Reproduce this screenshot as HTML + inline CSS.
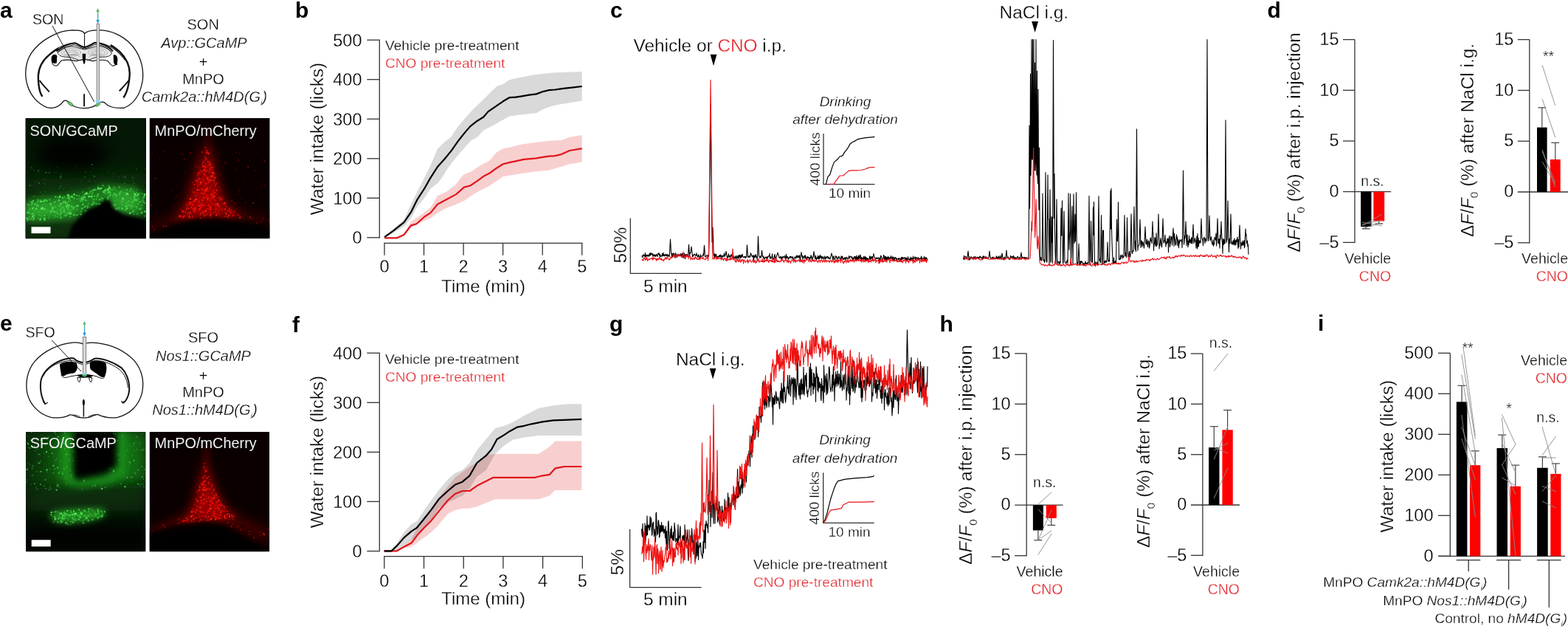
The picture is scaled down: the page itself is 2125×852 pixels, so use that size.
<!DOCTYPE html>
<html><head><meta charset="utf-8"><style>
html,body{margin:0;padding:0;background:#fff;}
svg{display:block;}
text{font-family:"Liberation Sans",Arial,sans-serif;stroke:#fff;stroke-width:0.3px;}
text.nb{stroke:none;}
</style></head><body>
<svg width="2125" height="852" viewBox="0 0 2125 852">
<rect width="2125" height="852" fill="#fff"/>
<text x="0" y="24" font-size="30" text-anchor="start" fill="#000" class="nb" font-weight="bold">a</text>
<text x="400" y="23.6" font-size="30" text-anchor="start" fill="#000" class="nb" font-weight="bold">b</text>
<text x="827" y="24" font-size="30" text-anchor="start" fill="#000" class="nb" font-weight="bold">c</text>
<text x="1717.5" y="24.4" font-size="30" text-anchor="start" fill="#000" class="nb" font-weight="bold">d</text>
<text x="0" y="447.5" font-size="30" text-anchor="start" fill="#000" class="nb" font-weight="bold">e</text>
<text x="396" y="449.6" font-size="30" text-anchor="start" fill="#000" class="nb" font-weight="bold">f</text>
<text x="826" y="449" font-size="30" text-anchor="start" fill="#000" class="nb" font-weight="bold">g</text>
<text x="1273.5" y="449" font-size="30" text-anchor="start" fill="#000" class="nb" font-weight="bold">h</text>
<text x="1786" y="448" font-size="30" text-anchor="start" fill="#000" class="nb" font-weight="bold">i</text>
<path d="M521.1,322.3 L538,321.6 L547.5,317 L557,300.1 L572.8,289.5 L583.4,281.1 L592.9,265.2 L604.5,259.9 L617.2,250.4 L627.8,236.7 L638.4,232.4 L651.1,224 L663.7,217.6 L672.2,207.1 L681.7,201.2 L690.2,199.8 L707.1,195.6 L726.8,192.8 L743.7,190.8 L760.6,190 L771.8,185.7 L788.7,182.9 L788.7,219.5 L771.8,222.3 L757.8,226.6 L743.7,230.8 L726.8,232.2 L707.1,235 L690.2,237.8 L681.7,239.2 L663.7,251.5 L651.1,257.8 L638.4,265.2 L629.9,271.5 L618.3,276.8 L604.5,282.1 L592.9,288.4 L583.4,295.8 L572.8,300.1 L557,308.5 L547.5,319.1 L538,322.7 L521.1,322.3 Z" fill="#f8cfcf" stroke="none"/>
<path d="M521.1,321.2 L534.8,308.5 L547.5,298 L557,276.8 L565.4,259.9 L575,240.9 L583.4,224 L592.9,201.8 L602.4,192.3 L610.9,185.9 L619.3,173.3 L629.9,160.6 L638.4,151.1 L673.3,116.7 L681.7,113.9 L690.2,108.3 L698.6,106.3 L709.9,104.1 L721.2,101.8 L735.2,99.9 L749.3,98.4 L788.7,97 L788.7,136.5 L769,139.8 L755,142.1 L743.7,144.9 L735.2,148.6 L726.8,153.3 L707.1,155.3 L690.2,157.6 L668,170.1 L655.3,176.4 L646.8,185.9 L638.4,190.2 L629.9,199.7 L621.5,209.2 L613,219.8 L606.7,228.2 L600.3,238.8 L594,247.2 L583.4,255.7 L575,268.4 L565.4,280 L557,295.8 L547.5,306.4 L532.7,315.9 L521.1,321.2 Z" fill="#d9d9d9" stroke="none" style="mix-blend-mode:multiply"/>
<path d="M521.1,322.3 L538,322.3 L547.5,318 L557,305.4 L564.4,303.2 L575,293.7 L583.4,288.4 L592.9,276.8 L604.5,270.5 L618.3,263.1 L628.9,253.6 L637.3,251.5 L646.8,245.1 L655.3,238.8 L663.7,234.5 L672.2,228.2 L681.7,222.3 L690.2,220.1 L698.6,218.4 L709.9,215.9 L726.8,214.4 L735.2,212.8 L743.7,211.6 L752.1,211.1 L760.6,209.1 L771.8,204 L788.7,201.2" fill="none" stroke="#e0161c" stroke-width="2.2" stroke-linejoin="round"/>
<path d="M521.1,321.2 L532.7,312.8 L547.5,301.1 L557,287.4 L565.4,270.5 L575,255.7 L583.4,240.9 L592.9,226.1 L602.4,215.5 L611.9,203.9 L621.5,190.2 L629.9,179.6 L637.3,171.1 L646.8,163.7 L655.3,158.5 L661.6,151.1 L681.7,137.3 L690.2,132.2 L698.6,131.7 L707.1,130.3 L716.9,128.6 L726.8,127.4 L735.2,124.3 L743.7,122.1 L752.1,121.5 L763.4,119.8 L774.7,118.7 L788.7,117" fill="none" stroke="#000" stroke-width="2.2" stroke-linejoin="round"/>
<line x1="514.3" y1="54.2" x2="514.3" y2="322.4" stroke="#333" stroke-width="1.3"/>
<line x1="497.3" y1="321.8" x2="514.9" y2="321.8" stroke="#333" stroke-width="1.3"/>
<text x="490.5" y="330.1" font-size="23.5" text-anchor="end" fill="#000">0</text>
<line x1="497.3" y1="268.3" x2="514.9" y2="268.3" stroke="#333" stroke-width="1.3"/>
<text x="490.5" y="276.6" font-size="23.5" text-anchor="end" fill="#000">100</text>
<line x1="497.3" y1="214.8" x2="514.9" y2="214.8" stroke="#333" stroke-width="1.3"/>
<text x="490.5" y="223.1" font-size="23.5" text-anchor="end" fill="#000">200</text>
<line x1="497.3" y1="161.2" x2="514.9" y2="161.2" stroke="#333" stroke-width="1.3"/>
<text x="490.5" y="169.5" font-size="23.5" text-anchor="end" fill="#000">300</text>
<line x1="497.3" y1="107.7" x2="514.9" y2="107.7" stroke="#333" stroke-width="1.3"/>
<text x="490.5" y="116" font-size="23.5" text-anchor="end" fill="#000">400</text>
<line x1="497.3" y1="54.2" x2="514.9" y2="54.2" stroke="#333" stroke-width="1.3"/>
<text x="490.5" y="62.5" font-size="23.5" text-anchor="end" fill="#000">500</text>
<line x1="520.4" y1="329.3" x2="789.3" y2="329.3" stroke="#333" stroke-width="1.3"/>
<line x1="521" y1="329.3" x2="521" y2="345.8" stroke="#333" stroke-width="1.3"/>
<text x="521" y="368.8" font-size="23.5" text-anchor="middle" fill="#000">0</text>
<line x1="574.5" y1="329.3" x2="574.5" y2="345.8" stroke="#333" stroke-width="1.3"/>
<text x="574.5" y="368.8" font-size="23.5" text-anchor="middle" fill="#000">1</text>
<line x1="628.1" y1="329.3" x2="628.1" y2="345.8" stroke="#333" stroke-width="1.3"/>
<text x="628.1" y="368.8" font-size="23.5" text-anchor="middle" fill="#000">2</text>
<line x1="681.6" y1="329.3" x2="681.6" y2="345.8" stroke="#333" stroke-width="1.3"/>
<text x="681.6" y="368.8" font-size="23.5" text-anchor="middle" fill="#000">3</text>
<line x1="735.2" y1="329.3" x2="735.2" y2="345.8" stroke="#333" stroke-width="1.3"/>
<text x="735.2" y="368.8" font-size="23.5" text-anchor="middle" fill="#000">4</text>
<line x1="788.7" y1="329.3" x2="788.7" y2="345.8" stroke="#333" stroke-width="1.3"/>
<text x="788.7" y="368.8" font-size="23.5" text-anchor="middle" fill="#000">5</text>
<text x="655" y="395.8" font-size="24" text-anchor="middle" fill="#000">Time (min)</text>
<text transform="translate(437.5,188) rotate(-90)" font-size="24.4" text-anchor="middle" fill="#000">Water intake (licks)</text>
<text x="522" y="68" font-size="19.1" text-anchor="start" fill="#000">Vehicle pre-treatment</text>
<text x="522" y="92.3" font-size="19.1" text-anchor="start" fill="#e3262b">CNO pre-treatment</text>
<path d="M520.6,746.3 L537.9,746.3 L547.7,738 L557.6,730.6 L565,715.8 L574.9,701 L584.7,688.7 L594.6,673.9 L606.9,659.1 L616.8,646.8 L626.6,639.4 L636.5,632 L646.3,627 L658.7,617.2 L668.5,614.7 L685.8,614.7 L710.4,614.7 L730.1,614.7 L744.9,604.9 L752.3,597.5 L764.6,597.5 L788.3,597.5 L788.3,664 L764.6,664 L752.3,664 L744.9,671.4 L730.1,676.3 L710.4,676.3 L685.8,676.3 L671,676.3 L658.7,681.3 L646.3,686.2 L636.5,688.7 L626.6,688.7 L616.8,691.1 L606.9,696.1 L594.6,710.8 L584.7,720.7 L574.9,728.1 L565,735.5 L557.6,740.4 L547.7,742.9 L537.9,746.3 L520.6,746.3 Z" fill="#f8cfcf" stroke="none"/>
<path d="M520.6,746.3 L530.5,745.4 L537.9,735.5 L547.7,720.7 L557.6,709.9 L565,705.9 L574.9,691.1 L584.7,677.3 L594.6,664 L606.9,649.2 L616.8,640.8 L626.6,636.9 L636.5,627 L646.3,609.8 L658.7,595 L671,580.2 L683.3,576.8 L695.6,571.8 L710.4,563 L730.1,553.1 L749.9,549.2 L769.6,547.2 L788.3,547.2 L788.3,590.1 L769.6,590.1 L749.9,590.1 L730.1,590.1 L710.4,592.5 L695.6,595.5 L683.3,603.4 L671,614.7 L658.7,636.9 L646.3,645.8 L636.5,661.5 L626.6,671.4 L616.8,676.3 L606.9,680.3 L594.6,688.7 L584.7,703.5 L574.9,714.8 L565,726.6 L557.6,731.5 L547.7,738 L537.9,745.4 L520.6,746.3 Z" fill="#d9d9d9" stroke="none" style="mix-blend-mode:multiply"/>
<path d="M520.6,746.3 L537.9,746.3 L547.7,740.4 L557.6,735.5 L565,725.6 L574.9,714.8 L584.7,704.9 L594.6,692.6 L606.9,677.8 L616.8,668.9 L626.6,665 L636.5,665 L646.3,658.1 L658.7,651.7 L668.5,646.8 L685.8,646.8 L710.4,646.8 L725.2,646.8 L735.1,644.3 L744.9,642.8 L752.3,634.4 L764.6,632 L788.3,632" fill="none" stroke="#e0161c" stroke-width="2.2" stroke-linejoin="round"/>
<path d="M520.6,746.3 L530.5,746.3 L537.9,739.4 L547.7,728.1 L557.6,719.7 L565,714.8 L574.9,702.5 L584.7,690.1 L594.6,676.3 L606.9,665 L616.8,656.6 L626.6,652.7 L636.5,644.3 L646.3,627 L658.7,617.2 L666.1,608.8 L673.5,595 L683.3,589.1 L690.7,584.2 L700.6,578.7 L710.4,576.8 L720.3,574.3 L735.1,571.3 L749.9,569.4 L764.6,568.9 L788.3,567.9" fill="none" stroke="#000" stroke-width="2.2" stroke-linejoin="round"/>
<line x1="514.3" y1="478.2" x2="514.3" y2="747.1" stroke="#333" stroke-width="1.3"/>
<line x1="497.3" y1="746.5" x2="514.9" y2="746.5" stroke="#333" stroke-width="1.3"/>
<text x="490.5" y="754.8" font-size="23.5" text-anchor="end" fill="#000">0</text>
<line x1="497.3" y1="679.4" x2="514.9" y2="679.4" stroke="#333" stroke-width="1.3"/>
<text x="490.5" y="687.7" font-size="23.5" text-anchor="end" fill="#000">100</text>
<line x1="497.3" y1="612.4" x2="514.9" y2="612.4" stroke="#333" stroke-width="1.3"/>
<text x="490.5" y="620.6" font-size="23.5" text-anchor="end" fill="#000">200</text>
<line x1="497.3" y1="545.3" x2="514.9" y2="545.3" stroke="#333" stroke-width="1.3"/>
<text x="490.5" y="553.6" font-size="23.5" text-anchor="end" fill="#000">300</text>
<line x1="497.3" y1="478.2" x2="514.9" y2="478.2" stroke="#333" stroke-width="1.3"/>
<text x="490.5" y="486.5" font-size="23.5" text-anchor="end" fill="#000">400</text>
<line x1="520.2" y1="753.7" x2="789.9" y2="753.7" stroke="#333" stroke-width="1.3"/>
<line x1="520.8" y1="753.7" x2="520.8" y2="770.2" stroke="#333" stroke-width="1.3"/>
<text x="520.8" y="794.6" font-size="23.5" text-anchor="middle" fill="#000">0</text>
<line x1="574.5" y1="753.7" x2="574.5" y2="770.2" stroke="#333" stroke-width="1.3"/>
<text x="574.5" y="794.6" font-size="23.5" text-anchor="middle" fill="#000">1</text>
<line x1="628.2" y1="753.7" x2="628.2" y2="770.2" stroke="#333" stroke-width="1.3"/>
<text x="628.2" y="794.6" font-size="23.5" text-anchor="middle" fill="#000">2</text>
<line x1="681.9" y1="753.7" x2="681.9" y2="770.2" stroke="#333" stroke-width="1.3"/>
<text x="681.9" y="794.6" font-size="23.5" text-anchor="middle" fill="#000">3</text>
<line x1="735.6" y1="753.7" x2="735.6" y2="770.2" stroke="#333" stroke-width="1.3"/>
<text x="735.6" y="794.6" font-size="23.5" text-anchor="middle" fill="#000">4</text>
<line x1="789.3" y1="753.7" x2="789.3" y2="770.2" stroke="#333" stroke-width="1.3"/>
<text x="789.3" y="794.6" font-size="23.5" text-anchor="middle" fill="#000">5</text>
<text x="655" y="819.3" font-size="24" text-anchor="middle" fill="#000">Time (min)</text>
<text transform="translate(437.5,612) rotate(-90)" font-size="24.4" text-anchor="middle" fill="#000">Water intake (licks)</text>
<text x="522" y="492.5" font-size="19.1" text-anchor="start" fill="#000">Vehicle pre-treatment</text>
<text x="522" y="516.8" font-size="19.1" text-anchor="start" fill="#e3262b">CNO pre-treatment</text>
<text x="858.5" y="69.8" font-size="24.4" fill="#000">Vehicle or <tspan fill="#e3262b">CNO</tspan> i.p.</text>
<path d="M962.6,73.8 L971.4,73.8 L967,89.3 Z" fill="#000"/>
<path d="M870,346.1 L870.5,348.4 L871,348.2 L871.5,345.1 L872,345.4 L872.5,345 L873,347 L873.5,345.8 L874,347.3 L874.5,342.6 L875,348.7 L875.5,345.7 L876,347.1 L876.5,345.7 L877,345.2 L877.5,346.7 L878,347.4 L878.5,345.5 L879,345.6 L879.5,347.1 L880,344.3 L880.5,343.1 L881,346.6 L881.5,344.6 L882,342.4 L882.5,344.4 L883,345 L883.5,343.7 L884,343.1 L884.5,345.9 L885,347.4 L885.5,345.4 L886,344.4 L886.5,346.5 L887,347 L887.5,345.2 L888,346.7 L888.5,347.6 L889,345.4 L889.5,344.3 L890,346.3 L890.5,346.2 L891,347.7 L891.5,343.4 L892,344.5 L892.5,344.2 L893,342.6 L893.5,345.9 L894,346.6 L894.5,344.3 L895,348.1 L895.5,347.1 L896,346.8 L896.5,346.3 L897,347.3 L897.5,343.2 L898,346.7 L898.5,346.7 L899,342.4 L899.5,346.2 L900,345.1 L900.5,347 L901,344.8 L901.5,345.5 L902,346.2 L902.5,344 L903,346.6 L903.5,345.3 L904,346.4 L904.5,344.6 L905,347.5 L905.5,346.6 L906,345.2 L906.5,346.7 L907,347.8 L907.5,342 L908,333 L908.5,324 L909,333 L909.5,342 L910,343.8 L910.5,347.9 L911,343.3 L911.5,346.6 L912,348 L912.5,342.8 L913,345.1 L913.5,343.3 L914,346.1 L914.5,348.4 L915,349.3 L915.5,342.5 L916,344.7 L916.5,347 L917,348.6 L917.5,346.5 L918,344.4 L918.5,346.3 L919,345.7 L919.5,345.4 L920,344.5 L920.5,346.5 L921,346.3 L921.5,345.6 L922,345.4 L922.5,343.5 L923,345 L923.5,348 L924,345.5 L924.5,343.3 L925,348.3 L925.5,346.8 L926,349.7 L926.5,346 L927,345.1 L927.5,343.3 L928,348.3 L928.5,350.6 L929,344.5 L929.5,344.8 L930,347 L930.5,344.5 L931,345.5 L931.5,345.4 L932,346.3 L932.5,348 L933,338.7 L933.5,331.4 L934,338.7 L934.5,346.6 L935,342.2 L935.5,343.4 L936,342.1 L936.5,338 L937,334 L937.5,338 L938,342.1 L938.5,347.6 L939,347.9 L939.5,345.9 L940,344.9 L940.5,344.8 L941,345.3 L941.5,344.1 L942,345.2 L942.5,346 L943,346.6 L943.5,345.6 L944,342.7 L944.5,346.1 L945,346.6 L945.5,348.2 L946,347.3 L946.5,345.1 L947,345 L947.5,349.9 L948,347.6 L948.5,349.6 L949,350.1 L949.5,344.8 L950,347 L950.5,347.2 L951,347.3 L951.5,347.3 L952,346.7 L952.5,346.7 L953,343.7 L953.5,346.1 L954,339.4 L954.5,332.4 L955,339.4 L955.5,347.5 L956,347.9 L956.5,347 L957,347 L957.5,346.6 L958,345.7 L958.5,346.2 L959,345.6 L959.5,347.2 L960,346.5 L960.5,347.6 L961,327.9 L961.5,281.4 L962,234.8 L962.5,188.2 L963,141.6 L963.5,188.2 L964,234.8 L964.5,281.4 L965,327.9 L965.5,324.1 L966,308 L966.5,324.1 L967,340.2 L967.5,346.7 L968,343.9 L968.5,349.9 L969,344 L969.5,347.6 L970,347.7 L970.5,344.2 L971,347.3 L971.5,348.6 L972,347.6 L972.5,347.3 L973,348.5 L973.5,347.1 L974,347.5 L974.5,346.6 L975,348 L975.5,345.2 L976,348.3 L976.5,346 L977,345 L977.5,347.6 L978,350 L978.5,348.7 L979,346 L979.5,348.2 L980,346.2 L980.5,346.8 L981,347.2 L981.5,342.9 L982,347.4 L982.5,345.2 L983,345.8 L983.5,343.2 L984,340.4 L984.5,343.2 L985,346 L985.5,350.1 L986,347.1 L986.5,349.1 L987,346.7 L987.5,343.7 L988,347.5 L988.5,348 L989,346.5 L989.5,347.8 L990,348.3 L990.5,345.7 L991,344.6 L991.5,346.9 L992,346.9 L992.5,346.7 L993,349.1 L993.5,350.4 L994,346.6 L994.5,348.6 L995,349.1 L995.5,348.7 L996,349.3 L996.5,346.7 L997,348.8 L997.5,351.1 L998,348.9 L998.5,346.3 L999,348.6 L999.5,349.8 L1000,348.2 L1000.5,346.5 L1001,350.3 L1001.5,345.3 L1002,348.4 L1002.5,347.5 L1003,345.4 L1003.5,349.8 L1004,348.2 L1004.5,345.5 L1005,348.7 L1005.5,346.8 L1006,344.2 L1006.5,346.4 L1007,348.1 L1007.5,348.8 L1008,347.9 L1008.5,347.7 L1009,348.5 L1009.5,347.3 L1010,349.8 L1010.5,347.9 L1011,348.2 L1011.5,348.7 L1012,339.8 L1012.5,331.9 L1013,339.8 L1013.5,348.3 L1014,347.2 L1014.5,348.4 L1015,346.9 L1015.5,348.3 L1016,346.6 L1016.5,348.3 L1017,344.9 L1017.5,342.7 L1018,345.2 L1018.5,345 L1019,347.4 L1019.5,347.2 L1020,348.1 L1020.5,345.8 L1021,348.6 L1021.5,354.4 L1022,345.6 L1022.5,348.5 L1023,347.3 L1023.5,348.2 L1024,344.6 L1024.5,345.8 L1025,348.7 L1025.5,347.9 L1026,350.9 L1026.5,346.7 L1027,334 L1027.5,320.1 L1028,334 L1028.5,346.3 L1029,347.9 L1029.5,347.9 L1030,349.5 L1030.5,348.2 L1031,346.7 L1031.5,348.4 L1032,343.7 L1032.5,339.4 L1033,343 L1033.5,347.8 L1034,346.5 L1034.5,349.2 L1035,347.8 L1035.5,351.6 L1036,349.8 L1036.5,349.7 L1037,348.5 L1037.5,348.1 L1038,348.7 L1038.5,350.5 L1039,349.1 L1039.5,347.5 L1040,350.5 L1040.5,348.5 L1041,348 L1041.5,346.8 L1042,347.2 L1042.5,347.1 L1043,343.2 L1043.5,350.1 L1044,349.3 L1044.5,347.9 L1045,350.1 L1045.5,349 L1046,348.9 L1046.5,343.8 L1047,347.9 L1047.5,349.2 L1048,351.2 L1048.5,351.6 L1049,350.9 L1049.5,346.2 L1050,344.4 L1050.5,349.4 L1051,348.4 L1051.5,350.1 L1052,348.1 L1052.5,346.8 L1053,345.3 L1053.5,343.8 L1054,342.2 L1054.5,343.8 L1055,345.3 L1055.5,346.8 L1056,349 L1056.5,348.4 L1057,349.8 L1057.5,349.4 L1058,347.5 L1058.5,347.4 L1059,351.6 L1059.5,348.3 L1060,350.3 L1060.5,349.2 L1061,347.5 L1061.5,347.2 L1062,348.7 L1062.5,349 L1063,349.6 L1063.5,346.3 L1064,347.5 L1064.5,348.4 L1065,351.4 L1065.5,344.3 L1066,349.4 L1066.5,347.6 L1067,349.4 L1067.5,347.7 L1068,349.2 L1068.5,351.4 L1069,349.2 L1069.5,349.4 L1070,349.3 L1070.5,347.3 L1071,349.6 L1071.5,348.3 L1072,347.2 L1072.5,348.6 L1073,348.2 L1073.5,350 L1074,348.6 L1074.5,347.7 L1075,351.3 L1075.5,350.5 L1076,351 L1076.5,349.8 L1077,348.5 L1077.5,347.9 L1078,348.2 L1078.5,350.4 L1079,348.9 L1079.5,346 L1080,348.7 L1080.5,346.2 L1081,349 L1081.5,346.6 L1082,346.5 L1082.5,349 L1083,348.6 L1083.5,345.8 L1084,350.1 L1084.5,352.7 L1085,346.1 L1085.5,345.1 L1086,341.5 L1086.5,345.1 L1087,348.5 L1087.5,346.2 L1088,351.1 L1088.5,349.7 L1089,347.5 L1089.5,348.3 L1090,346.1 L1090.5,348.2 L1091,350.5 L1091.5,345.8 L1092,348.1 L1092.5,349.1 L1093,350.8 L1093.5,351.3 L1094,348.1 L1094.5,347.6 L1095,349.7 L1095.5,348.2 L1096,348.3 L1096.5,350.8 L1097,352 L1097.5,349.4 L1098,348.6 L1098.5,350 L1099,345.5 L1099.5,348.9 L1100,347 L1100.5,353.3 L1101,350.3 L1101.5,349.2 L1102,348.6 L1102.5,344.4 L1103,340.5 L1103.5,344.7 L1104,347.7 L1104.5,350.2 L1105,350.3 L1105.5,346.2 L1106,350.7 L1106.5,351.5 L1107,349.4 L1107.5,348.9 L1108,350.5 L1108.5,346.3 L1109,349.2 L1109.5,350.9 L1110,346.8 L1110.5,350.8 L1111,348.3 L1111.5,345.3 L1112,348.9 L1112.5,347.3 L1113,349.7 L1113.5,347 L1114,351 L1114.5,347.8 L1115,349.8 L1115.5,348 L1116,348.5 L1116.5,351.3 L1117,349.5 L1117.5,348.4 L1118,346.9 L1118.5,351.2 L1119,350.5 L1119.5,348.6 L1120,349.6 L1120.5,347.3 L1121,347.4 L1121.5,347.7 L1122,349.8 L1122.5,349.7 L1123,347.9 L1123.5,350.5 L1124,350.6 L1124.5,349.5 L1125,351.1 L1125.5,348.7 L1126,347.2 L1126.5,345.1 L1127,343 L1127.5,345.1 L1128,347 L1128.5,351.8 L1129,347.9 L1129.5,349 L1130,346.8 L1130.5,350.4 L1131,351.6 L1131.5,351.2 L1132,350.8 L1132.5,346.5 L1133,347.9 L1133.5,348.5 L1134,347.6 L1134.5,351.3 L1135,349.7 L1135.5,349.3 L1136,350.2 L1136.5,347.6 L1137,347.7 L1137.5,347.8 L1138,350.3 L1138.5,350 L1139,350.4 L1139.5,351.3 L1140,346.9 L1140.5,348.4 L1141,349.7 L1141.5,347 L1142,348.5 L1142.5,351.2 L1143,351.4 L1143.5,351.4 L1144,349.5 L1144.5,349.1 L1145,351.4 L1145.5,348.8 L1146,350.1 L1146.5,351.8 L1147,348.8 L1147.5,348.4 L1148,349.5 L1148.5,350.6 L1149,350.4 L1149.5,349.8 L1150,350.5 L1150.5,346.6 L1151,348 L1151.5,349.8 L1152,347.8 L1152.5,347.1 L1153,347.4 L1153.5,347.9 L1154,349.2 L1154.5,347.7 L1155,350 L1155.5,352.6 L1156,349.3 L1156.5,351.9 L1157,350.1 L1157.5,347.6 L1158,349.1 L1158.5,347.8 L1159,351 L1159.5,347.5 L1160,352 L1160.5,350.6 L1161,346 L1161.5,351 L1162,352.4 L1162.5,348.2 L1163,351.4 L1163.5,346.4 L1164,350.1 L1164.5,346.6 L1165,350.5 L1165.5,346.4 L1166,344.9 L1166.5,350.4 L1167,353.8 L1167.5,348.6 L1168,351.2 L1168.5,349.9 L1169,349.1 L1169.5,350.8 L1170,352.6 L1170.5,347.5 L1171,350.7 L1171.5,350.3 L1172,347.1 L1172.5,352.6 L1173,353.2 L1173.5,348 L1174,352.9 L1174.5,349.8 L1175,349.4 L1175.5,352.4 L1176,350.2 L1176.5,350.3 L1177,352.5 L1177.5,352.1 L1178,351.4 L1178.5,347.2 L1179,346.9 L1179.5,351.8 L1180,348.1 L1180.5,350.1 L1181,347.9 L1181.5,349.5 L1182,347.5 L1182.5,352.7 L1183,348 L1183.5,346.7 L1184,343.5 L1184.5,346.7 L1185,347.3 L1185.5,349.8 L1186,349.5 L1186.5,350.8 L1187,350.7 L1187.5,349 L1188,350.3 L1188.5,349.2 L1189,350.7 L1189.5,349.7 L1190,348.7 L1190.5,349.8 L1191,350.5 L1191.5,354 L1192,349 L1192.5,350.4 L1193,352.5 L1193.5,346.2 L1194,346.8 L1194.5,347.8 L1195,349.7 L1195.5,354.3 L1196,350.6 L1196.5,352.1 L1197,349.5 L1197.5,345.5 L1198,345.8 L1198.5,351.8 L1199,350.3 L1199.5,347.6 L1200,352 L1200.5,347.2 L1201,352 L1201.5,352.6 L1202,348.6 L1202.5,348 L1203,351.5 L1203.5,348 L1204,351.6 L1204.5,347.9 L1205,351.5 L1205.5,350.2 L1206,349.2 L1206.5,348.4 L1207,350.5 L1207.5,346.6 L1208,349.5 L1208.5,349.3 L1209,351.3 L1209.5,347.8 L1210,353.1 L1210.5,349.5 L1211,348 L1211.5,352.6 L1212,353.1 L1212.5,349.7 L1213,348.5 L1213.5,350.1 L1214,348.9 L1214.5,349.5 L1215,352.9 L1215.5,350.8 L1216,350.4 L1216.5,350.7 L1217,350 L1217.5,351.6 L1218,351.7 L1218.5,349.5 L1219,350.3 L1219.5,354.5 L1220,350.9 L1220.5,349.8 L1221,353.9 L1221.5,350.2 L1222,348.2 L1222.5,351.4 L1223,348.6 L1223.5,349.3 L1224,350.8 L1224.5,350 L1225,348.8 L1225.5,349.2 L1226,349.1 L1226.5,352.3 L1227,348.9 L1227.5,349.2 L1228,353.9 L1228.5,349.2 L1229,352.9 L1229.5,352.6 L1230,350 L1230.5,347.7 L1231,351.1 L1231.5,351.5 L1232,352 L1232.5,350.4 L1233,352.4 L1233.5,352.8 L1234,348.4 L1234.5,352.9 L1235,350.6 L1235.5,349.3 L1236,349.7 L1236.5,353.7 L1237,352.1 L1237.5,347.1 L1238,350.5 L1238.5,350.1 L1239,350 L1239.5,349.4 L1240,347.7 L1240.5,351.9 L1241,348.7 L1241.5,349.7 L1242,349.3 L1242.5,349.1 L1243,351.7 L1243.5,351.1 L1244,349.2 L1244.5,348.7 L1245,349.5 L1245.5,352.1 L1246,350.6 L1246.5,350.8 L1247,349.8 L1247.5,349.9 L1248,350.8 L1248.5,347.1 L1249,353.3 L1249.5,349 L1250,349.4 L1250.5,352.8 L1251,350.8 L1251.5,350.5 L1252,349.4 L1252.5,347.6 L1253,350.8 L1253.5,352.6 L1254,348.9 L1254.5,352.9 L1255,348.5 L1255.5,349.2 L1256,351.4 L1256.5,350.5 L1257,351.7" fill="none" stroke="#000" stroke-width="1.1" stroke-linejoin="round"/>
<path d="M870,351 L870.5,352.5 L871,352 L871.5,352 L872,353.2 L872.5,349.3 L873,350.1 L873.5,349.1 L874,350.8 L874.5,352.3 L875,350.9 L875.5,351.6 L876,348.2 L876.5,351.1 L877,349.6 L877.5,353.4 L878,352.1 L878.5,352.2 L879,350.8 L879.5,351.7 L880,351.8 L880.5,350.4 L881,350.2 L881.5,350.7 L882,350 L882.5,350 L883,350.4 L883.5,349.8 L884,351.9 L884.5,348.6 L885,352 L885.5,349.9 L886,350 L886.5,348.9 L887,350.6 L887.5,350.4 L888,351 L888.5,350 L889,350.9 L889.5,353.3 L890,351.3 L890.5,349.9 L891,352.1 L891.5,350.5 L892,351.5 L892.5,351.6 L893,350.1 L893.5,348 L894,350.2 L894.5,351.4 L895,350.1 L895.5,351.3 L896,352 L896.5,349.9 L897,352.4 L897.5,352.9 L898,352.1 L898.5,352.3 L899,352.2 L899.5,353.8 L900,350.9 L900.5,350.6 L901,351.4 L901.5,349.3 L902,348.4 L902.5,349.3 L903,351.1 L903.5,351.2 L904,348.4 L904.5,347.9 L905,350.1 L905.5,350.3 L906,350.5 L906.5,351.5 L907,352.2 L907.5,350.8 L908,351.4 L908.5,348.5 L909,348 L909.5,349.5 L910,349.7 L910.5,349.3 L911,348.7 L911.5,348.5 L912,348.1 L912.5,344.5 L913,346 L913.5,347.6 L914,347.8 L914.5,344.9 L915,348.6 L915.5,346.4 L916,346.7 L916.5,347.4 L917,348 L917.5,345 L918,348.4 L918.5,347.1 L919,345.9 L919.5,346.6 L920,343.9 L920.5,346.1 L921,347.3 L921.5,346 L922,346.5 L922.5,346.8 L923,347.1 L923.5,348.4 L924,347 L924.5,346.6 L925,347.8 L925.5,344 L926,341 L926.5,344 L927,344.8 L927.5,348.9 L928,347.9 L928.5,348.9 L929,346.9 L929.5,345.5 L930,348.2 L930.5,348.1 L931,345.8 L931.5,344.9 L932,347.6 L932.5,346.8 L933,350.7 L933.5,346.6 L934,347.1 L934.5,348.2 L935,346.4 L935.5,347.9 L936,351.9 L936.5,349.9 L937,349.6 L937.5,348.7 L938,351.3 L938.5,351.4 L939,350.8 L939.5,349.9 L940,350.9 L940.5,351 L941,349.5 L941.5,351.3 L942,347.4 L942.5,348.6 L943,349.9 L943.5,350.2 L944,348.7 L944.5,350.8 L945,351.8 L945.5,350.9 L946,350.6 L946.5,351.5 L947,350.8 L947.5,348.7 L948,350 L948.5,352.1 L949,348.6 L949.5,350.3 L950,349.7 L950.5,348.9 L951,348.8 L951.5,350.3 L952,350.6 L952.5,350.6 L953,348.1 L953.5,349.7 L954,350.6 L954.5,351.4 L955,351.1 L955.5,351.3 L956,351.6 L956.5,351.2 L957,348.9 L957.5,350.1 L958,349 L958.5,346.7 L959,347.7 L959.5,352.9 L960,348.4 L960.5,340.6 L961,294.1 L961.5,247.6 L962,201.1 L962.5,154.7 L963,108.2 L963.5,154.7 L964,201.1 L964.5,247.6 L965,294.1 L965.5,340.6 L966,351.2 L966.5,349.4 L967,350 L967.5,350 L968,348.7 L968.5,351.2 L969,349.3 L969.5,348.7 L970,347.2 L970.5,347.8 L971,351.7 L971.5,348.1 L972,350.3 L972.5,349.2 L973,350.5 L973.5,350.7 L974,348.8 L974.5,349.5 L975,350.1 L975.5,350.2 L976,350.1 L976.5,349.7 L977,351.1 L977.5,352.1 L978,351.1 L978.5,349.3 L979,351 L979.5,350.5 L980,351.1 L980.5,353.1 L981,350.3 L981.5,350.6 L982,349.5 L982.5,350.3 L983,350 L983.5,353.1 L984,351.3 L984.5,350.1 L985,353.7 L985.5,349.2 L986,352.3 L986.5,352.6 L987,352 L987.5,350.9 L988,351.1 L988.5,350.9 L989,352.5 L989.5,348.2 L990,350.8 L990.5,351.8 L991,350.8 L991.5,349.1 L992,351.4 L992.5,344.4 L993,337 L993.5,344.4 L994,352 L994.5,349.2 L995,351.7 L995.5,350.8 L996,353.1 L996.5,354.5 L997,352.6 L997.5,355.1 L998,354.4 L998.5,353.3 L999,351.2 L999.5,352.7 L1000,350.6 L1000.5,354.2 L1001,352.9 L1001.5,354.7 L1002,353.3 L1002.5,350.2 L1003,353.9 L1003.5,354.4 L1004,355.4 L1004.5,351.8 L1005,351.9 L1005.5,353.3 L1006,351.8 L1006.5,351.4 L1007,351.9 L1007.5,357.1 L1008,352.6 L1008.5,352.1 L1009,352.9 L1009.5,353.6 L1010,355.5 L1010.5,355 L1011,354.7 L1011.5,353.7 L1012,353.9 L1012.5,352.7 L1013,351.5 L1013.5,356.5 L1014,353 L1014.5,355 L1015,353.2 L1015.5,353.5 L1016,353.4 L1016.5,351.7 L1017,353.5 L1017.5,354.2 L1018,354.8 L1018.5,354.3 L1019,355 L1019.5,354 L1020,353.6 L1020.5,350.8 L1021,352.8 L1021.5,355.8 L1022,353.8 L1022.5,354.7 L1023,353.3 L1023.5,352.6 L1024,356.5 L1024.5,354.1 L1025,355.7 L1025.5,354.3 L1026,353.2 L1026.5,350.4 L1027,353.7 L1027.5,351.4 L1028,350.5 L1028.5,355.3 L1029,354.6 L1029.5,354.5 L1030,353.6 L1030.5,353.5 L1031,354.2 L1031.5,353.8 L1032,353.7 L1032.5,354.6 L1033,350.1 L1033.5,354.8 L1034,352.7 L1034.5,354.8 L1035,355.2 L1035.5,352.4 L1036,354.7 L1036.5,354.6 L1037,352.5 L1037.5,352.8 L1038,353.6 L1038.5,350.4 L1039,352.8 L1039.5,353.7 L1040,352.8 L1040.5,351.2 L1041,352.9 L1041.5,355.6 L1042,355.3 L1042.5,353.3 L1043,352.3 L1043.5,353.4 L1044,353.5 L1044.5,352.5 L1045,353 L1045.5,354.3 L1046,354.7 L1046.5,350 L1047,354.8 L1047.5,353.6 L1048,355 L1048.5,353.4 L1049,354 L1049.5,355.7 L1050,349.3 L1050.5,355.7 L1051,353.7 L1051.5,350.9 L1052,349.7 L1052.5,353.9 L1053,352 L1053.5,354.8 L1054,353.7 L1054.5,353.2 L1055,354.8 L1055.5,353.7 L1056,354.5 L1056.5,354.6 L1057,353.9 L1057.5,354.5 L1058,354.5 L1058.5,351.5 L1059,353 L1059.5,353.2 L1060,352.9 L1060.5,351.2 L1061,352.6 L1061.5,353.9 L1062,353.7 L1062.5,355.5 L1063,352.5 L1063.5,352.8 L1064,352.6 L1064.5,352.9 L1065,352.5 L1065.5,350.8 L1066,353.9 L1066.5,354.8 L1067,355 L1067.5,351.9 L1068,353.1 L1068.5,356 L1069,353.2 L1069.5,353.9 L1070,353.2 L1070.5,354.8 L1071,354.7 L1071.5,356.6 L1072,354.1 L1072.5,354 L1073,351.7 L1073.5,352.8 L1074,352.4 L1074.5,352.9 L1075,351.5 L1075.5,355.1 L1076,351.9 L1076.5,353.7 L1077,351.6 L1077.5,353.8 L1078,355.7 L1078.5,352.2 L1079,353.9 L1079.5,353.3 L1080,353.8 L1080.5,353.9 L1081,352.5 L1081.5,353.1 L1082,352.5 L1082.5,352.2 L1083,351.6 L1083.5,354.7 L1084,352.3 L1084.5,354.3 L1085,354.1 L1085.5,351.9 L1086,354.8 L1086.5,352.1 L1087,354.2 L1087.5,355.4 L1088,352.3 L1088.5,352 L1089,352 L1089.5,356.6 L1090,352.8 L1090.5,351.6 L1091,354.5 L1091.5,353.1 L1092,353.3 L1092.5,351.9 L1093,350.2 L1093.5,352.3 L1094,351.9 L1094.5,351 L1095,351.8 L1095.5,352 L1096,354.4 L1096.5,354.3 L1097,354 L1097.5,352.6 L1098,351.5 L1098.5,353.7 L1099,353.9 L1099.5,354.7 L1100,353.3 L1100.5,353.1 L1101,353.7 L1101.5,352 L1102,352.2 L1102.5,354.2 L1103,351.5 L1103.5,353.2 L1104,354.4 L1104.5,353.6 L1105,353.9 L1105.5,351.7 L1106,353.1 L1106.5,352.9 L1107,354.1 L1107.5,353.9 L1108,353.3 L1108.5,356 L1109,354.1 L1109.5,352.9 L1110,352.5 L1110.5,353.3 L1111,352.5 L1111.5,355.6 L1112,354.1 L1112.5,352.9 L1113,352.4 L1113.5,351.8 L1114,352.9 L1114.5,355.2 L1115,354.5 L1115.5,353.2 L1116,353.5 L1116.5,350.7 L1117,354.4 L1117.5,353 L1118,355.2 L1118.5,353.1 L1119,352.6 L1119.5,353.6 L1120,352.4 L1120.5,355.2 L1121,353.7 L1121.5,353.8 L1122,353.8 L1122.5,352.8 L1123,354 L1123.5,353.6 L1124,355.8 L1124.5,353.4 L1125,353.9 L1125.5,352.7 L1126,352.8 L1126.5,352.9 L1127,355.2 L1127.5,353.5 L1128,354.7 L1128.5,353 L1129,352.9 L1129.5,350.7 L1130,354.5 L1130.5,356.3 L1131,353.1 L1131.5,355.4 L1132,354.6 L1132.5,352.4 L1133,354.5 L1133.5,352.1 L1134,353 L1134.5,355.1 L1135,353.6 L1135.5,351.7 L1136,355.4 L1136.5,351.8 L1137,353.2 L1137.5,352.9 L1138,353.2 L1138.5,352.2 L1139,351.1 L1139.5,356 L1140,352.1 L1140.5,352.1 L1141,350 L1141.5,353.5 L1142,355.2 L1142.5,355.3 L1143,357.2 L1143.5,355.5 L1144,353.9 L1144.5,353.4 L1145,355.4 L1145.5,353.3 L1146,353.7 L1146.5,352 L1147,353.5 L1147.5,356.1 L1148,353.3 L1148.5,353.9 L1149,350 L1149.5,355.2 L1150,353.9 L1150.5,355.3 L1151,353.7 L1151.5,352.2 L1152,351.4 L1152.5,354 L1153,353.3 L1153.5,352 L1154,353.2 L1154.5,352.4 L1155,354.3 L1155.5,352.7 L1156,351.6 L1156.5,353.1 L1157,352.5 L1157.5,355.3 L1158,352.6 L1158.5,351.4 L1159,353.1 L1159.5,352.8 L1160,353.6 L1160.5,353.5 L1161,351.7 L1161.5,353.1 L1162,353 L1162.5,351.5 L1163,352.3 L1163.5,353.4 L1164,350.9 L1164.5,351.6 L1165,352.5 L1165.5,353 L1166,353.8 L1166.5,351.2 L1167,353.5 L1167.5,353.9 L1168,355.2 L1168.5,352.5 L1169,351.8 L1169.5,350.9 L1170,353.8 L1170.5,354.9 L1171,352.1 L1171.5,353.7 L1172,354.3 L1172.5,354.4 L1173,352.5 L1173.5,354 L1174,353 L1174.5,351.8 L1175,353.5 L1175.5,353.7 L1176,351.8 L1176.5,353.8 L1177,356 L1177.5,351.1 L1178,354.2 L1178.5,354.5 L1179,353.3 L1179.5,353.6 L1180,352.8 L1180.5,355.1 L1181,351.9 L1181.5,353 L1182,350.4 L1182.5,353.6 L1183,353.7 L1183.5,350.8 L1184,351.9 L1184.5,353.8 L1185,352.4 L1185.5,351.4 L1186,349.6 L1186.5,353.6 L1187,355.8 L1187.5,352.4 L1188,353.7 L1188.5,353.7 L1189,352.9 L1189.5,353.2 L1190,353.2 L1190.5,351.8 L1191,356.6 L1191.5,356.9 L1192,353.5 L1192.5,355.6 L1193,351.9 L1193.5,352.7 L1194,354.6 L1194.5,351.4 L1195,351.2 L1195.5,353.5 L1196,350.3 L1196.5,355.5 L1197,354.1 L1197.5,353.4 L1198,354 L1198.5,351.8 L1199,351.8 L1199.5,354.3 L1200,354.4 L1200.5,353.3 L1201,353 L1201.5,352.3 L1202,355.1 L1202.5,351 L1203,351.9 L1203.5,352.3 L1204,351 L1204.5,351.2 L1205,351.7 L1205.5,354.5 L1206,355.6 L1206.5,353.6 L1207,350.8 L1207.5,352.3 L1208,352.9 L1208.5,352.7 L1209,352.6 L1209.5,353.8 L1210,350.4 L1210.5,352.3 L1211,353.4 L1211.5,354.1 L1212,353.5 L1212.5,353.1 L1213,352.9 L1213.5,352.2 L1214,353.2 L1214.5,352.8 L1215,352.1 L1215.5,354.8 L1216,354.8 L1216.5,352.6 L1217,354 L1217.5,354.8 L1218,353.5 L1218.5,353.3 L1219,353.8 L1219.5,350.8 L1220,351.1 L1220.5,353.9 L1221,353.5 L1221.5,355 L1222,352.4 L1222.5,354.7 L1223,354.6 L1223.5,355.9 L1224,352 L1224.5,352.6 L1225,353.5 L1225.5,353.5 L1226,351.7 L1226.5,352.3 L1227,351.3 L1227.5,356.4 L1228,353 L1228.5,353.1 L1229,352.3 L1229.5,353.2 L1230,354.2 L1230.5,352.7 L1231,353.1 L1231.5,356.2 L1232,354.4 L1232.5,353.5 L1233,352.5 L1233.5,353.1 L1234,352.1 L1234.5,353.5 L1235,352.2 L1235.5,352.1 L1236,352.5 L1236.5,351.6 L1237,353.4 L1237.5,356.6 L1238,352.2 L1238.5,350.7 L1239,354.4 L1239.5,352.9 L1240,355.8 L1240.5,353.6 L1241,354.3 L1241.5,351.9 L1242,350.8 L1242.5,352.8 L1243,353.9 L1243.5,351.8 L1244,350.8 L1244.5,352.1 L1245,352.4 L1245.5,352.5 L1246,352.9 L1246.5,356.3 L1247,353 L1247.5,352.3 L1248,351.4 L1248.5,354.1 L1249,350.7 L1249.5,355 L1250,352.9 L1250.5,350.8 L1251,353.2 L1251.5,352.8 L1252,354.6 L1252.5,350.8 L1253,353.2 L1253.5,352.9 L1254,354.2 L1254.5,351.3 L1255,351.8 L1255.5,355.6 L1256,353.7 L1256.5,350.8 L1257,353.3" fill="none" stroke="#e8141b" stroke-width="1.1" stroke-linejoin="round"/>
<path d="M854.3,295.5 L854.3,370.3 L951,370.3" fill="none" stroke="#333" stroke-width="1.3"/>
<text transform="translate(848.5,332) rotate(-90)" font-size="24.4" text-anchor="middle" fill="#000">50%</text>
<text x="872" y="395.6" font-size="24.4" text-anchor="start" fill="#000">5 min</text>
<text x="1145.5" y="143.5" font-size="19" text-anchor="middle" fill="#000" font-style="italic">Drinking</text>
<text x="1145.5" y="167.5" font-size="19" text-anchor="middle" fill="#000" font-style="italic">after dehydration</text>
<path d="M1116,181 L1116,249.6 L1185.5,249.6" fill="none" stroke="#333" stroke-width="1.3"/>
<text transform="translate(1110.5,215.3) rotate(-90)" font-size="18.6" text-anchor="middle" fill="#000">400 licks</text>
<text x="1151.5" y="268.4" font-size="19" text-anchor="middle" fill="#000">10 min</text>
<path d="M1119.2,249.6 L1122,239.3 L1124.8,236.5 L1127.6,227.1 L1130.4,219.6 L1135.1,215.8 L1138,212 L1141.7,211.1 L1144.5,206.4 L1148.3,201.7 L1152,195.1 L1155.8,192.3 L1159.6,190.4 L1162.4,188.6 L1167.1,187.6 L1172.7,186.7 L1185.5,185.4" fill="none" stroke="#000" stroke-width="1.2" stroke-linejoin="round"/>
<path d="M1122.9,249.6 L1130.4,249.2 L1132.3,245.9 L1135.1,242.1 L1138,238 L1142.7,238 L1146.4,234.6 L1150.2,231.4 L1153.9,230.8 L1161.4,230.8 L1167.1,230.5 L1172.7,229 L1176.5,227.4 L1180.2,226.5 L1185.5,226.7" fill="none" stroke="#e8141b" stroke-width="1.2" stroke-linejoin="round"/>
<text x="1354.6" y="25.4" font-size="24.4" text-anchor="start" fill="#000">NaCl i.g.</text>
<path d="M1398.2,29 L1407,29 L1402.6,44 Z" fill="#000"/>
<path d="M1305.5,349.5 L1306,351.3 L1306.5,346.3 L1307,351.5 L1307.5,348.9 L1308,347.8 L1308.5,347.8 L1309,347.4 L1309.5,348.7 L1310,350.3 L1310.5,349.9 L1311,350 L1311.5,344.5 L1312,340 L1312.5,344.5 L1313,350.5 L1313.5,352.3 L1314,350.9 L1314.5,347.5 L1315,351 L1315.5,350 L1316,349.4 L1316.5,347.8 L1317,349.1 L1317.5,348.8 L1318,350.4 L1318.5,349.3 L1319,351.5 L1319.5,347.9 L1320,349.8 L1320.5,349.8 L1321,347.8 L1321.5,347.3 L1322,350.6 L1322.5,349.9 L1323,348.9 L1323.5,349.7 L1324,348.1 L1324.5,349.5 L1325,348.2 L1325.5,349.4 L1326,350.6 L1326.5,348.6 L1327,350.4 L1327.5,347.6 L1328,348.7 L1328.5,347.1 L1329,349 L1329.5,349.3 L1330,348.8 L1330.5,348.7 L1331,351.2 L1331.5,351.3 L1332,347.3 L1332.5,350.9 L1333,346.6 L1333.5,348.1 L1334,348.9 L1334.5,349.3 L1335,347.6 L1335.5,348.1 L1336,349.3 L1336.5,348.1 L1337,348.2 L1337.5,350.2 L1338,350.6 L1338.5,349.1 L1339,349.2 L1339.5,349.2 L1340,348.5 L1340.5,344.6 L1341,340 L1341.5,344.6 L1342,349.1 L1342.5,349 L1343,349.5 L1343.5,350 L1344,351.3 L1344.5,348.8 L1345,348.6 L1345.5,349.5 L1346,348 L1346.5,351.1 L1347,350.6 L1347.5,350.3 L1348,349.1 L1348.5,350.4 L1349,350.8 L1349.5,350 L1350,348.8 L1350.5,346.7 L1351,350.7 L1351.5,348.7 L1352,348 L1352.5,350.6 L1353,349.8 L1353.5,347.1 L1354,349.1 L1354.5,348.9 L1355,350.8 L1355.5,346.4 L1356,348.7 L1356.5,349.1 L1357,351.4 L1357.5,346.1 L1358,343 L1358.5,346.1 L1359,349.7 L1359.5,350.5 L1360,351.9 L1360.5,349.9 L1361,348.1 L1361.5,350.6 L1362,349.3 L1362.5,349 L1363,349.3 L1363.5,344.2 L1364,339 L1364.5,344.2 L1365,349.2 L1365.5,349.2 L1366,348.1 L1366.5,348 L1367,349.9 L1367.5,351.4 L1368,350.4 L1368.5,350.4 L1369,351.2 L1369.5,346.4 L1370,347.1 L1370.5,348.3 L1371,347.6 L1371.5,347.9 L1372,349.5 L1372.5,347.4 L1373,348.7 L1373.5,346.3 L1374,347.9 L1374.5,351.4 L1375,348.6 L1375.5,349.9 L1376,350.5 L1376.5,348.7 L1377,350.3 L1377.5,349.7 L1378,350.5 L1378.5,348.5 L1379,347.3 L1379.5,347.9 L1380,348.6 L1380.5,350.2 L1381,349.1 L1381.5,348.8 L1382,349.2 L1382.5,351.1 L1383,348.6 L1383.5,345.7 L1384,342 L1384.5,345.7 L1385,350.7 L1385.5,350.2 L1386,348.2 L1386.5,349.3 L1387,348.4 L1387.5,350.7 L1388,350.3 L1388.5,348.4 L1389,350.1 L1389.5,348.9 L1390,349.4 L1390.5,349.6 L1391,348.6 L1391.5,350.1 L1392,350.2 L1392.5,350.1 L1393,351.1 L1393.5,349.1 L1394,347.3 L1394.5,282.2 L1395,170 L1395.5,282.2 L1396,237.4 L1396.5,100 L1397,237.4 L1397.5,215.4 L1398,53.5 L1398.5,215.4 L1399,216 L1399.5,53.5 L1400,216 L1400.5,216.5 L1401,53.5 L1401.5,216.5 L1402,231 L1402.5,85 L1403,231 L1403.5,217.6 L1404,53.5 L1404.5,217.6 L1405,237 L1405.5,96 L1406,237 L1406.5,248.6 L1407,121 L1407.5,248.6 L1408,284.3 L1408.5,200 L1409,284.3 L1409.5,352.4 L1410,349.5 L1410.5,348.4 L1411,352.5 L1411.5,353.2 L1412,351.9 L1412.5,312.8 L1413,262 L1413.5,312.8 L1414,352 L1414.5,353.3 L1415,351.9 L1415.5,355.5 L1416,354.6 L1416.5,294.3 L1417,233.6 L1417.5,294.3 L1418,352.2 L1418.5,355.2 L1419,354.7 L1419.5,296.5 L1420,237 L1420.5,296.5 L1421,296.5 L1421.5,329.6 L1422,359.4 L1422.5,306.4 L1423,256.8 L1423.5,306.4 L1424,355.3 L1424.5,354.2 L1425,293.8 L1425.5,328 L1426,293.8 L1426.5,356.4 L1427,205.2 L1427.5,54.5 L1428,205.2 L1428.5,295.8 L1429,235.5 L1429.5,311.8 L1430,336.4 L1430.5,354.3 L1431,356.6 L1431.5,313 L1432,270 L1432.5,313 L1433,358.1 L1433.5,353.7 L1434,354.3 L1434.5,355.5 L1435,356.3 L1435.5,357.9 L1436,354 L1436.5,355.1 L1437,356.5 L1437.5,319 L1438,282 L1438.5,319 L1439,318.5 L1439.5,271.7 L1440,318.5 L1440.5,356.9 L1441,355.3 L1441.5,321 L1442,286 L1442.5,321 L1443,354.4 L1443.5,355.3 L1444,356.2 L1444.5,356 L1445,356.7 L1445.5,353.9 L1446,354.8 L1446.5,351.7 L1447,356.1 L1447.5,314.1 L1448,261.8 L1448.5,314.1 L1449,338.4 L1449.5,320.7 L1450,314.4 L1450.5,262.5 L1451,314.4 L1451.5,358.8 L1452,329.7 L1452.5,296.9 L1453,279.2 L1453.5,321.8 L1454,357.2 L1454.5,314.6 L1455,262.8 L1455.5,303 L1456,329.5 L1456.5,326.8 L1457,290.3 L1457.5,326.8 L1458,308.4 L1458.5,260.7 L1459,308.4 L1459.5,356.1 L1460,358.1 L1460.5,355.5 L1461,356.9 L1461.5,343 L1462,330 L1462.5,343 L1463,359.5 L1463.5,354 L1464,358.4 L1464.5,353.8 L1465,356.8 L1465.5,353.8 L1466,354.7 L1466.5,355.2 L1467,354.8 L1467.5,358.1 L1468,357.8 L1468.5,357.8 L1469,356.4 L1469.5,359.4 L1470,358.2 L1470.5,356.7 L1471,353.8 L1471.5,357.4 L1472,357.4 L1472.5,356.2 L1473,357.5 L1473.5,357.6 L1474,355.4 L1474.5,357.2 L1475,356.7 L1475.5,315.8 L1476,265.4 L1476.5,315.8 L1477,356.3 L1477.5,359 L1478,327.7 L1478.5,299.4 L1479,327.7 L1479.5,355.3 L1480,354.2 L1480.5,355.1 L1481,318.4 L1481.5,280.8 L1482,318.4 L1482.5,273.6 L1483,319.3 L1483.5,359.6 L1484,357.9 L1484.5,360.5 L1485,354.6 L1485.5,356.2 L1486,356 L1486.5,356.5 L1487,357.7 L1487.5,354.8 L1488,359.1 L1488.5,310.5 L1489,265.7 L1489.5,310.5 L1490,353.3 L1490.5,350 L1491,355.1 L1491.5,355.9 L1492,323.4 L1492.5,291.6 L1493,323.4 L1493.5,358.9 L1494,356.6 L1494.5,312 L1495,315.4 L1495.5,312 L1496,357.7 L1496.5,356.5 L1497,354 L1497.5,355.5 L1498,352.9 L1498.5,354.1 L1499,356 L1499.5,353.6 L1500,354.2 L1500.5,342.8 L1501,328.1 L1501.5,342.8 L1502,353.9 L1502.5,352.1 L1503,354.5 L1503.5,353.7 L1504,325.7 L1504.5,289.9 L1505,258.1 L1505.5,310.3 L1506,255.3 L1506.5,310.3 L1507,328 L1507.5,341.1 L1508,353.4 L1508.5,357.8 L1509,357 L1509.5,348.8 L1510,356.1 L1510.5,355 L1511,355.7 L1511.5,353.6 L1512,354.9 L1512.5,357.1 L1513,324.9 L1513.5,297.4 L1514,324.9 L1514.5,327 L1515,316.9 L1515.5,273.7 L1516,316.9 L1516.5,351.6 L1517,351.6 L1517.5,350.9 L1518,351.5 L1518.5,345.6 L1519,350.5 L1519.5,347 L1520,347.4 L1520.5,345.3 L1521,345.3 L1521.5,350.1 L1522,347.6 L1522.5,348.2 L1523,347.8 L1523.5,319.6 L1524,291.6 L1524.5,319.6 L1525,346.6 L1525.5,342 L1526,345.9 L1526.5,348.8 L1527,323.3 L1527.5,294.8 L1528,323.3 L1528.5,342.8 L1529,348.1 L1529.5,346.8 L1530,345.8 L1530.5,340.6 L1531,345.2 L1531.5,348.2 L1532,345.5 L1532.5,315.8 L1533,289.7 L1533.5,315.8 L1534,341.4 L1534.5,343.5 L1535,341.1 L1535.5,339.4 L1536,340.2 L1536.5,308.8 L1537,280 L1537.5,308.8 L1538,333.7 L1538.5,338.6 L1539,326.6 L1539.5,340.7 L1540,254.2 L1540.5,174.7 L1541,254.2 L1541.5,324.4 L1542,339.2 L1542.5,332.5 L1543,332.7 L1543.5,331.2 L1544,330.9 L1544.5,313.2 L1545,297.4 L1545.5,313.2 L1546,335.4 L1546.5,329.8 L1547,325.8 L1547.5,329.4 L1548,334.1 L1548.5,327.8 L1549,327.9 L1549.5,331.2 L1550,333 L1550.5,336.1 L1551,328.1 L1551.5,317.8 L1552,307 L1552.5,317.8 L1553,329.3 L1553.5,330.9 L1554,328.1 L1554.5,324.3 L1555,331.4 L1555.5,334.7 L1556,328 L1556.5,326 L1557,327.4 L1557.5,336.1 L1558,334.6 L1558.5,328.6 L1559,322.9 L1559.5,322 L1560,326.7 L1560.5,326.7 L1561,329.6 L1561.5,314 L1562,300 L1562.5,314 L1563,319.7 L1563.5,339.5 L1564,331 L1564.5,330.7 L1565,321.6 L1565.5,322.9 L1566,333.1 L1566.5,332.4 L1567,315.8 L1567.5,333.7 L1568,331.5 L1568.5,331 L1569,322.3 L1569.5,308.8 L1570,290 L1570.5,308.8 L1571,336.9 L1571.5,330.9 L1572,332.8 L1572.5,326.1 L1573,322.6 L1573.5,327.7 L1574,332.8 L1574.5,334.9 L1575,327.3 L1575.5,311.7 L1576,296 L1576.5,311.7 L1577,327.9 L1577.5,329.2 L1578,325.4 L1578.5,326.5 L1579,318.4 L1579.5,327.6 L1580,334.2 L1580.5,327.2 L1581,330.2 L1581.5,329.5 L1582,323.4 L1582.5,328.2 L1583,323.1 L1583.5,341.7 L1584,328.1 L1584.5,321.6 L1585,319.4 L1585.5,334.5 L1586,330.1 L1586.5,328.9 L1587,320.1 L1587.5,324.1 L1588,320.8 L1588.5,332.3 L1589,324.2 L1589.5,317.8 L1590,309 L1590.5,317.8 L1591,333.4 L1591.5,316.2 L1592,322.5 L1592.5,324.6 L1593,331.9 L1593.5,332 L1594,328.3 L1594.5,317.7 L1595,323.9 L1595.5,321 L1596,332.7 L1596.5,324.2 L1597,329.3 L1597.5,335.6 L1598,326 L1598.5,329.8 L1599,324.4 L1599.5,326.5 L1600,326.4 L1600.5,326.3 L1601,326.6 L1601.5,324.3 L1602,335.6 L1602.5,323 L1603,278.5 L1603.5,231 L1604,278.5 L1604.5,331.2 L1605,327.5 L1605.5,319.5 L1606,322.7 L1606.5,313.1 L1607,300 L1607.5,313.1 L1608,332.4 L1608.5,319.9 L1609,317.8 L1609.5,329 L1610,334.8 L1610.5,326.6 L1611,331.6 L1611.5,319.4 L1612,325.8 L1612.5,328.6 L1613,324.4 L1613.5,325.3 L1614,329.8 L1614.5,323.3 L1615,321.5 L1615.5,330.2 L1616,327.7 L1616.5,315.2 L1617,304 L1617.5,315.2 L1618,329.7 L1618.5,326.4 L1619,325.1 L1619.5,322.6 L1620,327.5 L1620.5,326.3 L1621,336 L1621.5,326.3 L1622,319.8 L1622.5,336.9 L1623,316.4 L1623.5,334.8 L1624,322.3 L1624.5,333.5 L1625,325.7 L1625.5,329.3 L1626,326.8 L1626.5,326.1 L1627,329.2 L1627.5,311.3 L1628,296 L1628.5,311.3 L1629,323 L1629.5,324.1 L1630,326.2 L1630.5,332.7 L1631,322.5 L1631.5,322.4 L1632,321.1 L1632.5,324.7 L1633,329.5 L1633.5,323 L1634,325.3 L1634.5,323.8 L1635,327.2 L1635.5,190.1 L1636,53.5 L1636.5,190.1 L1637,322.6 L1637.5,326.4 L1638,322.2 L1638.5,309.4 L1639,292 L1639.5,309.4 L1640,325.8 L1640.5,322.5 L1641,324.5 L1641.5,320.6 L1642,327.9 L1642.5,328.5 L1643,331.5 L1643.5,329 L1644,324.9 L1644.5,333.4 L1645,329.9 L1645.5,331.2 L1646,321.2 L1646.5,322.9 L1647,323.8 L1647.5,325.1 L1648,316.1 L1648.5,333.1 L1649,326.1 L1649.5,311.5 L1650,296 L1650.5,311.5 L1651,330.1 L1651.5,329.1 L1652,323.6 L1652.5,327.9 L1653,336.1 L1653.5,318.6 L1654,323.9 L1654.5,313.6 L1655,300 L1655.5,313.6 L1656,325.3 L1656.5,328.4 L1657,343.2 L1657.5,323.3 L1658,326.9 L1658.5,331.5 L1659,324.3 L1659.5,329.7 L1660,329.9 L1660.5,245.1 L1661,162.7 L1661.5,245.1 L1662,328.6 L1662.5,325.9 L1663,324.3 L1663.5,299.8 L1664,272 L1664.5,299.8 L1665,329.7 L1665.5,341.4 L1666,324.4 L1666.5,322.9 L1667,329.6 L1667.5,308.9 L1668,290 L1668.5,308.9 L1669,330.2 L1669.5,327.4 L1670,331 L1670.5,330.9 L1671,328 L1671.5,325.6 L1672,331.8 L1672.5,327.5 L1673,322.8 L1673.5,332 L1674,326 L1674.5,325.9 L1675,331.9 L1675.5,324.7 L1676,327.8 L1676.5,323.8 L1677,321.1 L1677.5,330.2 L1678,336.5 L1678.5,324.4 L1679,334.6 L1679.5,316.7 L1680,305 L1680.5,316.7 L1681,325.6 L1681.5,337.1 L1682,328.7 L1682.5,328.9 L1683,332.5 L1683.5,332.1 L1684,326.3 L1684.5,328 L1685,332.3 L1685.5,330.5 L1686,325.5 L1686.5,335.6 L1687,333.5 L1687.5,319.4 L1688,310 L1688.5,319.4 L1689,317.3 L1689.5,329.9 L1690,326.4 L1690.5,326.1 L1691,333.9 L1691.5,331 L1692,344.8" fill="none" stroke="#000" stroke-width="1.1" stroke-linejoin="round"/>
<path d="M1305.6,349.2 L1306.1,348.5 L1306.6,348.6 L1307.1,348.9 L1307.6,350.5 L1308.1,349.9 L1308.6,349.6 L1309.1,351.3 L1309.6,350.5 L1310.1,349.4 L1310.6,349.9 L1311.1,351 L1311.6,351.9 L1312.1,351.8 L1312.6,351.4 L1313.1,350.7 L1313.6,349.3 L1314.1,348.6 L1314.6,348.4 L1315.1,349.2 L1315.6,350 L1316.1,349.4 L1316.6,349.8 L1317.1,350.5 L1317.6,349.6 L1318.1,349.3 L1318.6,350.8 L1319.1,351.3 L1319.6,349.7 L1320.1,349 L1320.6,350.6 L1321.1,350.8 L1321.6,350.4 L1322.1,351.6 L1322.6,349.6 L1323.1,349.5 L1323.6,350.7 L1324.1,349.4 L1324.6,349.2 L1325.1,350.1 L1325.6,350.6 L1326.1,350.6 L1326.6,349.9 L1327.1,350.4 L1327.6,351.7 L1328.1,352 L1328.6,351.7 L1329.1,351.8 L1329.6,352.4 L1330.1,351.7 L1330.6,351 L1331.1,351 L1331.6,350.8 L1332.1,350.9 L1332.6,349.7 L1333.1,349 L1333.6,350.2 L1334.1,349.2 L1334.6,348.2 L1335.1,350.2 L1335.6,350.5 L1336.1,349.3 L1336.6,350.1 L1337.1,350.1 L1337.6,349.4 L1338.1,349.4 L1338.6,349.7 L1339.1,349.6 L1339.6,350 L1340.1,351.2 L1340.6,351.3 L1341.1,351.3 L1341.6,351.5 L1342.1,351.1 L1342.6,351 L1343.1,350.4 L1343.6,350.3 L1344.1,350.6 L1344.6,349.8 L1345.1,350 L1345.6,351 L1346.1,350.8 L1346.6,350.1 L1347.1,348.4 L1347.6,349.6 L1348.1,351 L1348.6,349 L1349.1,349.4 L1349.6,350.2 L1350.1,350.2 L1350.6,350.6 L1351.1,350.8 L1351.6,351 L1352.1,350.5 L1352.6,350.5 L1353.1,351 L1353.6,350.2 L1354.1,350.2 L1354.6,351.3 L1355.1,350.4 L1355.6,350 L1356.1,350 L1356.6,350.1 L1357.1,350.9 L1357.6,350.4 L1358.1,350.3 L1358.6,351.2 L1359.1,351.2 L1359.6,351.5 L1360.1,351.1 L1360.6,350.7 L1361.1,352.1 L1361.6,351.7 L1362.1,350.3 L1362.6,350.2 L1363.1,350.7 L1363.6,350.3 L1364.1,349.8 L1364.6,349.2 L1365.1,348.7 L1365.6,349.2 L1366.1,349.1 L1366.6,349.4 L1367.1,350.5 L1367.6,350.5 L1368.1,349.4 L1368.6,349.7 L1369.1,350.6 L1369.6,349.7 L1370.1,349.6 L1370.6,349.8 L1371.1,349.4 L1371.6,349.6 L1372.1,350.4 L1372.6,350.4 L1373.1,349.7 L1373.6,350.3 L1374.1,351.1 L1374.6,351.6 L1375.1,350.5 L1375.6,350.5 L1376.1,351.2 L1376.6,351.2 L1377.1,351.7 L1377.6,350.7 L1378.1,350.1 L1378.6,350.3 L1379.1,350.5 L1379.6,351.6 L1380.1,351.4 L1380.6,350.1 L1381.1,351.5 L1381.6,351.3 L1382.1,349.9 L1382.6,350.4 L1383.1,349.7 L1383.6,350.2 L1384.1,351.5 L1384.6,351 L1385.1,350.4 L1385.6,350.4 L1386.1,349.4 L1386.6,349.6 L1387.1,349.9 L1387.6,349.2 L1388.1,350.1 L1388.6,351.2 L1389.1,350.5 L1389.6,350.6 L1390.1,352.1 L1390.6,351.6 L1391.1,350.5 L1391.6,350.5 L1392.1,350.4 L1392.6,349.8 L1393.1,350.4 L1393.6,351.3 L1394.1,350.6 L1394.6,350 L1395.1,349.9 L1395.6,349.8 L1396.1,349.6 L1396.6,338.4 L1397.1,325.6 L1397.6,312.8 L1398.1,300 L1398.6,312.8 L1399.1,291.5 L1399.6,261.2 L1400.1,230.9 L1400.6,200.6 L1401.1,230.9 L1401.6,261.2 L1402.1,291.5 L1402.6,321.8 L1403.1,311.7 L1403.6,290.8 L1404.1,270 L1404.6,290.8 L1405.1,311.7 L1405.6,332.5 L1406.1,337.2 L1406.6,328.6 L1407.1,320 L1407.6,328.6 L1408.1,337.2 L1408.6,345.8 L1409.1,355.3 L1409.6,356.3 L1410.1,357.2 L1410.6,357.6 L1411.1,357.4 L1411.6,358 L1412.1,359 L1412.6,358.8 L1413.1,358.3 L1413.6,358.3 L1414.1,358.1 L1414.6,358.5 L1415.1,360.2 L1415.6,360.1 L1416.1,358.9 L1416.6,359.2 L1417.1,359 L1417.6,358.9 L1418.1,360.1 L1418.6,359.9 L1419.1,359.7 L1419.6,360.2 L1420.1,358.9 L1420.6,358.2 L1421.1,358.4 L1421.6,358.1 L1422.1,359 L1422.6,359.9 L1423.1,359.5 L1423.6,358.7 L1424.1,358.7 L1424.6,359 L1425.1,360 L1425.6,360.3 L1426.1,359.1 L1426.6,359.4 L1427.1,359 L1427.6,358.5 L1428.1,358.6 L1428.6,359.3 L1429.1,359.1 L1429.6,355.5 L1430.1,352 L1430.6,355.5 L1431.1,358 L1431.6,357.6 L1432.1,358.1 L1432.6,358.2 L1433.1,359 L1433.6,359.5 L1434.1,359 L1434.6,358.4 L1435.1,358.7 L1435.6,359.1 L1436.1,358.3 L1436.6,358.1 L1437.1,360 L1437.6,360 L1438.1,358.2 L1438.6,359.1 L1439.1,360 L1439.6,359.2 L1440.1,359.6 L1440.6,358.9 L1441.1,357.9 L1441.6,357.8 L1442.1,358.8 L1442.6,359.8 L1443.1,360.4 L1443.6,360.7 L1444.1,359.5 L1444.6,358.6 L1445.1,357.7 L1445.6,358.1 L1446.1,359.2 L1446.6,358.9 L1447.1,357.1 L1447.6,358.1 L1448.1,359.9 L1448.6,358.9 L1449.1,358.7 L1449.6,359.8 L1450.1,360.2 L1450.6,354.5 L1451.1,350 L1451.6,354.5 L1452.1,359 L1452.6,359.4 L1453.1,358.2 L1453.6,358.2 L1454.1,359.2 L1454.6,358.3 L1455.1,357.2 L1455.6,357.7 L1456.1,358.2 L1456.6,358.3 L1457.1,357.4 L1457.6,356.8 L1458.1,357.8 L1458.6,358.9 L1459.1,358.4 L1459.6,358.3 L1460.1,359.8 L1460.6,359.6 L1461.1,358.3 L1461.6,358 L1462.1,358.5 L1462.6,359 L1463.1,358.9 L1463.6,358.6 L1464.1,358.6 L1464.6,359.1 L1465.1,358.8 L1465.6,359.2 L1466.1,358.4 L1466.6,358.1 L1467.1,358.9 L1467.6,359 L1468.1,360.1 L1468.6,359.6 L1469.1,358.5 L1469.6,358.4 L1470.1,359.3 L1470.6,360.2 L1471.1,359.5 L1471.6,359 L1472.1,359.9 L1472.6,359.8 L1473.1,358 L1473.6,357.2 L1474.1,357.8 L1474.6,358.4 L1475.1,358.4 L1475.6,358.9 L1476.1,359 L1476.6,356.2 L1477.1,354 L1477.6,356.2 L1478.1,359.3 L1478.6,359.3 L1479.1,360.3 L1479.6,360.5 L1480.1,360 L1480.6,358.6 L1481.1,357.5 L1481.6,356.2 L1482.1,357.4 L1482.6,359.9 L1483.1,359.7 L1483.6,358.3 L1484.1,359.3 L1484.6,359.5 L1485.1,358.5 L1485.6,357.9 L1486.1,357.1 L1486.6,358.7 L1487.1,359.6 L1487.6,358.3 L1488.1,357.7 L1488.6,358.9 L1489.1,357.9 L1489.6,357.7 L1490.1,357.8 L1490.6,357.7 L1491.1,358.4 L1491.6,358.6 L1492.1,358.5 L1492.6,357.7 L1493.1,357.8 L1493.6,357.4 L1494.1,357.5 L1494.6,357.4 L1495.1,357.2 L1495.6,358.2 L1496.1,358.3 L1496.6,358.5 L1497.1,359.1 L1497.6,358.9 L1498.1,357.9 L1498.6,357.6 L1499.1,359.1 L1499.6,359.3 L1500.1,359.2 L1500.6,359.5 L1501.1,357.9 L1501.6,357.3 L1502.1,358.4 L1502.6,357.9 L1503.1,356.8 L1503.6,357 L1504.1,357.6 L1504.6,358.6 L1505.1,359.3 L1505.6,358 L1506.1,356.6 L1506.6,356.3 L1507.1,356.8 L1507.6,356.8 L1508.1,357.9 L1508.6,357.6 L1509.1,356.4 L1509.6,357.1 L1510.1,357.3 L1510.6,356.7 L1511.1,356.3 L1511.6,356.8 L1512.1,357.1 L1512.6,356.6 L1513.1,356.2 L1513.6,356.6 L1514.1,357.8 L1514.6,357 L1515.1,356.2 L1515.6,357.8 L1516.1,356.5 L1516.6,356.4 L1517.1,357.9 L1517.6,357.1 L1518.1,356.8 L1518.6,357.6 L1519.1,356.9 L1519.6,356.2 L1520.1,355.6 L1520.6,355 L1521.1,355.6 L1521.6,355.9 L1522.1,356.7 L1522.6,356.6 L1523.1,355 L1523.6,355.6 L1524.1,356.7 L1524.6,356.4 L1525.1,355.7 L1525.6,355 L1526.1,354.7 L1526.6,355.9 L1527.1,356.7 L1527.6,355.8 L1528.1,355.6 L1528.6,355.3 L1529.1,354.5 L1529.6,350 L1530.1,345 L1530.6,350 L1531.1,353.3 L1531.6,353.1 L1532.1,353.6 L1532.6,354.9 L1533.1,354.3 L1533.6,353.3 L1534.1,353.1 L1534.6,353.4 L1535.1,353.6 L1535.6,353.2 L1536.1,353.2 L1536.6,355 L1537.1,355.5 L1537.6,353.8 L1538.1,353.6 L1538.6,354.4 L1539.1,355.1 L1539.6,354.7 L1540.1,353 L1540.6,353.4 L1541.1,355 L1541.6,354.9 L1542.1,354.5 L1542.6,354 L1543.1,354.4 L1543.6,354.1 L1544.1,353.9 L1544.6,353.8 L1545.1,352.9 L1545.6,352.9 L1546.1,352.7 L1546.6,352.7 L1547.1,353.3 L1547.6,354.4 L1548.1,353.5 L1548.6,352 L1549.1,353.1 L1549.6,353.4 L1550.1,352.8 L1550.6,353 L1551.1,353.3 L1551.6,352.7 L1552.1,352.7 L1552.6,353.6 L1553.1,351.7 L1553.6,351.1 L1554.1,352.1 L1554.6,352.3 L1555.1,352.4 L1555.6,351.7 L1556.1,351.5 L1556.6,352.1 L1557.1,352.2 L1557.6,351.9 L1558.1,353 L1558.6,353.4 L1559.1,351.4 L1559.6,351.2 L1560.1,351.9 L1560.6,351.2 L1561.1,351 L1561.6,351.1 L1562.1,349.7 L1562.6,350.3 L1563.1,351.9 L1563.6,351.9 L1564.1,351.5 L1564.6,350.7 L1565.1,350.9 L1565.6,351.4 L1566.1,351.7 L1566.6,352.2 L1567.1,352 L1567.6,350.9 L1568.1,350.4 L1568.6,349.9 L1569.1,350.2 L1569.6,351.3 L1570.1,351.5 L1570.6,351.4 L1571.1,351.5 L1571.6,350.8 L1572.1,350.1 L1572.6,350.3 L1573.1,349.9 L1573.6,349 L1574.1,348.6 L1574.6,348.4 L1575.1,348.6 L1575.6,349.3 L1576.1,349.5 L1576.6,348.8 L1577.1,348.4 L1577.6,349.2 L1578.1,348.1 L1578.6,349.1 L1579.1,350.6 L1579.6,349.2 L1580.1,349.9 L1580.6,351 L1581.1,348.5 L1581.6,347.6 L1582.1,348.5 L1582.6,348.7 L1583.1,348.4 L1583.6,348.2 L1584.1,348.7 L1584.6,347.4 L1585.1,347.4 L1585.6,349.5 L1586.1,349.4 L1586.6,349.2 L1587.1,350 L1587.6,349.5 L1588.1,348.7 L1588.6,348.7 L1589.1,348.2 L1589.6,349.2 L1590.1,349.7 L1590.6,348.6 L1591.1,348.9 L1591.6,349.3 L1592.1,348 L1592.6,346.5 L1593.1,347.3 L1593.6,348.1 L1594.1,347.3 L1594.6,346.2 L1595.1,347.2 L1595.6,348.3 L1596.1,347.7 L1596.6,347.1 L1597.1,346.8 L1597.6,346.2 L1598.1,346 L1598.6,346.7 L1599.1,347.1 L1599.6,347.4 L1600.1,346.8 L1600.6,345.2 L1601.1,346.3 L1601.6,346.7 L1602.1,346.2 L1602.6,346.7 L1603.1,346.2 L1603.6,345.3 L1604.1,346.2 L1604.6,345.5 L1605.1,345.7 L1605.6,346.2 L1606.1,346.3 L1606.6,347.5 L1607.1,347.1 L1607.6,347.2 L1608.1,347.2 L1608.6,346.1 L1609.1,346.5 L1609.6,347.3 L1610.1,347.1 L1610.6,347 L1611.1,346.6 L1611.6,347.2 L1612.1,347.8 L1612.6,347.4 L1613.1,346.2 L1613.6,345.6 L1614.1,345.7 L1614.6,346.8 L1615.1,347.7 L1615.6,347.1 L1616.1,346.7 L1616.6,346.3 L1617.1,346.8 L1617.6,346.7 L1618.1,345.7 L1618.6,346.8 L1619.1,347.6 L1619.6,347.1 L1620.1,346 L1620.6,345.4 L1621.1,346.5 L1621.6,347.5 L1622.1,347.8 L1622.6,347.4 L1623.1,346.5 L1623.6,346.2 L1624.1,347.2 L1624.6,346.8 L1625.1,346.2 L1625.6,348 L1626.1,347.1 L1626.6,345.4 L1627.1,345.4 L1627.6,345.4 L1628.1,346.1 L1628.6,346.9 L1629.1,346.2 L1629.6,346.1 L1630.1,347.4 L1630.6,347.4 L1631.1,346.3 L1631.6,347.6 L1632.1,347.3 L1632.6,345.9 L1633.1,347.2 L1633.6,347.5 L1634.1,345.6 L1634.6,345.1 L1635.1,344.9 L1635.6,345 L1636.1,346.4 L1636.6,345.9 L1637.1,346.5 L1637.6,348.2 L1638.1,347.8 L1638.6,346.6 L1639.1,346.2 L1639.6,346.9 L1640.1,347.4 L1640.6,347.8 L1641.1,346.1 L1641.6,344.9 L1642.1,345.5 L1642.6,345.7 L1643.1,346.5 L1643.6,348 L1644.1,347.8 L1644.6,347 L1645.1,347.1 L1645.6,346.6 L1646.1,347.5 L1646.6,346.9 L1647.1,346.3 L1647.6,348.1 L1648.1,349.6 L1648.6,348.1 L1649.1,345.7 L1649.6,345.2 L1650.1,345.5 L1650.6,346.3 L1651.1,346.6 L1651.6,347.2 L1652.1,347.1 L1652.6,346.7 L1653.1,345.9 L1653.6,345.4 L1654.1,346.3 L1654.6,345.4 L1655.1,345.6 L1655.6,347.4 L1656.1,347.4 L1656.6,347.1 L1657.1,347.1 L1657.6,346.3 L1658.1,346.4 L1658.6,346.8 L1659.1,346.8 L1659.6,347.2 L1660.1,347.3 L1660.6,346.5 L1661.1,346.5 L1661.6,348.3 L1662.1,348.9 L1662.6,347.8 L1663.1,346.9 L1663.6,347.6 L1664.1,348 L1664.6,346.5 L1665.1,346.3 L1665.6,348.3 L1666.1,347.6 L1666.6,346.7 L1667.1,347.3 L1667.6,347.2 L1668.1,347.5 L1668.6,347 L1669.1,345.8 L1669.6,346.2 L1670.1,347.7 L1670.6,347.8 L1671.1,347.2 L1671.6,347 L1672.1,348.9 L1672.6,348.6 L1673.1,347.2 L1673.6,347.2 L1674.1,347.3 L1674.6,348.2 L1675.1,349 L1675.6,349.1 L1676.1,348.4 L1676.6,348.5 L1677.1,348.9 L1677.6,348.7 L1678.1,348.4 L1678.6,349.1 L1679.1,348.8 L1679.6,348.1 L1680.1,348 L1680.6,347.8 L1681.1,349.2 L1681.6,349.1 L1682.1,348.6 L1682.6,350.2 L1683.1,350.3 L1683.6,349 L1684.1,348.3 L1684.6,347 L1685.1,346.9 L1685.6,347.9 L1686.1,349 L1686.6,350 L1687.1,348.7 L1687.6,348.7 L1688.1,349.1 L1688.6,349.8 L1689.1,351.1 L1689.6,350.5 L1690.1,349.4 L1690.6,350.1 L1691.1,350.9 L1691.6,350.6" fill="none" stroke="#e8141b" stroke-width="1.1" stroke-linejoin="round"/>
<line x1="1836" y1="53.6" x2="1836" y2="329" stroke="#333" stroke-width="1.3"/>
<line x1="1820" y1="53.6" x2="1836" y2="53.6" stroke="#333" stroke-width="1.3"/>
<text x="1814.5" y="60.8" font-size="23.5" text-anchor="end" fill="#000">15</text>
<line x1="1820" y1="122.3" x2="1836" y2="122.3" stroke="#333" stroke-width="1.3"/>
<text x="1814.5" y="129.5" font-size="23.5" text-anchor="end" fill="#000">10</text>
<line x1="1820" y1="191" x2="1836" y2="191" stroke="#333" stroke-width="1.3"/>
<text x="1814.5" y="198.2" font-size="23.5" text-anchor="end" fill="#000">5</text>
<line x1="1820" y1="259.7" x2="1885.2" y2="259.7" stroke="#333" stroke-width="1.3"/>
<text x="1814.5" y="266.9" font-size="23.5" text-anchor="end" fill="#000">0</text>
<line x1="1820" y1="328.4" x2="1836" y2="328.4" stroke="#333" stroke-width="1.3"/>
<text x="1814.5" y="335.6" font-size="23.5" text-anchor="end" fill="#000">&#8211;5</text>
<rect x="1844.2" y="259.7" width="14.3" height="47.4" fill="#000"/>
<line x1="1851.3" y1="307.1" x2="1851.3" y2="309.9" stroke="#444" stroke-width="1.2"/>
<line x1="1845.8" y1="309.9" x2="1856.8" y2="309.9" stroke="#444" stroke-width="1.2"/>
<rect x="1861.4" y="259.7" width="14.8" height="39.8" fill="#ff0000"/>
<line x1="1868.8" y1="299.5" x2="1868.8" y2="303" stroke="#444" stroke-width="1.2"/>
<line x1="1863.3" y1="303" x2="1874.3" y2="303" stroke="#444" stroke-width="1.2"/>
<line x1="1846" y1="306" x2="1873" y2="290" stroke="#8a8a8a" stroke-width="0.9"/>
<line x1="1846" y1="304" x2="1873" y2="298" stroke="#8a8a8a" stroke-width="0.9"/>
<line x1="1847" y1="309" x2="1873" y2="302" stroke="#8a8a8a" stroke-width="0.9"/>
<line x1="1846" y1="301" x2="1873" y2="306" stroke="#8a8a8a" stroke-width="0.9"/>
<text x="1860" y="251.5" font-size="19.5" text-anchor="middle" fill="#000">n.s.</text>
<text x="1885.2" y="356.5" font-size="19.5" text-anchor="end" fill="#000">Vehicle</text>
<text x="1885.2" y="380.5" font-size="19.5" text-anchor="end" fill="#e3262b">CNO</text>
<text transform="translate(1761.5,193) rotate(-90)" font-size="24.4" text-anchor="middle" fill="#000">&#916;<tspan font-style="italic">F</tspan>/<tspan font-style="italic">F</tspan><tspan font-size="15.5" dy="6.5">0</tspan><tspan dy="-6.5"> (%) after i.p. injection</tspan></text>
<line x1="2072.8" y1="53.6" x2="2072.8" y2="329.4" stroke="#333" stroke-width="1.3"/>
<line x1="2056.8" y1="53.6" x2="2072.8" y2="53.6" stroke="#333" stroke-width="1.3"/>
<text x="2051.3" y="60.8" font-size="23.5" text-anchor="end" fill="#000">15</text>
<line x1="2056.8" y1="122.4" x2="2072.8" y2="122.4" stroke="#333" stroke-width="1.3"/>
<text x="2051.3" y="129.6" font-size="23.5" text-anchor="end" fill="#000">10</text>
<line x1="2056.8" y1="191.2" x2="2072.8" y2="191.2" stroke="#333" stroke-width="1.3"/>
<text x="2051.3" y="198.4" font-size="23.5" text-anchor="end" fill="#000">5</text>
<line x1="2056.8" y1="260" x2="2125" y2="260" stroke="#333" stroke-width="1.3"/>
<text x="2051.3" y="267.2" font-size="23.5" text-anchor="end" fill="#000">0</text>
<line x1="2056.8" y1="328.8" x2="2072.8" y2="328.8" stroke="#333" stroke-width="1.3"/>
<text x="2051.3" y="336" font-size="23.5" text-anchor="end" fill="#000">&#8211;5</text>
<rect x="2083" y="172.6" width="13.6" height="87.4" fill="#000"/>
<line x1="2089.8" y1="172.6" x2="2089.8" y2="145.8" stroke="#444" stroke-width="1.2"/>
<line x1="2084.3" y1="145.8" x2="2095.3" y2="145.8" stroke="#444" stroke-width="1.2"/>
<rect x="2100.8" y="216" width="13.9" height="44" fill="#ff0000"/>
<line x1="2107.8" y1="216" x2="2107.8" y2="193.3" stroke="#444" stroke-width="1.2"/>
<line x1="2102.2" y1="193.3" x2="2113.2" y2="193.3" stroke="#444" stroke-width="1.2"/>
<line x1="2090" y1="88.1" x2="2107.7" y2="142.8" stroke="#8a8a8a" stroke-width="0.9"/>
<line x1="2090" y1="133.8" x2="2107.7" y2="186" stroke="#8a8a8a" stroke-width="0.9"/>
<line x1="2090" y1="202.4" x2="2107.7" y2="253.8" stroke="#8a8a8a" stroke-width="0.9"/>
<line x1="2090" y1="218.9" x2="2107.7" y2="249.7" stroke="#8a8a8a" stroke-width="0.9"/>
<line x1="2090" y1="205" x2="2107.7" y2="247" stroke="#8a8a8a" stroke-width="0.9"/>
<text x="2098.5" y="83" font-size="19.5" text-anchor="middle" fill="#000">**</text>
<text x="2125" y="356.5" font-size="19.5" text-anchor="end" fill="#000">Vehicle</text>
<text x="2125" y="380.5" font-size="19.5" text-anchor="end" fill="#e3262b">CNO</text>
<text transform="translate(1996.5,190) rotate(-90)" font-size="24.4" text-anchor="middle" fill="#000">&#916;<tspan font-style="italic">F</tspan>/<tspan font-style="italic">F</tspan><tspan font-size="15.5" dy="6.5">0</tspan><tspan dy="-6.5"> (%) after NaCl i.g.</tspan></text>
<line x1="1391.2" y1="478.8" x2="1391.2" y2="753.3" stroke="#333" stroke-width="1.3"/>
<line x1="1375.2" y1="478.8" x2="1391.2" y2="478.8" stroke="#333" stroke-width="1.3"/>
<text x="1369.7" y="486" font-size="23.5" text-anchor="end" fill="#000">15</text>
<line x1="1375.2" y1="547.3" x2="1391.2" y2="547.3" stroke="#333" stroke-width="1.3"/>
<text x="1369.7" y="554.5" font-size="23.5" text-anchor="end" fill="#000">10</text>
<line x1="1375.2" y1="615.7" x2="1391.2" y2="615.7" stroke="#333" stroke-width="1.3"/>
<text x="1369.7" y="622.9" font-size="23.5" text-anchor="end" fill="#000">5</text>
<line x1="1375.2" y1="684.2" x2="1440.5" y2="684.2" stroke="#333" stroke-width="1.3"/>
<text x="1369.7" y="691.4" font-size="23.5" text-anchor="end" fill="#000">0</text>
<line x1="1375.2" y1="752.7" x2="1391.2" y2="752.7" stroke="#333" stroke-width="1.3"/>
<text x="1369.7" y="759.9" font-size="23.5" text-anchor="end" fill="#000">&#8211;5</text>
<rect x="1399.9" y="684.2" width="14" height="34.2" fill="#000"/>
<line x1="1406.9" y1="718.4" x2="1406.9" y2="731.7" stroke="#444" stroke-width="1.2"/>
<line x1="1401.4" y1="731.7" x2="1412.4" y2="731.7" stroke="#444" stroke-width="1.2"/>
<rect x="1417.8" y="684.2" width="14" height="17.7" fill="#ff0000"/>
<line x1="1424.8" y1="701.9" x2="1424.8" y2="711.4" stroke="#444" stroke-width="1.2"/>
<line x1="1419.3" y1="711.4" x2="1430.3" y2="711.4" stroke="#444" stroke-width="1.2"/>
<line x1="1406.8" y1="683.4" x2="1425.2" y2="666.6" stroke="#8a8a8a" stroke-width="0.9"/>
<line x1="1406.8" y1="689.5" x2="1425.2" y2="708.8" stroke="#8a8a8a" stroke-width="0.9"/>
<line x1="1407.6" y1="730.2" x2="1425.2" y2="690.4" stroke="#8a8a8a" stroke-width="0.9"/>
<line x1="1407.6" y1="731" x2="1425.2" y2="718.7" stroke="#8a8a8a" stroke-width="0.9"/>
<line x1="1406.8" y1="751.5" x2="1425.2" y2="722.8" stroke="#8a8a8a" stroke-width="0.9"/>
<text x="1415.8" y="660.4" font-size="19.5" text-anchor="middle" fill="#000">n.s.</text>
<text x="1440.5" y="780.5" font-size="19.5" text-anchor="end" fill="#000">Vehicle</text>
<text x="1440.5" y="804.5" font-size="19.5" text-anchor="end" fill="#e3262b">CNO</text>
<text transform="translate(1317,616) rotate(-90)" font-size="24.4" text-anchor="middle" fill="#000">&#916;<tspan font-style="italic">F</tspan>/<tspan font-style="italic">F</tspan><tspan font-size="15.5" dy="6.5">0</tspan><tspan dy="-6.5"> (%) after i.p. injection</tspan></text>
<line x1="1629.9" y1="479" x2="1629.9" y2="752.9" stroke="#333" stroke-width="1.3"/>
<line x1="1613.9" y1="479" x2="1629.9" y2="479" stroke="#333" stroke-width="1.3"/>
<text x="1608.4" y="486.2" font-size="23.5" text-anchor="end" fill="#000">15</text>
<line x1="1613.9" y1="547.3" x2="1629.9" y2="547.3" stroke="#333" stroke-width="1.3"/>
<text x="1608.4" y="554.5" font-size="23.5" text-anchor="end" fill="#000">10</text>
<line x1="1613.9" y1="615.7" x2="1629.9" y2="615.7" stroke="#333" stroke-width="1.3"/>
<text x="1608.4" y="622.9" font-size="23.5" text-anchor="end" fill="#000">5</text>
<line x1="1613.9" y1="684" x2="1680" y2="684" stroke="#333" stroke-width="1.3"/>
<text x="1608.4" y="691.2" font-size="23.5" text-anchor="end" fill="#000">0</text>
<line x1="1613.9" y1="752.3" x2="1629.9" y2="752.3" stroke="#333" stroke-width="1.3"/>
<text x="1608.4" y="759.5" font-size="23.5" text-anchor="end" fill="#000">&#8211;5</text>
<rect x="1638.1" y="606.1" width="14.4" height="77.9" fill="#000"/>
<line x1="1645.3" y1="606.1" x2="1645.3" y2="577.7" stroke="#444" stroke-width="1.2"/>
<line x1="1639.8" y1="577.7" x2="1650.8" y2="577.7" stroke="#444" stroke-width="1.2"/>
<rect x="1656.4" y="582.3" width="14.4" height="101.7" fill="#ff0000"/>
<line x1="1663.6" y1="582.3" x2="1663.6" y2="555.5" stroke="#444" stroke-width="1.2"/>
<line x1="1658.1" y1="555.5" x2="1669.1" y2="555.5" stroke="#444" stroke-width="1.2"/>
<line x1="1645.2" y1="502.5" x2="1664" y2="479" stroke="#8a8a8a" stroke-width="0.9"/>
<line x1="1645.2" y1="622.4" x2="1664" y2="577.3" stroke="#8a8a8a" stroke-width="0.9"/>
<line x1="1645.8" y1="606.3" x2="1664" y2="613.9" stroke="#8a8a8a" stroke-width="0.9"/>
<line x1="1645.2" y1="674.9" x2="1664" y2="633.7" stroke="#8a8a8a" stroke-width="0.9"/>
<line x1="1645.2" y1="610" x2="1664" y2="600" stroke="#8a8a8a" stroke-width="0.9"/>
<text x="1654.5" y="470.5" font-size="19.5" text-anchor="middle" fill="#000">n.s.</text>
<text x="1680" y="780.5" font-size="19.5" text-anchor="end" fill="#000">Vehicle</text>
<text x="1680" y="804.5" font-size="19.5" text-anchor="end" fill="#e3262b">CNO</text>
<text transform="translate(1558,611) rotate(-90)" font-size="24.4" text-anchor="middle" fill="#000">&#916;<tspan font-style="italic">F</tspan>/<tspan font-style="italic">F</tspan><tspan font-size="15.5" dy="6.5">0</tspan><tspan dy="-6.5"> (%) after NaCl i.g.</tspan></text>
<line x1="1965.3" y1="478.3" x2="1965.3" y2="753.3" stroke="#333" stroke-width="1.3"/>
<line x1="1949" y1="753.3" x2="2121" y2="753.3" stroke="#333" stroke-width="1.3"/>
<line x1="1949" y1="753.3" x2="1965.3" y2="753.3" stroke="#333" stroke-width="1.3"/>
<text x="1942.5" y="760.5" font-size="23.5" text-anchor="end" fill="#000">0</text>
<line x1="1949" y1="698.3" x2="1965.3" y2="698.3" stroke="#333" stroke-width="1.3"/>
<text x="1942.5" y="705.5" font-size="23.5" text-anchor="end" fill="#000">100</text>
<line x1="1949" y1="643.3" x2="1965.3" y2="643.3" stroke="#333" stroke-width="1.3"/>
<text x="1942.5" y="650.5" font-size="23.5" text-anchor="end" fill="#000">200</text>
<line x1="1949" y1="588.3" x2="1965.3" y2="588.3" stroke="#333" stroke-width="1.3"/>
<text x="1942.5" y="595.5" font-size="23.5" text-anchor="end" fill="#000">300</text>
<line x1="1949" y1="533.3" x2="1965.3" y2="533.3" stroke="#333" stroke-width="1.3"/>
<text x="1942.5" y="540.5" font-size="23.5" text-anchor="end" fill="#000">400</text>
<line x1="1949" y1="478.3" x2="1965.3" y2="478.3" stroke="#333" stroke-width="1.3"/>
<text x="1942.5" y="485.5" font-size="23.5" text-anchor="end" fill="#000">500</text>
<rect x="1973.8" y="544.3" width="14.6" height="209" fill="#000"/>
<rect x="2028.5" y="607" width="14.5" height="146.3" fill="#000"/>
<rect x="2083.1" y="633.7" width="14.6" height="119.6" fill="#000"/>
<rect x="1992" y="630.1" width="14.3" height="123.2" fill="#ff0000"/>
<rect x="2046.7" y="658.7" width="14.2" height="94.6" fill="#ff0000"/>
<rect x="2101.3" y="641.9" width="14.2" height="111.4" fill="#ff0000"/>
<line x1="1981.1" y1="544.3" x2="1981.1" y2="522.3" stroke="#444" stroke-width="1.2"/>
<line x1="1975.6" y1="522.3" x2="1986.6" y2="522.3" stroke="#444" stroke-width="1.2"/>
<line x1="2035.8" y1="607" x2="2035.8" y2="589.1" stroke="#444" stroke-width="1.2"/>
<line x1="2030.2" y1="589.1" x2="2041.2" y2="589.1" stroke="#444" stroke-width="1.2"/>
<line x1="2090.4" y1="633.7" x2="2090.4" y2="618.8" stroke="#444" stroke-width="1.2"/>
<line x1="2084.9" y1="618.8" x2="2095.9" y2="618.8" stroke="#444" stroke-width="1.2"/>
<line x1="1999.2" y1="630.1" x2="1999.2" y2="610.8" stroke="#444" stroke-width="1.2"/>
<line x1="1993.7" y1="610.8" x2="2004.7" y2="610.8" stroke="#444" stroke-width="1.2"/>
<line x1="2053.8" y1="658.7" x2="2053.8" y2="630.1" stroke="#444" stroke-width="1.2"/>
<line x1="2048.3" y1="630.1" x2="2059.3" y2="630.1" stroke="#444" stroke-width="1.2"/>
<line x1="2108.4" y1="641.9" x2="2108.4" y2="627.9" stroke="#444" stroke-width="1.2"/>
<line x1="2102.9" y1="627.9" x2="2113.9" y2="627.9" stroke="#444" stroke-width="1.2"/>
<line x1="1980.8" y1="480" x2="1999.3" y2="594.8" stroke="#8a8a8a" stroke-width="0.9"/>
<line x1="1980.8" y1="507.4" x2="1999.3" y2="613" stroke="#8a8a8a" stroke-width="0.9"/>
<line x1="1980.8" y1="562" x2="1999.3" y2="700.4" stroke="#8a8a8a" stroke-width="0.9"/>
<line x1="1980.8" y1="578.4" x2="1999.3" y2="631.2" stroke="#8a8a8a" stroke-width="0.9"/>
<line x1="1980.8" y1="594" x2="1999.3" y2="650" stroke="#8a8a8a" stroke-width="0.9"/>
<line x1="1983" y1="470" x2="1999.3" y2="590" stroke="#8a8a8a" stroke-width="0.9"/>
<line x1="2035.4" y1="561.3" x2="2054" y2="602" stroke="#8a8a8a" stroke-width="0.9"/>
<line x1="2054" y1="602" x2="2035.4" y2="630" stroke="#8a8a8a" stroke-width="0.9"/>
<line x1="2035.4" y1="566" x2="2054" y2="753" stroke="#8a8a8a" stroke-width="0.9"/>
<line x1="2035.4" y1="629" x2="2054" y2="670" stroke="#8a8a8a" stroke-width="0.9"/>
<line x1="2035.4" y1="647" x2="2054" y2="658" stroke="#8a8a8a" stroke-width="0.9"/>
<line x1="2035.4" y1="600" x2="2054" y2="640" stroke="#8a8a8a" stroke-width="0.9"/>
<line x1="2090" y1="578" x2="2108.6" y2="643.5" stroke="#8a8a8a" stroke-width="0.9"/>
<line x1="2090" y1="616.8" x2="2108.6" y2="591" stroke="#8a8a8a" stroke-width="0.9"/>
<line x1="2090" y1="658.5" x2="2108.6" y2="665.8" stroke="#8a8a8a" stroke-width="0.9"/>
<line x1="2090" y1="665.8" x2="2108.6" y2="644" stroke="#8a8a8a" stroke-width="0.9"/>
<line x1="2090" y1="679" x2="2108.6" y2="688" stroke="#8a8a8a" stroke-width="0.9"/>
<line x1="2090" y1="620" x2="2108.6" y2="620" stroke="#8a8a8a" stroke-width="0.9"/>
<text x="1989" y="478" font-size="19.5" text-anchor="middle" fill="#000">**</text>
<text x="2045" y="560" font-size="19.5" text-anchor="middle" fill="#000">*</text>
<text x="2098" y="572" font-size="19.5" text-anchor="middle" fill="#000">n.s.</text>
<text x="2124" y="495" font-size="19.5" text-anchor="end" fill="#000">Vehicle</text>
<text x="2124" y="519.4" font-size="19.5" text-anchor="end" fill="#e3262b">CNO</text>
<text transform="translate(1887.5,618) rotate(-90)" font-size="24.4" text-anchor="middle" fill="#000">Water intake (licks)</text>
<line x1="1973.7" y1="758.6" x2="2006.3" y2="758.6" stroke="#333" stroke-width="1.3"/>
<line x1="1990.2" y1="758.6" x2="1990.2" y2="773.9" stroke="#333" stroke-width="1.3"/>
<line x1="2028" y1="758.6" x2="2061.2" y2="758.6" stroke="#333" stroke-width="1.3"/>
<line x1="2044.6" y1="758.6" x2="2044.6" y2="798.6" stroke="#333" stroke-width="1.3"/>
<line x1="2082.9" y1="758.6" x2="2115.6" y2="758.6" stroke="#333" stroke-width="1.3"/>
<line x1="2099.3" y1="758.6" x2="2099.3" y2="822.8" stroke="#333" stroke-width="1.3"/>
<text x="2015.4" y="795.3" font-size="19.1" text-anchor="end" fill="#000">MnPO <tspan font-style="italic">Camk2a::hM4D(G</tspan><tspan font-style="italic" font-size="11.5" dy="5">i</tspan><tspan font-style="italic" dy="-5">)</tspan></text>
<text x="2069.8" y="819.6" font-size="19.1" text-anchor="end" fill="#000">MnPO <tspan font-style="italic">Nos1::hM4D(G</tspan><tspan font-style="italic" font-size="11.5" dy="5">i</tspan><tspan font-style="italic" dy="-5">)</tspan></text>
<text x="2124.2" y="844.2" font-size="19.1" text-anchor="end" fill="#000">Control, no <tspan font-style="italic">hM4D(G</tspan><tspan font-style="italic" font-size="11.5" dy="5">i</tspan><tspan font-style="italic" dy="-5">)</tspan></text>
<text x="916" y="495" font-size="24.4" text-anchor="start" fill="#000">NaCl i.g.</text>
<path d="M961.8,499 L970.4,499 L966.1,513.5 Z" fill="#000"/>
<path d="M853.6,716.7 L853.6,795.6 L950.6,795.6" fill="none" stroke="#333" stroke-width="1.3"/>
<text transform="translate(844.5,761.5) rotate(-90)" font-size="24.4" text-anchor="middle" fill="#000">5%</text>
<text x="872" y="820.2" font-size="24.4" text-anchor="start" fill="#000">5 min</text>
<path d="M869.5,716.2 L870,723.3 L870.5,726.9 L871,709.4 L871.5,728.4 L872,722.6 L872.5,728.2 L873,722.4 L873.5,732 L874,708.8 L874.5,738.5 L875,732 L875.5,712 L876,725.7 L876.5,723.1 L877,698.9 L877.5,724.5 L878,711.3 L878.5,714.8 L879,710.8 L879.5,712.5 L880,717.9 L880.5,718 L881,699.6 L881.5,713.6 L882,701.6 L882.5,702.3 L883,712.3 L883.5,725.3 L884,722.7 L884.5,709.2 L885,708.2 L885.5,707.1 L886,717.9 L886.5,726.8 L887,716.9 L887.5,724.5 L888,720.5 L888.5,733.7 L889,695.3 L889.5,694.1 L890,715.5 L890.5,724.9 L891,713.5 L891.5,722.9 L892,705.5 L892.5,704.7 L893,710.8 L893.5,728.1 L894,726.7 L894.5,711.4 L895,721.4 L895.5,712.4 L896,719.9 L896.5,707.6 L897,719.5 L897.5,712.1 L898,719.9 L898.5,713.4 L899,711.7 L899.5,722.1 L900,717.4 L900.5,721.5 L901,716.8 L901.5,728.4 L902,712.9 L902.5,730.5 L903,736.9 L903.5,719.4 L904,741.8 L904.5,745.1 L905,727.8 L905.5,708.2 L906,705.6 L906.5,721.6 L907,743.2 L907.5,730.2 L908,732.4 L908.5,721.5 L909,716.3 L909.5,728.7 L910,712.6 L910.5,722.9 L911,730.8 L911.5,725.8 L912,731.4 L912.5,720.9 L913,732.5 L913.5,730.6 L914,708.2 L914.5,715.1 L915,718.7 L915.5,734.1 L916,730.4 L916.5,730.4 L917,729.4 L917.5,734.6 L918,738.2 L918.5,721.9 L919,710.7 L919.5,735.7 L920,726.3 L920.5,729.3 L921,727 L921.5,716.9 L922,712.7 L922.5,740.1 L923,741.7 L923.5,740.1 L924,732.4 L924.5,733.2 L925,725.8 L925.5,731.4 L926,726.4 L926.5,725 L927,733.5 L927.5,750.1 L928,710.9 L928.5,738.4 L929,739.4 L929.5,718.8 L930,735.8 L930.5,733.6 L931,727.6 L931.5,727.4 L932,717.6 L932.5,752 L933,759.3 L933.5,751.1 L934,730.7 L934.5,737.2 L935,738.4 L935.5,725.5 L936,731.7 L936.5,740.6 L937,730.3 L937.5,715.8 L938,721.4 L938.5,738.3 L939,732 L939.5,732.6 L940,750.9 L940.5,737.1 L941,728.5 L941.5,735.8 L942,760.4 L942.5,724.5 L943,756.7 L943.5,753 L944,735.6 L944.5,733.8 L945,753.3 L945.5,740.5 L946,732.2 L946.5,758.2 L947,740.3 L947.5,742.2 L948,739.1 L948.5,735.5 L949,740.4 L949.5,735.1 L950,744.9 L950.5,751.1 L951,751.6 L951.5,753 L952,756.5 L952.5,748.5 L953,733.7 L953.5,749 L954,717.9 L954.5,725.9 L955,734.6 L955.5,710.6 L956,742.9 L956.5,713.2 L957,705.6 L957.5,711.4 L958,709 L958.5,714.8 L959,711 L959.5,721.7 L960,706.2 L960.5,677.2 L961,650 L961.5,677.2 L962,693.3 L962.5,679 L963,713.5 L963.5,686.2 L964,684.5 L964.5,685.5 L965,701 L965.5,665.6 L966,640 L966.5,665.6 L967,709.3 L967.5,683.9 L968,686.9 L968.5,677.3 L969,709.1 L969.5,686.2 L970,687.6 L970.5,690.4 L971,679.2 L971.5,689.7 L972,676.4 L972.5,707.2 L973,689.6 L973.5,690 L974,705.1 L974.5,679.4 L975,708.7 L975.5,710.5 L976,685.8 L976.5,702.4 L977,694.2 L977.5,705.5 L978,696.2 L978.5,685.3 L979,701.6 L979.5,691.8 L980,695.7 L980.5,704 L981,706.1 L981.5,699.2 L982,676.1 L982.5,698.9 L983,687.4 L983.5,702 L984,687.6 L984.5,704.9 L985,694.4 L985.5,688.2 L986,691 L986.5,667.8 L987,693 L987.5,687.5 L988,673.5 L988.5,689.2 L989,687.5 L989.5,687.2 L990,681.3 L990.5,690.4 L991,689.8 L991.5,681.3 L992,678.8 L992.5,673.8 L993,671.5 L993.5,684 L994,670.5 L994.5,660.2 L995,677.7 L995.5,686.5 L996,670.5 L996.5,682.3 L997,677.3 L997.5,660.1 L998,673.5 L998.5,667.5 L999,675 L999.5,635.6 L1000,674.1 L1000.5,671.9 L1001,652.3 L1001.5,673 L1002,658.3 L1002.5,660.7 L1003,667 L1003.5,671 L1004,656.9 L1004.5,661.3 L1005,657.4 L1005.5,643.2 L1006,668.1 L1006.5,657.3 L1007,649.2 L1007.5,657.9 L1008,650.3 L1008.5,636.5 L1009,651.9 L1009.5,639.9 L1010,644.2 L1010.5,646.2 L1011,644.4 L1011.5,652.9 L1012,632.7 L1012.5,626.9 L1013,619 L1013.5,618.4 L1014,630.9 L1014.5,626.5 L1015,610.6 L1015.5,611.6 L1016,611.8 L1016.5,632 L1017,602.9 L1017.5,615 L1018,590.9 L1018.5,604 L1019,619.6 L1019.5,588.3 L1020,612.5 L1020.5,576.8 L1021,596 L1021.5,581 L1022,590.6 L1022.5,585.9 L1023,595.3 L1023.5,587.1 L1024,583.7 L1024.5,573.6 L1025,582.3 L1025.5,566.3 L1026,565.8 L1026.5,563.7 L1027,574.6 L1027.5,591.7 L1028,564.6 L1028.5,584.9 L1029,551.1 L1029.5,554.3 L1030,565 L1030.5,564.5 L1031,564.7 L1031.5,572.2 L1032,551.1 L1032.5,563.8 L1033,553.1 L1033.5,517.8 L1034,536.5 L1034.5,540.1 L1035,545.6 L1035.5,548.7 L1036,538.4 L1036.5,554.3 L1037,528.1 L1037.5,538.4 L1038,548.6 L1038.5,526.1 L1039,552.1 L1039.5,548.6 L1040,536.2 L1040.5,537.9 L1041,536.8 L1041.5,537.9 L1042,551.2 L1042.5,543.1 L1043,522.2 L1043.5,520.2 L1044,543.6 L1044.5,508 L1045,519.4 L1045.5,529.9 L1046,536.2 L1046.5,551.1 L1047,538.2 L1047.5,575 L1048,538.9 L1048.5,546.1 L1049,547.9 L1049.5,535.7 L1050,547.5 L1050.5,543.7 L1051,539.9 L1051.5,530.4 L1052,532.8 L1052.5,546.4 L1053,537.4 L1053.5,542.3 L1054,542.4 L1054.5,541.2 L1055,538.4 L1055.5,544.8 L1056,547.6 L1056.5,553.7 L1057,543.6 L1057.5,531.3 L1058,529.5 L1058.5,543.3 L1059,518.9 L1059.5,529.3 L1060,545.8 L1060.5,530.1 L1061,526 L1061.5,546 L1062,502.8 L1062.5,530.4 L1063,525.6 L1063.5,524.6 L1064,539.3 L1064.5,545.2 L1065,540.6 L1065.5,534.3 L1066,530.5 L1066.5,523.7 L1067,526.2 L1067.5,508.3 L1068,520.2 L1068.5,532.4 L1069,524.4 L1069.5,534.6 L1070,508.4 L1070.5,519.2 L1071,514.2 L1071.5,536.6 L1072,522.1 L1072.5,521.6 L1073,511.3 L1073.5,519.1 L1074,513.4 L1074.5,518.1 L1075,548 L1075.5,511.4 L1076,521.1 L1076.5,514 L1077,538 L1077.5,512.9 L1078,513.9 L1078.5,527.3 L1079,541.3 L1079.5,525.5 L1080,516.6 L1080.5,494.7 L1081,482.9 L1081.5,521.6 L1082,522.6 L1082.5,535.1 L1083,527.2 L1083.5,519.1 L1084,535.9 L1084.5,540.6 L1085,514.4 L1085.5,531.6 L1086,534.4 L1086.5,512.8 L1087,527.2 L1087.5,520.6 L1088,533.7 L1088.5,532.8 L1089,497.2 L1089.5,517.9 L1090,535.3 L1090.5,525.7 L1091,508.7 L1091.5,514.6 L1092,508 L1092.5,523.2 L1093,505.2 L1093.5,532.8 L1094,528.6 L1094.5,537.6 L1095,530.9 L1095.5,530.1 L1096,528.9 L1096.5,525 L1097,497.4 L1097.5,524.6 L1098,509.8 L1098.5,492 L1099,535.5 L1099.5,518 L1100,500.1 L1100.5,521.2 L1101,522.5 L1101.5,519.7 L1102,533.6 L1102.5,505.1 L1103,527.1 L1103.5,506.3 L1104,522.1 L1104.5,524 L1105,511.4 L1105.5,544.3 L1106,496.6 L1106.5,500.2 L1107,511.3 L1107.5,506.6 L1108,528.9 L1108.5,510 L1109,531.1 L1109.5,511.6 L1110,525.3 L1110.5,525.2 L1111,517.7 L1111.5,524.3 L1112,520.3 L1112.5,539.7 L1113,542.6 L1113.5,512.7 L1114,521.9 L1114.5,529.2 L1115,522.8 L1115.5,538.2 L1116,545.6 L1116.5,494.7 L1117,510.5 L1117.5,531.2 L1118,522.4 L1118.5,508.7 L1119,513.9 L1119.5,518 L1120,534.8 L1120.5,506.1 L1121,518.9 L1121.5,532.9 L1122,528.1 L1122.5,515.1 L1123,513.5 L1123.5,496.9 L1124,497.7 L1124.5,506.8 L1125,525.7 L1125.5,525.5 L1126,530.8 L1126.5,526.6 L1127,524.9 L1127.5,518.4 L1128,507.7 L1128.5,529.9 L1129,512.3 L1129.5,496.5 L1130,521.4 L1130.5,517.4 L1131,543.2 L1131.5,513.5 L1132,520.3 L1132.5,503.7 L1133,523.9 L1133.5,519.3 L1134,507.4 L1134.5,519 L1135,502.3 L1135.5,522.7 L1136,511.2 L1136.5,520.2 L1137,506.2 L1137.5,507.7 L1138,514.4 L1138.5,525.4 L1139,517.7 L1139.5,490 L1140,523.6 L1140.5,515 L1141,523.2 L1141.5,528.9 L1142,525.3 L1142.5,508.1 L1143,512.2 L1143.5,521.7 L1144,527.3 L1144.5,507.7 L1145,509.2 L1145.5,505.3 L1146,520.7 L1146.5,508.4 L1147,542 L1147.5,525.7 L1148,529.6 L1148.5,523.3 L1149,510.1 L1149.5,488.6 L1150,532.9 L1150.5,520.2 L1151,496 L1151.5,548.3 L1152,525.3 L1152.5,534.8 L1153,514.4 L1153.5,497.6 L1154,508.7 L1154.5,526.1 L1155,494.1 L1155.5,511.6 L1156,530.2 L1156.5,529.5 L1157,518.5 L1157.5,489.4 L1158,514.9 L1158.5,532.1 L1159,527.6 L1159.5,513.6 L1160,522.2 L1160.5,524.5 L1161,513.8 L1161.5,510.1 L1162,510.6 L1162.5,509.1 L1163,517.6 L1163.5,518 L1164,525 L1164.5,525.1 L1165,517.2 L1165.5,495.2 L1166,525.1 L1166.5,509.2 L1167,538.4 L1167.5,516 L1168,544.2 L1168.5,526.7 L1169,538.2 L1169.5,522.1 L1170,525.7 L1170.5,515.5 L1171,515.1 L1171.5,515.2 L1172,528.8 L1172.5,508.2 L1173,532 L1173.5,518 L1174,527.9 L1174.5,510.3 L1175,521.9 L1175.5,502.6 L1176,514.4 L1176.5,519.4 L1177,510.5 L1177.5,519.2 L1178,523.2 L1178.5,523.5 L1179,499.6 L1179.5,518.9 L1180,520 L1180.5,513.1 L1181,512 L1181.5,543.9 L1182,532.1 L1182.5,533.9 L1183,536.2 L1183.5,512.9 L1184,520.5 L1184.5,504 L1185,525.7 L1185.5,502.8 L1186,516.2 L1186.5,532.6 L1187,530.6 L1187.5,514.1 L1188,515.3 L1188.5,539.7 L1189,530.5 L1189.5,520.3 L1190,527.7 L1190.5,527.8 L1191,514.8 L1191.5,520.8 L1192,504 L1192.5,530 L1193,528.6 L1193.5,539.3 L1194,539.5 L1194.5,523.4 L1195,546.3 L1195.5,520.8 L1196,539.5 L1196.5,523.7 L1197,522.8 L1197.5,516.2 L1198,529.5 L1198.5,555.2 L1199,532.4 L1199.5,536.1 L1200,527.4 L1200.5,536.9 L1201,538.5 L1201.5,537.2 L1202,547.3 L1202.5,532.1 L1203,537.3 L1203.5,550 L1204,540.1 L1204.5,525.2 L1205,547.7 L1205.5,541 L1206,525.3 L1206.5,525.9 L1207,530.4 L1207.5,544.1 L1208,538.9 L1208.5,546.3 L1209,562.9 L1209.5,555.1 L1210,537.5 L1210.5,529.2 L1211,552.1 L1211.5,529.3 L1212,528.7 L1212.5,536.3 L1213,540.9 L1213.5,535.2 L1214,541.2 L1214.5,508.5 L1215,533.2 L1215.5,536.7 L1216,543.3 L1216.5,538.5 L1217,531.2 L1217.5,560.3 L1218,542.8 L1218.5,538 L1219,533.7 L1219.5,534.5 L1220,519.5 L1220.5,516.4 L1221,529.3 L1221.5,508.4 L1222,531.6 L1222.5,519.9 L1223,531.1 L1223.5,523.7 L1224,512.4 L1224.5,513.3 L1225,516.3 L1225.5,534.9 L1226,535.5 L1226.5,518 L1227,521.3 L1227.5,510.8 L1228,534.8 L1228.5,494.6 L1229,470.8 L1229.5,447 L1230,470.8 L1230.5,494.6 L1231,518.8 L1231.5,507.7 L1232,507.7 L1232.5,510.8 L1233,491.8 L1233.5,526.4 L1234,510 L1234.5,496.2 L1235,484.2 L1235.5,520.3 L1236,519 L1236.5,532.4 L1237,527.8 L1237.5,512.5 L1238,498.2 L1238.5,519.5 L1239,511 L1239.5,518.4 L1240,500.1 L1240.5,514.4 L1241,515.4 L1241.5,503.9 L1242,498.8 L1242.5,493.8 L1243,519.2 L1243.5,531.7 L1244,518.1 L1244.5,490.2 L1245,518 L1245.5,500.1 L1246,521.2 L1246.5,537.6 L1247,522.4 L1247.5,490.1 L1248,530.1 L1248.5,522.2 L1249,539.3 L1249.5,524.1 L1250,526.2 L1250.5,498.8 L1251,534.2 L1251.5,504.9 L1252,496.4 L1252.5,524.1 L1253,526.6 L1253.5,534.5 L1254,531.2 L1254.5,522.6 L1255,522.2 L1255.5,528 L1256,522.5 L1256.5,523.6 L1257,496.2" fill="none" stroke="#000" stroke-width="1.15" stroke-linejoin="round"/>
<path d="M869.5,750.9 L870,749.2 L870.5,740.5 L871,748.4 L871.5,733.6 L872,720.2 L872.5,760.7 L873,747.1 L873.5,718 L874,729.8 L874.5,735 L875,746.2 L875.5,757.7 L876,746.1 L876.5,737.8 L877,748.3 L877.5,740.6 L878,745.4 L878.5,735.8 L879,729.7 L879.5,758.5 L880,740.3 L880.5,745.5 L881,737.4 L881.5,738.2 L882,740.5 L882.5,752.3 L883,759 L883.5,751.3 L884,738.9 L884.5,777.9 L885,755.9 L885.5,757.6 L886,740.9 L886.5,744.9 L887,755.2 L887.5,728.7 L888,740.3 L888.5,754.3 L889,778.1 L889.5,755.6 L890,739.3 L890.5,737.7 L891,763.5 L891.5,743.4 L892,749.3 L892.5,776.3 L893,754.9 L893.5,750.6 L894,746.2 L894.5,770.9 L895,771.4 L895.5,749 L896,740.9 L896.5,756.3 L897,774.1 L897.5,764 L898,745.3 L898.5,763.6 L899,768.8 L899.5,759.3 L900,761.1 L900.5,758.9 L901,752.7 L901.5,750.5 L902,742 L902.5,743.6 L903,737 L903.5,761.6 L904,761.7 L904.5,756.4 L905,760.4 L905.5,755.6 L906,745.8 L906.5,756.3 L907,750 L907.5,750.9 L908,728.9 L908.5,746.3 L909,756.9 L909.5,747.6 L910,741.5 L910.5,732.1 L911,742.7 L911.5,766.4 L912,742.6 L912.5,761.5 L913,743.5 L913.5,760.8 L914,742.1 L914.5,752.3 L915,755 L915.5,754.3 L916,736.1 L916.5,742.6 L917,736.2 L917.5,744.3 L918,741.8 L918.5,742.3 L919,752 L919.5,732.7 L920,735.3 L920.5,737.5 L921,741.2 L921.5,734.5 L922,749.3 L922.5,730.8 L923,763.4 L923.5,743.4 L924,756.1 L924.5,729.9 L925,738.5 L925.5,743.4 L926,762.1 L926.5,742.8 L927,758.5 L927.5,733 L928,758.2 L928.5,732.9 L929,720 L929.5,717.5 L930,742.3 L930.5,737.2 L931,742.2 L931.5,738.3 L932,744.5 L932.5,757.4 L933,736.1 L933.5,741.4 L934,733.5 L934.5,717.8 L935,734.3 L935.5,754.5 L936,727.6 L936.5,763.3 L937,743.1 L937.5,741.7 L938,747 L938.5,735.9 L939,735.2 L939.5,749.1 L940,724.5 L940.5,730.1 L941,717.2 L941.5,731.1 L942,763.9 L942.5,741.5 L943,716.1 L943.5,705.5 L944,731.3 L944.5,732 L945,715.9 L945.5,737.3 L946,725.8 L946.5,728.2 L947,727.8 L947.5,730.7 L948,712 L948.5,707.4 L949,729.1 L949.5,709.8 L950,695.4 L950.5,711.6 L951,651.2 L951.5,600 L952,651.2 L952.5,720.1 L953,692.4 L953.5,681.4 L954,693.5 L954.5,680.6 L955,692.3 L955.5,690.9 L956,694.4 L956.5,686.2 L957,669.6 L957.5,651.4 L958,620 L958.5,651.4 L959,696.7 L959.5,670.2 L960,679.7 L960.5,673.9 L961,670.4 L961.5,686.6 L962,633.4 L962.5,590 L963,633.4 L963.5,695.2 L964,675.9 L964.5,665.1 L965,681.9 L965.5,682 L966,659.5 L966.5,603.9 L967,548.3 L967.5,603.9 L968,659.5 L968.5,686.7 L969,681.2 L969.5,701.4 L970,689.9 L970.5,672 L971,691.4 L971.5,649.7 L972,610 L972.5,649.7 L973,699.7 L973.5,696.5 L974,699.1 L974.5,705.3 L975,689.1 L975.5,698.3 L976,712.7 L976.5,692.3 L977,694.8 L977.5,693.9 L978,713.3 L978.5,695.1 L979,712.5 L979.5,694.8 L980,701.4 L980.5,702.2 L981,692 L981.5,686 L982,708 L982.5,691.9 L983,701.9 L983.5,703 L984,678.3 L984.5,708.6 L985,695.4 L985.5,689.9 L986,688.6 L986.5,686.8 L987,694.8 L987.5,715.4 L988,689.3 L988.5,676.7 L989,685.6 L989.5,711.6 L990,687.5 L990.5,708 L991,675.9 L991.5,674.7 L992,669.4 L992.5,670.7 L993,679.8 L993.5,680.9 L994,658.2 L994.5,665.4 L995,667.1 L995.5,670.7 L996,689.7 L996.5,690.4 L997,676.9 L997.5,679.6 L998,659.9 L998.5,671.9 L999,646.5 L999.5,664.6 L1000,667.3 L1000.5,672.3 L1001,659.8 L1001.5,658.6 L1002,647 L1002.5,631.3 L1003,648.4 L1003.5,632.4 L1004,648.6 L1004.5,648.3 L1005,634.5 L1005.5,628.3 L1006,645.9 L1006.5,639.9 L1007,650.5 L1007.5,654.2 L1008,660.8 L1008.5,651.5 L1009,628 L1009.5,635.9 L1010,659.1 L1010.5,623 L1011,627 L1011.5,644.6 L1012,634.4 L1012.5,618.5 L1013,627.8 L1013.5,615.1 L1014,630.5 L1014.5,616.9 L1015,617 L1015.5,616.9 L1016,589.9 L1016.5,609.1 L1017,613.8 L1017.5,608 L1018,599 L1018.5,602.1 L1019,617.8 L1019.5,606.6 L1020,589.5 L1020.5,607.1 L1021,596 L1021.5,584.9 L1022,567.9 L1022.5,593 L1023,571.3 L1023.5,586.1 L1024,592.8 L1024.5,585.9 L1025,561.9 L1025.5,563.1 L1026,579.3 L1026.5,582.1 L1027,567.6 L1027.5,563.8 L1028,584.6 L1028.5,580.8 L1029,562.7 L1029.5,553.6 L1030,563.4 L1030.5,539.7 L1031,554.4 L1031.5,552.8 L1032,562.2 L1032.5,552.4 L1033,523.2 L1033.5,563.5 L1034,546.9 L1034.5,515 L1035,518.3 L1035.5,542.1 L1036,517 L1036.5,539.5 L1037,516.1 L1037.5,508.6 L1038,544.1 L1038.5,544.6 L1039,520 L1039.5,540.9 L1040,525.1 L1040.5,525.6 L1041,516.5 L1041.5,525.2 L1042,533.4 L1042.5,532.5 L1043,538.4 L1043.5,534.4 L1044,519.8 L1044.5,505.3 L1045,519.9 L1045.5,516.4 L1046,502.9 L1046.5,493.1 L1047,496 L1047.5,486.7 L1048,493.3 L1048.5,505 L1049,516.5 L1049.5,502.4 L1050,494 L1050.5,494 L1051,496.5 L1051.5,511.8 L1052,498 L1052.5,475 L1053,494.7 L1053.5,473.6 L1054,484.5 L1054.5,492.8 L1055,480.6 L1055.5,488.3 L1056,502.6 L1056.5,478.5 L1057,499.8 L1057.5,497.5 L1058,495 L1058.5,476.8 L1059,499.1 L1059.5,490.8 L1060,494.5 L1060.5,486.3 L1061,500.3 L1061.5,470 L1062,489.8 L1062.5,494.1 L1063,516.5 L1063.5,466.5 L1064,470.5 L1064.5,481.3 L1065,486.7 L1065.5,474 L1066,491.2 L1066.5,479.9 L1067,483.5 L1067.5,466.6 L1068,486.6 L1068.5,482.9 L1069,498.6 L1069.5,490.5 L1070,498.3 L1070.5,484.9 L1071,472.3 L1071.5,488.8 L1072,463.2 L1072.5,464.4 L1073,472.9 L1073.5,489.3 L1074,491.9 L1074.5,459.6 L1075,475.5 L1075.5,492.8 L1076,474.1 L1076.5,459.9 L1077,479.2 L1077.5,494 L1078,471.4 L1078.5,471.7 L1079,501.7 L1079.5,486.3 L1080,465.3 L1080.5,487.8 L1081,492.2 L1081.5,474.5 L1082,480.4 L1082.5,487.9 L1083,481.7 L1083.5,495.8 L1084,493.4 L1084.5,488.8 L1085,495.9 L1085.5,474.5 L1086,468.7 L1086.5,462.1 L1087,470.9 L1087.5,464.4 L1088,474.3 L1088.5,488.1 L1089,494.1 L1089.5,484.7 L1090,483.5 L1090.5,479.9 L1091,482.4 L1091.5,470.3 L1092,468.6 L1092.5,461.7 L1093,471.7 L1093.5,478.8 L1094,473 L1094.5,476.6 L1095,495.9 L1095.5,479 L1096,480.4 L1096.5,473.7 L1097,479.4 L1097.5,461.1 L1098,478.9 L1098.5,480.1 L1099,482.2 L1099.5,454.4 L1100,468.4 L1100.5,485.8 L1101,478.8 L1101.5,454 L1102,459.9 L1102.5,456.2 L1103,473.3 L1103.5,478.4 L1104,465.1 L1104.5,448.5 L1105,469.1 L1105.5,444.1 L1106,478.1 L1106.5,455.9 L1107,455.3 L1107.5,454 L1108,466.6 L1108.5,468 L1109,472 L1109.5,465.9 L1110,466.4 L1110.5,479.6 L1111,483.8 L1111.5,471.6 L1112,475.4 L1112.5,478.5 L1113,467.4 L1113.5,463.1 L1114,454.8 L1114.5,464.9 L1115,489 L1115.5,462.9 L1116,456.7 L1116.5,468.9 L1117,474.3 L1117.5,476 L1118,461.6 L1118.5,476.9 L1119,466.9 L1119.5,467.8 L1120,470.1 L1120.5,462.5 L1121,466.6 L1121.5,481.1 L1122,461.2 L1122.5,469.4 L1123,479.4 L1123.5,476.5 L1124,476.8 L1124.5,461 L1125,459.9 L1125.5,471.9 L1126,468 L1126.5,455 L1127,474.7 L1127.5,480.4 L1128,492.5 L1128.5,475.3 L1129,474.7 L1129.5,468.5 L1130,480.4 L1130.5,474.8 L1131,501.4 L1131.5,470.9 L1132,494.1 L1132.5,477.7 L1133,467.3 L1133.5,485.4 L1134,484.9 L1134.5,499 L1135,490.6 L1135.5,483.2 L1136,478.2 L1136.5,475.7 L1137,482.7 L1137.5,486.6 L1138,475.4 L1138.5,476.2 L1139,489.1 L1139.5,475.3 L1140,484.5 L1140.5,483 L1141,478.3 L1141.5,502.1 L1142,498.5 L1142.5,488 L1143,474.1 L1143.5,491.3 L1144,487.2 L1144.5,488.4 L1145,489.9 L1145.5,484 L1146,516.1 L1146.5,497.9 L1147,489.2 L1147.5,495.2 L1148,487.2 L1148.5,483.7 L1149,482.9 L1149.5,497.5 L1150,506.7 L1150.5,510.1 L1151,497.7 L1151.5,498.6 L1152,476.4 L1152.5,474 L1153,491.5 L1153.5,506.4 L1154,511.4 L1154.5,494.7 L1155,483.6 L1155.5,494.5 L1156,497 L1156.5,487.3 L1157,495.7 L1157.5,508.6 L1158,492.4 L1158.5,498.3 L1159,520.6 L1159.5,505.4 L1160,506.1 L1160.5,495.4 L1161,511.1 L1161.5,484.8 L1162,517 L1162.5,502.2 L1163,492.9 L1163.5,495.4 L1164,501 L1164.5,477.2 L1165,499.4 L1165.5,502.4 L1166,486.8 L1166.5,505.5 L1167,514.3 L1167.5,484.5 L1168,493.4 L1168.5,508.8 L1169,526.2 L1169.5,498 L1170,506 L1170.5,496.6 L1171,505.9 L1171.5,510.9 L1172,498.8 L1172.5,512.9 L1173,542.5 L1173.5,524.2 L1174,505.4 L1174.5,508.6 L1175,490.3 L1175.5,503.2 L1176,500 L1176.5,495.2 L1177,483 L1177.5,522.5 L1178,510.8 L1178.5,492.1 L1179,514 L1179.5,514.1 L1180,491.3 L1180.5,520.4 L1181,480.3 L1181.5,515.9 L1182,494.6 L1182.5,510.7 L1183,485.4 L1183.5,508.5 L1184,519.4 L1184.5,521.1 L1185,508.5 L1185.5,509.4 L1186,498.5 L1186.5,502.1 L1187,507.5 L1187.5,492.8 L1188,511.4 L1188.5,504.1 L1189,512.5 L1189.5,517.1 L1190,505.9 L1190.5,496.9 L1191,513.5 L1191.5,501.9 L1192,508.6 L1192.5,510.1 L1193,496.3 L1193.5,517.2 L1194,496.6 L1194.5,509.5 L1195,519.9 L1195.5,517.4 L1196,515.2 L1196.5,532 L1197,512.4 L1197.5,516.1 L1198,525.3 L1198.5,495 L1199,509.8 L1199.5,523.8 L1200,520 L1200.5,507.6 L1201,520.4 L1201.5,521.3 L1202,515.2 L1202.5,527.8 L1203,501.5 L1203.5,522.1 L1204,513.2 L1204.5,512.1 L1205,493.8 L1205.5,541.1 L1206,486.2 L1206.5,516.5 L1207,513.3 L1207.5,536.5 L1208,509.5 L1208.5,514 L1209,518.8 L1209.5,525.5 L1210,530.2 L1210.5,525.3 L1211,493.6 L1211.5,511.3 L1212,526.9 L1212.5,526.9 L1213,532.4 L1213.5,513.2 L1214,518.5 L1214.5,522.7 L1215,531.6 L1215.5,535.8 L1216,522.5 L1216.5,537.9 L1217,525.5 L1217.5,530.7 L1218,507.9 L1218.5,512 L1219,539.2 L1219.5,518.6 L1220,541.9 L1220.5,537.2 L1221,508.5 L1221.5,521.6 L1222,525 L1222.5,518.1 L1223,497.5 L1223.5,525 L1224,519.5 L1224.5,504.9 L1225,516.7 L1225.5,514.9 L1226,544 L1226.5,524.7 L1227,510.1 L1227.5,518.7 L1228,497.8 L1228.5,526.8 L1229,518.5 L1229.5,533.3 L1230,518.9 L1230.5,535.7 L1231,536.2 L1231.5,505.9 L1232,515.8 L1232.5,520.2 L1233,518 L1233.5,509.3 L1234,516.7 L1234.5,516.6 L1235,526.9 L1235.5,514.4 L1236,518.4 L1236.5,530.1 L1237,521.6 L1237.5,509.1 L1238,501.7 L1238.5,514.7 L1239,501.4 L1239.5,518 L1240,507 L1240.5,491.3 L1241,517 L1241.5,498.5 L1242,514 L1242.5,509.2 L1243,511.7 L1243.5,485.2 L1244,499.3 L1244.5,505.2 L1245,538 L1245.5,521.2 L1246,517.6 L1246.5,529.9 L1247,515.4 L1247.5,517.1 L1248,510.6 L1248.5,523.6 L1249,496 L1249.5,502.8 L1250,536.7 L1250.5,537.6 L1251,530.2 L1251.5,525 L1252,548.8 L1252.5,543.4 L1253,521.2 L1253.5,538.7 L1254,546.5 L1254.5,534 L1255,518.5 L1255.5,538.1 L1256,548.1 L1256.5,551.2 L1257,536.9" fill="none" stroke="#ee1111" stroke-width="1.15" stroke-linejoin="round"/>
<text x="1145" y="602.4" font-size="19" text-anchor="middle" fill="#000" font-style="italic">Drinking</text>
<text x="1145" y="627" font-size="19" text-anchor="middle" fill="#000" font-style="italic">after dehydration</text>
<path d="M1115.7,640.3 L1115.7,708.3 L1184.7,708.3" fill="none" stroke="#333" stroke-width="1.3"/>
<text transform="translate(1110,674.5) rotate(-90)" font-size="18.6" text-anchor="middle" fill="#000">400 licks</text>
<text x="1151" y="726.6" font-size="19" text-anchor="middle" fill="#000">10 min</text>
<path d="M1115.7,708.3 L1118.2,703.4 L1120.7,696 L1123.1,686.2 L1125.6,676.3 L1128,668.9 L1130.5,661.5 L1133,655.6 L1135.4,651.7 L1145.3,649.2 L1160.1,647.7 L1174.9,646.7 L1182.3,645.7 L1184.7,644.3" fill="none" stroke="#000" stroke-width="1.2" stroke-linejoin="round"/>
<path d="M1115.7,708.3 L1118.2,705.9 L1120.7,700.9 L1123.1,695 L1125.6,691.1 L1140.4,688.6 L1142.8,683.7 L1150.2,680.2 L1165,680.2 L1184.7,679.7" fill="none" stroke="#e8141b" stroke-width="1.2" stroke-linejoin="round"/>
<text x="1021" y="771" font-size="19.1" text-anchor="start" fill="#000">Vehicle pre-treatment</text>
<text x="1021" y="794.6" font-size="19.1" text-anchor="start" fill="#e3262b">CNO pre-treatment</text>
<clipPath id="ca1"><rect x="34.5" y="160" width="163.5" height="163.3"/></clipPath>
<g clip-path="url(#ca1)">
<rect x="34.5" y="160" width="163.5" height="163.3" fill="#020802"/>
<path d="M34,160 L197.7,160 L197.7,323.7 L34,323.7 Z" fill="#061c06" fill-opacity="0.7"/>
<filter id="b10" x="-30%" y="-30%" width="160%" height="160%"><feGaussianBlur stdDeviation="10"/></filter>
<ellipse cx="97.5" cy="208.1" rx="48.1" ry="25" fill="#000" fill-opacity="0.9" filter="url(#b10)"/>
<filter id="b14" x="-30%" y="-30%" width="160%" height="160%"><feGaussianBlur stdDeviation="14"/></filter>
<path d="M34,242.8 L111,240.9 L197.7,233.2 L197.7,298.6 L34,306.4 Z" fill="#135213" fill-opacity="0.5" filter="url(#b14)"/>
<filter id="b6" x="-30%" y="-30%" width="160%" height="160%"><feGaussianBlur stdDeviation="6"/></filter>
<path d="M34,294.8 L107.2,294.8 L97.5,323.7 L34,323.7 Z" fill="#0b300b" fill-opacity="0.9" filter="url(#b6)"/>
<path d="M34,273.6 L62.9,267.8 L91.8,264 L120.7,258.2 L141.8,250.5 L159.2,252.4 L184.2,256.3 L197.7,264 L197.7,292.9 L153.4,285.2 L141.8,275.5 L120.7,283.2 L107.2,292.9 L82.1,295.8 L53.3,298.6 L34,298.6 Z" fill="#1f8a1f" fill-opacity="0.85" filter="url(#b6)"/>
<filter id="b7" x="-30%" y="-30%" width="160%" height="160%"><feGaussianBlur stdDeviation="7"/></filter>
<path d="M34,275.5 L97.5,271.7 L103.3,292.9 L34,295.8 Z" fill="#34b034" fill-opacity="0.7" filter="url(#b7)"/>
<path d="M149.5,258.2 L184.2,258.2 L188.1,287.1 L153.4,285.2 Z" fill="#34b034" fill-opacity="0.7" filter="url(#b7)"/>
<filter id="b0_35" x="-30%" y="-30%" width="160%" height="160%"><feGaussianBlur stdDeviation="0.35"/></filter>
<g filter="url(#b0_35)"><circle cx="188.4" cy="273.9" r="1.2" fill="#3cc83c" fill-opacity="0.46"/><circle cx="92.8" cy="263.9" r="1.5" fill="#2fb82f" fill-opacity="0.76"/><circle cx="130.8" cy="267.5" r="1" fill="#3fd13f" fill-opacity="0.48"/><circle cx="82.2" cy="292.6" r="0.8" fill="#52e052" fill-opacity="0.53"/><circle cx="185" cy="261.3" r="0.8" fill="#52e052" fill-opacity="0.94"/><circle cx="176.3" cy="258.5" r="1.2" fill="#3fd13f" fill-opacity="0.61"/><circle cx="93.6" cy="290.5" r="0.8" fill="#3cc83c" fill-opacity="0.59"/><circle cx="193.3" cy="271.3" r="0.9" fill="#52e052" fill-opacity="0.70"/><circle cx="70.8" cy="285" r="1.5" fill="#2fb82f" fill-opacity="0.40"/><circle cx="165.8" cy="283.8" r="0.8" fill="#3fd13f" fill-opacity="0.48"/><circle cx="111.1" cy="282.6" r="1.4" fill="#3cc83c" fill-opacity="0.91"/><circle cx="39" cy="294.2" r="0.9" fill="#2fb82f" fill-opacity="0.86"/><circle cx="180.5" cy="256.6" r="1" fill="#3cc83c" fill-opacity="0.42"/><circle cx="127.9" cy="270" r="1.5" fill="#2fb82f" fill-opacity="0.40"/><circle cx="140.7" cy="259.4" r="1.4" fill="#2fb82f" fill-opacity="0.75"/><circle cx="117.1" cy="262.7" r="1.1" fill="#3fd13f" fill-opacity="0.96"/><circle cx="94.7" cy="293.5" r="0.8" fill="#3fd13f" fill-opacity="0.60"/><circle cx="43" cy="289.9" r="1.1" fill="#3fd13f" fill-opacity="0.45"/><circle cx="75" cy="273.4" r="1" fill="#66ea66" fill-opacity="0.67"/><circle cx="143.2" cy="262" r="1.1" fill="#3cc83c" fill-opacity="0.60"/><circle cx="111" cy="270.3" r="1.4" fill="#3fd13f" fill-opacity="0.95"/><circle cx="192.7" cy="278" r="1" fill="#3cc83c" fill-opacity="0.58"/><circle cx="126.9" cy="257.5" r="1.6" fill="#66ea66" fill-opacity="0.63"/><circle cx="190.5" cy="261.3" r="0.9" fill="#3cc83c" fill-opacity="0.57"/><circle cx="94.5" cy="266.7" r="1" fill="#3cc83c" fill-opacity="0.75"/><circle cx="118.8" cy="281.4" r="1" fill="#52e052" fill-opacity="0.95"/><circle cx="181.6" cy="266.5" r="1.1" fill="#3fd13f" fill-opacity="0.77"/><circle cx="99.2" cy="280.9" r="1.5" fill="#52e052" fill-opacity="0.48"/><circle cx="69.3" cy="278.7" r="1.4" fill="#2fb82f" fill-opacity="0.77"/><circle cx="148.4" cy="260.1" r="1.3" fill="#52e052" fill-opacity="0.85"/><circle cx="127" cy="274.5" r="1.5" fill="#3fd13f" fill-opacity="0.73"/><circle cx="132.6" cy="263.3" r="1.5" fill="#3cc83c" fill-opacity="0.74"/><circle cx="192.2" cy="288" r="1.5" fill="#66ea66" fill-opacity="0.58"/><circle cx="39.7" cy="293.6" r="1" fill="#3cc83c" fill-opacity="0.51"/><circle cx="139.5" cy="269" r="1" fill="#3fd13f" fill-opacity="0.98"/><circle cx="182.6" cy="270.3" r="1.1" fill="#66ea66" fill-opacity="0.85"/><circle cx="44.1" cy="289.5" r="1.1" fill="#52e052" fill-opacity="0.86"/><circle cx="181.5" cy="286.3" r="1.3" fill="#2fb82f" fill-opacity="0.73"/><circle cx="162.1" cy="283.8" r="1.1" fill="#2fb82f" fill-opacity="0.89"/><circle cx="142.3" cy="256.9" r="1.2" fill="#2fb82f" fill-opacity="0.42"/><circle cx="140.3" cy="251.2" r="0.8" fill="#2fb82f" fill-opacity="0.99"/><circle cx="120.4" cy="276.1" r="1.3" fill="#3cc83c" fill-opacity="0.47"/><circle cx="189.7" cy="283.1" r="1.3" fill="#3fd13f" fill-opacity="0.96"/><circle cx="156.3" cy="278.4" r="0.9" fill="#66ea66" fill-opacity="0.61"/><circle cx="92.7" cy="265.1" r="1.3" fill="#3cc83c" fill-opacity="0.96"/><circle cx="185.5" cy="281.8" r="1" fill="#3fd13f" fill-opacity="0.65"/><circle cx="196.4" cy="292.6" r="0.8" fill="#52e052" fill-opacity="0.81"/><circle cx="71.2" cy="286.9" r="0.9" fill="#2fb82f" fill-opacity="0.73"/><circle cx="176.5" cy="279.1" r="1.1" fill="#66ea66" fill-opacity="0.61"/><circle cx="112.1" cy="270.3" r="1.3" fill="#3fd13f" fill-opacity="0.53"/><circle cx="122.7" cy="260.1" r="1.5" fill="#52e052" fill-opacity="0.56"/><circle cx="178.2" cy="282" r="1.1" fill="#3fd13f" fill-opacity="0.61"/><circle cx="132.9" cy="255.3" r="1.2" fill="#52e052" fill-opacity="0.68"/><circle cx="155" cy="256.4" r="1.1" fill="#3fd13f" fill-opacity="0.46"/><circle cx="96.4" cy="286.6" r="0.8" fill="#2fb82f" fill-opacity="0.66"/><circle cx="44.6" cy="293.3" r="1.2" fill="#52e052" fill-opacity="0.43"/><circle cx="135.9" cy="255.6" r="1.4" fill="#66ea66" fill-opacity="0.90"/><circle cx="94" cy="277.8" r="1.1" fill="#3cc83c" fill-opacity="0.86"/><circle cx="96.4" cy="283.7" r="0.9" fill="#2fb82f" fill-opacity="0.95"/><circle cx="60.7" cy="270.8" r="1.3" fill="#3cc83c" fill-opacity="0.77"/><circle cx="64.1" cy="285.1" r="1.1" fill="#2fb82f" fill-opacity="0.98"/><circle cx="132.9" cy="253.8" r="1.2" fill="#3cc83c" fill-opacity="0.77"/><circle cx="130.2" cy="257.4" r="1.1" fill="#3fd13f" fill-opacity="0.58"/><circle cx="161.8" cy="264.7" r="0.8" fill="#3cc83c" fill-opacity="0.54"/><circle cx="133.4" cy="255.8" r="1.4" fill="#66ea66" fill-opacity="0.76"/><circle cx="100.3" cy="291.1" r="1.6" fill="#3cc83c" fill-opacity="0.97"/><circle cx="100" cy="281.2" r="1.4" fill="#3cc83c" fill-opacity="0.72"/><circle cx="48.4" cy="275.8" r="0.8" fill="#3cc83c" fill-opacity="0.99"/><circle cx="102.9" cy="279.8" r="1" fill="#52e052" fill-opacity="0.72"/><circle cx="42.5" cy="297" r="1.4" fill="#3fd13f" fill-opacity="0.58"/><circle cx="95.4" cy="271.5" r="1" fill="#3cc83c" fill-opacity="0.69"/><circle cx="151.1" cy="279.9" r="1" fill="#3fd13f" fill-opacity="0.65"/><circle cx="130.3" cy="273.2" r="0.7" fill="#2fb82f" fill-opacity="0.47"/><circle cx="89.4" cy="291.3" r="1.5" fill="#3fd13f" fill-opacity="0.58"/><circle cx="141.1" cy="261.2" r="1" fill="#66ea66" fill-opacity="0.63"/><circle cx="50.3" cy="277.5" r="1.3" fill="#52e052" fill-opacity="0.77"/><circle cx="95.5" cy="293.3" r="1.1" fill="#3cc83c" fill-opacity="0.57"/><circle cx="93.3" cy="272.5" r="1" fill="#66ea66" fill-opacity="0.51"/><circle cx="146.9" cy="259.1" r="1.4" fill="#66ea66" fill-opacity="0.92"/><circle cx="94.3" cy="285.3" r="1.1" fill="#3fd13f" fill-opacity="0.72"/><circle cx="46.6" cy="295.7" r="0.9" fill="#66ea66" fill-opacity="0.81"/><circle cx="138.9" cy="251.6" r="1.4" fill="#2fb82f" fill-opacity="0.53"/><circle cx="81.3" cy="265.6" r="1.2" fill="#3cc83c" fill-opacity="0.99"/><circle cx="37.7" cy="288" r="1.6" fill="#3fd13f" fill-opacity="0.85"/><circle cx="182.9" cy="262.3" r="0.7" fill="#3fd13f" fill-opacity="0.89"/><circle cx="184.7" cy="271.2" r="1.5" fill="#52e052" fill-opacity="0.70"/><circle cx="112.5" cy="276.9" r="1.4" fill="#3cc83c" fill-opacity="0.95"/><circle cx="81.3" cy="267.1" r="1.1" fill="#3fd13f" fill-opacity="0.70"/><circle cx="169.6" cy="284.5" r="1.3" fill="#2fb82f" fill-opacity="0.95"/><circle cx="82.6" cy="282.8" r="1.3" fill="#3fd13f" fill-opacity="0.58"/><circle cx="82.3" cy="285.4" r="1.1" fill="#52e052" fill-opacity="0.73"/><circle cx="92.3" cy="264.2" r="1.2" fill="#3fd13f" fill-opacity="0.52"/><circle cx="157.3" cy="283.1" r="0.8" fill="#66ea66" fill-opacity="0.79"/><circle cx="57.4" cy="281.8" r="1.6" fill="#66ea66" fill-opacity="0.94"/><circle cx="154.2" cy="253.8" r="1.2" fill="#52e052" fill-opacity="0.42"/><circle cx="187.7" cy="262.4" r="1.3" fill="#3fd13f" fill-opacity="0.50"/><circle cx="90.8" cy="277.8" r="1.6" fill="#3fd13f" fill-opacity="0.97"/><circle cx="87.5" cy="283.8" r="0.9" fill="#3cc83c" fill-opacity="0.55"/><circle cx="168.8" cy="261.2" r="1.4" fill="#3cc83c" fill-opacity="0.45"/><circle cx="72.4" cy="279.4" r="0.9" fill="#3cc83c" fill-opacity="0.52"/><circle cx="59.4" cy="284.5" r="1.4" fill="#2fb82f" fill-opacity="0.53"/><circle cx="115.1" cy="263" r="1.5" fill="#3fd13f" fill-opacity="0.67"/><circle cx="86.5" cy="282.8" r="1" fill="#66ea66" fill-opacity="0.47"/><circle cx="110.1" cy="286.3" r="1" fill="#3cc83c" fill-opacity="0.92"/><circle cx="104.5" cy="291.1" r="1.1" fill="#66ea66" fill-opacity="0.73"/><circle cx="70.4" cy="282.1" r="1.6" fill="#3cc83c" fill-opacity="0.56"/><circle cx="149.2" cy="261" r="1.2" fill="#3cc83c" fill-opacity="1.00"/><circle cx="72.9" cy="291.5" r="0.9" fill="#2fb82f" fill-opacity="0.45"/><circle cx="93.7" cy="287.8" r="0.9" fill="#66ea66" fill-opacity="0.61"/><circle cx="59.2" cy="282.7" r="0.9" fill="#2fb82f" fill-opacity="0.99"/><circle cx="170.7" cy="279.2" r="1.6" fill="#3cc83c" fill-opacity="0.69"/><circle cx="162.1" cy="262.4" r="1.4" fill="#3cc83c" fill-opacity="1.00"/><circle cx="47.5" cy="276.3" r="1.3" fill="#3fd13f" fill-opacity="0.61"/><circle cx="171.4" cy="279.4" r="1.5" fill="#3cc83c" fill-opacity="0.95"/><circle cx="40.9" cy="289.7" r="0.9" fill="#52e052" fill-opacity="0.65"/><circle cx="75.2" cy="280.4" r="0.9" fill="#66ea66" fill-opacity="0.58"/><circle cx="63.3" cy="271.9" r="1.4" fill="#3fd13f" fill-opacity="0.97"/><circle cx="140" cy="259.8" r="1.2" fill="#2fb82f" fill-opacity="0.56"/><circle cx="80.7" cy="267.1" r="1.3" fill="#52e052" fill-opacity="0.94"/><circle cx="194.1" cy="268.2" r="1.5" fill="#3fd13f" fill-opacity="0.43"/><circle cx="50.7" cy="278.9" r="1.1" fill="#3cc83c" fill-opacity="0.80"/><circle cx="142.5" cy="258.6" r="1.6" fill="#3fd13f" fill-opacity="0.66"/><circle cx="121" cy="280.5" r="1" fill="#3fd13f" fill-opacity="0.46"/><circle cx="196" cy="266.3" r="0.8" fill="#3cc83c" fill-opacity="0.57"/><circle cx="190.3" cy="273.2" r="1.1" fill="#66ea66" fill-opacity="0.46"/><circle cx="112.5" cy="269.4" r="1.4" fill="#66ea66" fill-opacity="0.61"/><circle cx="107.3" cy="269.3" r="1.3" fill="#2fb82f" fill-opacity="0.58"/><circle cx="92.4" cy="265.9" r="1" fill="#52e052" fill-opacity="0.95"/><circle cx="62.1" cy="270.9" r="0.8" fill="#3cc83c" fill-opacity="1.00"/><circle cx="145.6" cy="274" r="1.6" fill="#66ea66" fill-opacity="0.56"/><circle cx="179.2" cy="279.7" r="1.3" fill="#3cc83c" fill-opacity="0.65"/><circle cx="111.9" cy="267.9" r="1.2" fill="#52e052" fill-opacity="0.49"/><circle cx="74.1" cy="294.8" r="0.9" fill="#3fd13f" fill-opacity="0.62"/><circle cx="77.7" cy="267.1" r="0.8" fill="#52e052" fill-opacity="0.89"/><circle cx="124.2" cy="278" r="1.4" fill="#3fd13f" fill-opacity="0.40"/><circle cx="91.8" cy="264.4" r="1.3" fill="#52e052" fill-opacity="0.66"/><circle cx="195.2" cy="266.7" r="1.2" fill="#52e052" fill-opacity="0.63"/><circle cx="117.2" cy="261.8" r="1.3" fill="#3cc83c" fill-opacity="0.79"/><circle cx="166.1" cy="277.2" r="1" fill="#3fd13f" fill-opacity="0.73"/><circle cx="60.3" cy="291.6" r="1.2" fill="#3cc83c" fill-opacity="0.65"/><circle cx="154.2" cy="281.4" r="1" fill="#2fb82f" fill-opacity="0.40"/><circle cx="130.6" cy="270" r="0.9" fill="#3cc83c" fill-opacity="0.86"/><circle cx="195.5" cy="264.7" r="1.3" fill="#52e052" fill-opacity="0.60"/><circle cx="85" cy="280.6" r="1.3" fill="#66ea66" fill-opacity="0.42"/><circle cx="110.4" cy="268.4" r="1.2" fill="#66ea66" fill-opacity="0.63"/><circle cx="78.5" cy="284.9" r="0.7" fill="#52e052" fill-opacity="0.73"/><circle cx="154.7" cy="280.8" r="0.9" fill="#3cc83c" fill-opacity="0.52"/><circle cx="45.2" cy="289" r="1" fill="#3fd13f" fill-opacity="0.49"/><circle cx="153.7" cy="268.1" r="0.9" fill="#2fb82f" fill-opacity="0.88"/><circle cx="170.6" cy="263.7" r="1.2" fill="#3fd13f" fill-opacity="0.60"/><circle cx="74.6" cy="286.3" r="0.9" fill="#3cc83c" fill-opacity="0.75"/><circle cx="92.7" cy="278.2" r="1.5" fill="#52e052" fill-opacity="0.69"/><circle cx="90.6" cy="286.5" r="0.8" fill="#2fb82f" fill-opacity="0.57"/><circle cx="177.5" cy="255.7" r="1.3" fill="#3fd13f" fill-opacity="0.59"/><circle cx="59.5" cy="272.7" r="1.5" fill="#3fd13f" fill-opacity="0.92"/><circle cx="183.7" cy="280" r="0.8" fill="#3cc83c" fill-opacity="0.75"/><circle cx="49.2" cy="282.9" r="1.3" fill="#52e052" fill-opacity="0.89"/><circle cx="166.9" cy="277.3" r="1.1" fill="#2fb82f" fill-opacity="0.43"/><circle cx="127" cy="276.2" r="1" fill="#3fd13f" fill-opacity="0.46"/><circle cx="118.8" cy="275.7" r="0.8" fill="#3fd13f" fill-opacity="0.47"/><circle cx="179" cy="277.1" r="1.5" fill="#2fb82f" fill-opacity="0.87"/><circle cx="194.8" cy="273.8" r="1.5" fill="#3fd13f" fill-opacity="0.62"/><circle cx="187.4" cy="263.4" r="1.3" fill="#52e052" fill-opacity="0.86"/><circle cx="145.7" cy="270.4" r="1.4" fill="#3fd13f" fill-opacity="0.80"/><circle cx="51.7" cy="295.4" r="0.9" fill="#2fb82f" fill-opacity="0.99"/><circle cx="42.8" cy="277.1" r="1" fill="#3fd13f" fill-opacity="0.94"/><circle cx="100.4" cy="291" r="1.1" fill="#2fb82f" fill-opacity="0.91"/><circle cx="121.9" cy="266.2" r="0.7" fill="#3fd13f" fill-opacity="0.98"/><circle cx="100.5" cy="263.5" r="1.4" fill="#52e052" fill-opacity="0.97"/><circle cx="161.6" cy="253.3" r="1.1" fill="#52e052" fill-opacity="0.68"/><circle cx="84.6" cy="276.3" r="0.8" fill="#52e052" fill-opacity="0.70"/><circle cx="40.1" cy="284.5" r="0.8" fill="#3cc83c" fill-opacity="0.94"/><circle cx="117.3" cy="261.9" r="1.6" fill="#66ea66" fill-opacity="0.94"/><circle cx="178.1" cy="269" r="1" fill="#3cc83c" fill-opacity="0.47"/><circle cx="37.6" cy="298.2" r="1.2" fill="#3fd13f" fill-opacity="0.83"/><circle cx="34.4" cy="295.1" r="1" fill="#3cc83c" fill-opacity="0.68"/><circle cx="151.5" cy="275.8" r="1.1" fill="#3cc83c" fill-opacity="0.68"/><circle cx="92" cy="289.3" r="1.3" fill="#2fb82f" fill-opacity="0.77"/><circle cx="157.7" cy="258.2" r="0.9" fill="#2fb82f" fill-opacity="0.43"/><circle cx="159.8" cy="282.8" r="0.7" fill="#52e052" fill-opacity="0.68"/><circle cx="43.2" cy="294.7" r="0.9" fill="#66ea66" fill-opacity="0.48"/><circle cx="53.6" cy="286.7" r="1" fill="#3cc83c" fill-opacity="0.97"/><circle cx="87.5" cy="272.2" r="1" fill="#2fb82f" fill-opacity="0.75"/><circle cx="56.3" cy="282.9" r="1.4" fill="#66ea66" fill-opacity="0.89"/><circle cx="138.3" cy="269.3" r="1.2" fill="#3fd13f" fill-opacity="0.55"/><circle cx="45.4" cy="291.9" r="1.1" fill="#66ea66" fill-opacity="0.50"/><circle cx="122.8" cy="258.4" r="1.3" fill="#2fb82f" fill-opacity="0.40"/><circle cx="93.5" cy="268.9" r="1.4" fill="#52e052" fill-opacity="0.93"/><circle cx="96.8" cy="279.6" r="1.3" fill="#52e052" fill-opacity="0.70"/><circle cx="46.9" cy="285.6" r="1.1" fill="#2fb82f" fill-opacity="0.60"/><circle cx="151.7" cy="257.3" r="1.5" fill="#2fb82f" fill-opacity="0.83"/><circle cx="159.1" cy="271.5" r="0.8" fill="#2fb82f" fill-opacity="0.85"/><circle cx="86.2" cy="273.9" r="1.3" fill="#66ea66" fill-opacity="0.63"/><circle cx="95.6" cy="288.9" r="1.5" fill="#66ea66" fill-opacity="0.86"/><circle cx="147.3" cy="259.2" r="1.3" fill="#2fb82f" fill-opacity="0.81"/><circle cx="55.6" cy="291.2" r="1" fill="#3cc83c" fill-opacity="0.54"/><circle cx="134.6" cy="276.3" r="1.4" fill="#66ea66" fill-opacity="0.86"/><circle cx="90" cy="279.9" r="1" fill="#66ea66" fill-opacity="1.00"/><circle cx="148.7" cy="255" r="1.3" fill="#52e052" fill-opacity="0.95"/><circle cx="85" cy="268" r="1.5" fill="#66ea66" fill-opacity="0.54"/><circle cx="79.8" cy="271.4" r="1.4" fill="#66ea66" fill-opacity="0.70"/><circle cx="82.4" cy="275.9" r="1.1" fill="#66ea66" fill-opacity="0.86"/><circle cx="158.2" cy="270.1" r="0.8" fill="#2fb82f" fill-opacity="0.61"/><circle cx="115.1" cy="285.8" r="0.9" fill="#2fb82f" fill-opacity="0.93"/><circle cx="72.8" cy="274.3" r="1.2" fill="#3cc83c" fill-opacity="0.46"/><circle cx="114.6" cy="267.3" r="1.2" fill="#66ea66" fill-opacity="0.89"/><circle cx="157.8" cy="263.8" r="1.2" fill="#3cc83c" fill-opacity="0.87"/><circle cx="48.3" cy="283.2" r="0.7" fill="#3fd13f" fill-opacity="0.98"/><circle cx="171.9" cy="257.3" r="1.2" fill="#3cc83c" fill-opacity="0.80"/><circle cx="126.4" cy="270.2" r="1.4" fill="#2fb82f" fill-opacity="0.64"/><circle cx="112.2" cy="260.1" r="1.4" fill="#2fb82f" fill-opacity="0.50"/><circle cx="104.7" cy="269.9" r="1.2" fill="#3fd13f" fill-opacity="0.42"/><circle cx="109" cy="272.2" r="1.5" fill="#2fb82f" fill-opacity="0.84"/><circle cx="183.1" cy="279.1" r="0.7" fill="#3fd13f" fill-opacity="0.80"/><circle cx="83" cy="288.4" r="1.3" fill="#3cc83c" fill-opacity="0.94"/><circle cx="194" cy="270.9" r="0.8" fill="#52e052" fill-opacity="0.43"/><circle cx="112.2" cy="266.7" r="1.4" fill="#2fb82f" fill-opacity="0.81"/><circle cx="150.6" cy="279.8" r="1.1" fill="#52e052" fill-opacity="0.60"/><circle cx="43.7" cy="274.8" r="1.5" fill="#52e052" fill-opacity="0.58"/><circle cx="186.1" cy="265" r="1.4" fill="#3cc83c" fill-opacity="0.87"/><circle cx="186.8" cy="269.7" r="1.5" fill="#52e052" fill-opacity="0.43"/><circle cx="161.9" cy="281" r="1.3" fill="#2fb82f" fill-opacity="0.61"/><circle cx="116.9" cy="285.9" r="1.4" fill="#52e052" fill-opacity="0.65"/><circle cx="68.5" cy="276.2" r="1.3" fill="#52e052" fill-opacity="0.90"/><circle cx="137.8" cy="268.1" r="0.9" fill="#3cc83c" fill-opacity="0.69"/><circle cx="107.8" cy="265.8" r="1.3" fill="#2fb82f" fill-opacity="0.40"/><circle cx="125.1" cy="258.6" r="1.5" fill="#3cc83c" fill-opacity="0.44"/><circle cx="100.5" cy="268.5" r="1.4" fill="#66ea66" fill-opacity="0.47"/><circle cx="166.8" cy="271.5" r="0.9" fill="#2fb82f" fill-opacity="0.65"/><circle cx="60.4" cy="272" r="0.9" fill="#52e052" fill-opacity="0.80"/><circle cx="109.8" cy="290.5" r="1.1" fill="#66ea66" fill-opacity="0.84"/><circle cx="139.2" cy="269.2" r="0.9" fill="#66ea66" fill-opacity="0.74"/><circle cx="40.1" cy="296.8" r="1.2" fill="#3cc83c" fill-opacity="0.83"/><circle cx="46.1" cy="291.5" r="1.5" fill="#3fd13f" fill-opacity="0.53"/><circle cx="104.8" cy="283.7" r="1.2" fill="#52e052" fill-opacity="0.44"/><circle cx="85.4" cy="281.4" r="1.2" fill="#2fb82f" fill-opacity="0.40"/><circle cx="185.4" cy="279.9" r="1" fill="#3cc83c" fill-opacity="0.86"/><circle cx="83.3" cy="266.7" r="0.7" fill="#2fb82f" fill-opacity="0.55"/><circle cx="146.7" cy="267" r="1.3" fill="#3cc83c" fill-opacity="0.85"/><circle cx="57.3" cy="287.3" r="1.3" fill="#2fb82f" fill-opacity="0.63"/><circle cx="56.6" cy="272.8" r="1" fill="#66ea66" fill-opacity="0.92"/><circle cx="153.2" cy="265" r="1.5" fill="#3fd13f" fill-opacity="0.43"/><circle cx="147.6" cy="259.8" r="1" fill="#3fd13f" fill-opacity="0.40"/><circle cx="36.7" cy="298.5" r="0.7" fill="#3cc83c" fill-opacity="0.83"/><circle cx="55" cy="273.3" r="1.4" fill="#52e052" fill-opacity="0.88"/><circle cx="105" cy="278.7" r="1" fill="#3cc83c" fill-opacity="0.70"/><circle cx="104.2" cy="265" r="0.9" fill="#52e052" fill-opacity="0.94"/><circle cx="78.2" cy="289.5" r="1.5" fill="#52e052" fill-opacity="0.43"/><circle cx="53.1" cy="291" r="0.9" fill="#3cc83c" fill-opacity="0.89"/><circle cx="157.3" cy="282.9" r="1.6" fill="#52e052" fill-opacity="0.83"/><circle cx="155.3" cy="277.4" r="1.6" fill="#52e052" fill-opacity="0.51"/><circle cx="116" cy="271.2" r="1.3" fill="#52e052" fill-opacity="0.63"/><circle cx="171.9" cy="274.6" r="1.4" fill="#2fb82f" fill-opacity="0.98"/><circle cx="122.2" cy="266.1" r="1" fill="#66ea66" fill-opacity="0.64"/><circle cx="43.8" cy="283.7" r="1" fill="#3cc83c" fill-opacity="0.79"/><circle cx="150.3" cy="262.9" r="0.8" fill="#3fd13f" fill-opacity="0.89"/><circle cx="179.5" cy="275" r="0.8" fill="#2fb82f" fill-opacity="0.74"/><circle cx="97.8" cy="284" r="0.9" fill="#2fb82f" fill-opacity="0.53"/><circle cx="196.3" cy="263.4" r="1.3" fill="#66ea66" fill-opacity="0.86"/><circle cx="55.4" cy="280.7" r="1.4" fill="#2fb82f" fill-opacity="0.46"/><circle cx="36.7" cy="295.8" r="1.5" fill="#52e052" fill-opacity="0.81"/><circle cx="66.8" cy="292.9" r="1.2" fill="#2fb82f" fill-opacity="0.59"/><circle cx="120.3" cy="266.2" r="1.3" fill="#52e052" fill-opacity="0.98"/><circle cx="65.6" cy="285.8" r="1.2" fill="#2fb82f" fill-opacity="0.54"/><circle cx="146.4" cy="256.5" r="1.6" fill="#52e052" fill-opacity="0.97"/><circle cx="40.2" cy="282.3" r="1.1" fill="#3fd13f" fill-opacity="0.44"/><circle cx="81.4" cy="290.6" r="1.6" fill="#2fb82f" fill-opacity="0.74"/><circle cx="49.1" cy="283.3" r="0.8" fill="#52e052" fill-opacity="0.61"/><circle cx="173.9" cy="277.7" r="1.4" fill="#52e052" fill-opacity="0.41"/><circle cx="125.7" cy="261.4" r="1.1" fill="#3fd13f" fill-opacity="0.78"/><circle cx="73.2" cy="287" r="1.1" fill="#66ea66" fill-opacity="0.76"/><circle cx="165.7" cy="280.8" r="0.8" fill="#3fd13f" fill-opacity="0.53"/><circle cx="88.2" cy="292.2" r="0.8" fill="#66ea66" fill-opacity="0.85"/><circle cx="75" cy="266.6" r="1.2" fill="#3fd13f" fill-opacity="0.80"/><circle cx="174.7" cy="272.6" r="1.6" fill="#3cc83c" fill-opacity="0.58"/><circle cx="125.1" cy="273.1" r="1.1" fill="#2fb82f" fill-opacity="0.41"/><circle cx="50.9" cy="274.1" r="1.1" fill="#3fd13f" fill-opacity="0.78"/><circle cx="165.4" cy="273" r="0.8" fill="#66ea66" fill-opacity="0.92"/><circle cx="45.4" cy="297" r="1.1" fill="#66ea66" fill-opacity="0.65"/><circle cx="91.4" cy="267.7" r="1.3" fill="#3cc83c" fill-opacity="0.56"/><circle cx="99.6" cy="282.9" r="1.2" fill="#3cc83c" fill-opacity="0.71"/><circle cx="44.6" cy="293.4" r="1.6" fill="#52e052" fill-opacity="0.76"/><circle cx="186.1" cy="289.7" r="1.2" fill="#3cc83c" fill-opacity="0.60"/><circle cx="44.6" cy="298.4" r="1.1" fill="#3fd13f" fill-opacity="0.40"/><circle cx="147.1" cy="251.3" r="0.8" fill="#52e052" fill-opacity="0.83"/><circle cx="88.8" cy="274.4" r="1.2" fill="#52e052" fill-opacity="0.85"/><circle cx="143.1" cy="257.3" r="1.5" fill="#66ea66" fill-opacity="0.56"/><circle cx="192.9" cy="262.5" r="1.2" fill="#2fb82f" fill-opacity="0.71"/><circle cx="139.2" cy="271.8" r="1.1" fill="#3fd13f" fill-opacity="0.95"/><circle cx="191.1" cy="282.2" r="1.5" fill="#2fb82f" fill-opacity="0.49"/><circle cx="86.9" cy="286.3" r="1.5" fill="#52e052" fill-opacity="0.62"/><circle cx="88.4" cy="272.9" r="1" fill="#3fd13f" fill-opacity="0.57"/><circle cx="87.8" cy="287.8" r="1" fill="#3fd13f" fill-opacity="0.41"/><circle cx="186.9" cy="276" r="1.1" fill="#3fd13f" fill-opacity="0.69"/><circle cx="196.8" cy="286.4" r="1.3" fill="#3fd13f" fill-opacity="0.60"/><circle cx="148.1" cy="257.8" r="1.1" fill="#2fb82f" fill-opacity="0.48"/><circle cx="181.4" cy="290" r="1" fill="#3fd13f" fill-opacity="0.50"/><circle cx="132.1" cy="255.2" r="0.8" fill="#66ea66" fill-opacity="0.41"/><circle cx="182.2" cy="267.4" r="1.3" fill="#3fd13f" fill-opacity="0.84"/><circle cx="124.2" cy="266.6" r="1.4" fill="#52e052" fill-opacity="0.87"/><circle cx="87.2" cy="266" r="0.9" fill="#3cc83c" fill-opacity="0.63"/><circle cx="119" cy="279.5" r="0.9" fill="#66ea66" fill-opacity="0.69"/><circle cx="60.4" cy="297.7" r="1.6" fill="#3cc83c" fill-opacity="1.00"/><circle cx="60.4" cy="291.4" r="0.9" fill="#3fd13f" fill-opacity="0.79"/><circle cx="54.5" cy="297.5" r="1.4" fill="#66ea66" fill-opacity="0.74"/><circle cx="169.7" cy="279" r="0.8" fill="#3cc83c" fill-opacity="0.74"/><circle cx="155.7" cy="272.3" r="1" fill="#3fd13f" fill-opacity="0.56"/><circle cx="172.4" cy="262.4" r="1.6" fill="#52e052" fill-opacity="0.92"/><circle cx="185.1" cy="264.5" r="1.5" fill="#3cc83c" fill-opacity="0.45"/><circle cx="132.4" cy="265.7" r="0.9" fill="#66ea66" fill-opacity="0.90"/><circle cx="148.1" cy="253.7" r="1.3" fill="#66ea66" fill-opacity="0.86"/><circle cx="173.1" cy="263.2" r="1.3" fill="#66ea66" fill-opacity="0.66"/><circle cx="60.1" cy="295.6" r="1.5" fill="#52e052" fill-opacity="0.75"/><circle cx="71.7" cy="281.5" r="1.2" fill="#52e052" fill-opacity="0.83"/><circle cx="128.8" cy="256.5" r="1.2" fill="#3cc83c" fill-opacity="0.78"/><circle cx="111.7" cy="272.4" r="1" fill="#3cc83c" fill-opacity="0.87"/><circle cx="88.1" cy="268.1" r="0.9" fill="#3fd13f" fill-opacity="0.81"/><circle cx="45.3" cy="281.5" r="0.9" fill="#3cc83c" fill-opacity="0.92"/><circle cx="80.7" cy="278.2" r="1.6" fill="#3cc83c" fill-opacity="0.79"/><circle cx="103.5" cy="279.4" r="1.2" fill="#2fb82f" fill-opacity="0.88"/><circle cx="51.3" cy="272.7" r="1.2" fill="#2fb82f" fill-opacity="0.84"/><circle cx="97.5" cy="266.4" r="1.6" fill="#52e052" fill-opacity="0.84"/><circle cx="71.4" cy="284.1" r="1.5" fill="#3fd13f" fill-opacity="0.82"/><circle cx="179.3" cy="273.8" r="1.5" fill="#3cc83c" fill-opacity="0.79"/><circle cx="146.2" cy="268.9" r="1.1" fill="#52e052" fill-opacity="0.86"/><circle cx="51.5" cy="278.8" r="1.6" fill="#3cc83c" fill-opacity="0.51"/><circle cx="110.6" cy="270.1" r="1.5" fill="#3cc83c" fill-opacity="0.84"/><circle cx="90.8" cy="275.1" r="1.3" fill="#52e052" fill-opacity="0.56"/><circle cx="180.5" cy="272.6" r="0.7" fill="#52e052" fill-opacity="0.55"/><circle cx="40.7" cy="286.8" r="0.8" fill="#52e052" fill-opacity="0.44"/><circle cx="148.2" cy="279.8" r="1.4" fill="#3cc83c" fill-opacity="0.44"/><circle cx="135" cy="270.4" r="1.3" fill="#3fd13f" fill-opacity="0.59"/><circle cx="118.1" cy="272" r="0.8" fill="#2fb82f" fill-opacity="0.77"/><circle cx="140.4" cy="259.4" r="1.5" fill="#52e052" fill-opacity="0.55"/><circle cx="163.6" cy="259.9" r="1.6" fill="#3cc83c" fill-opacity="0.80"/><circle cx="112.2" cy="281.5" r="1.1" fill="#2fb82f" fill-opacity="0.45"/><circle cx="58.3" cy="277.1" r="0.9" fill="#3cc83c" fill-opacity="0.74"/><circle cx="196.8" cy="275.4" r="0.7" fill="#66ea66" fill-opacity="0.99"/><circle cx="181.4" cy="261.5" r="1.4" fill="#2fb82f" fill-opacity="0.73"/><circle cx="117.5" cy="279.2" r="1.2" fill="#3cc83c" fill-opacity="0.59"/><circle cx="44.1" cy="282.1" r="1.3" fill="#52e052" fill-opacity="0.77"/><circle cx="165.9" cy="257.9" r="0.9" fill="#3cc83c" fill-opacity="0.67"/><circle cx="113.9" cy="264.9" r="1" fill="#52e052" fill-opacity="0.46"/><circle cx="51.8" cy="287.1" r="0.7" fill="#2fb82f" fill-opacity="0.83"/><circle cx="46.6" cy="277.5" r="0.8" fill="#52e052" fill-opacity="0.83"/><circle cx="120.6" cy="262.7" r="1.1" fill="#52e052" fill-opacity="0.59"/><circle cx="157" cy="254.7" r="0.9" fill="#2fb82f" fill-opacity="0.41"/><circle cx="45.4" cy="274.9" r="0.7" fill="#3fd13f" fill-opacity="0.68"/><circle cx="62.6" cy="287.7" r="0.9" fill="#52e052" fill-opacity="0.61"/><circle cx="137.6" cy="254.9" r="1.1" fill="#52e052" fill-opacity="0.72"/><circle cx="130.3" cy="276.2" r="1.2" fill="#52e052" fill-opacity="0.65"/><circle cx="183" cy="263.9" r="1.6" fill="#66ea66" fill-opacity="0.71"/><circle cx="157.1" cy="265.7" r="0.9" fill="#66ea66" fill-opacity="0.54"/><circle cx="182.4" cy="275.4" r="0.8" fill="#3cc83c" fill-opacity="0.52"/><circle cx="153.2" cy="278.1" r="0.9" fill="#52e052" fill-opacity="0.69"/><circle cx="60.4" cy="283.1" r="1.6" fill="#52e052" fill-opacity="0.68"/><circle cx="181.2" cy="271.4" r="1.2" fill="#3fd13f" fill-opacity="0.70"/><circle cx="40.4" cy="273.4" r="0.7" fill="#2fb82f" fill-opacity="0.47"/><circle cx="54.6" cy="271.5" r="1.2" fill="#3fd13f" fill-opacity="0.74"/><circle cx="91.3" cy="289.3" r="1.1" fill="#3cc83c" fill-opacity="0.72"/><circle cx="55.3" cy="295.9" r="1.4" fill="#3fd13f" fill-opacity="0.54"/><circle cx="105.4" cy="278.8" r="1.2" fill="#66ea66" fill-opacity="0.95"/><circle cx="166.5" cy="268.9" r="1.5" fill="#66ea66" fill-opacity="0.81"/><circle cx="62.2" cy="277.6" r="1" fill="#2fb82f" fill-opacity="0.99"/><circle cx="131.9" cy="275.7" r="0.8" fill="#66ea66" fill-opacity="0.53"/><circle cx="40.1" cy="278.2" r="0.9" fill="#2fb82f" fill-opacity="0.64"/><circle cx="56.1" cy="293" r="1.4" fill="#2fb82f" fill-opacity="0.50"/><circle cx="77.7" cy="293.7" r="0.9" fill="#3fd13f" fill-opacity="0.85"/><circle cx="171.9" cy="282.5" r="1.5" fill="#52e052" fill-opacity="0.85"/><circle cx="74.7" cy="292.4" r="0.9" fill="#52e052" fill-opacity="0.65"/><circle cx="187.8" cy="273.1" r="0.7" fill="#3cc83c" fill-opacity="0.86"/><circle cx="196.4" cy="286.8" r="1.4" fill="#3fd13f" fill-opacity="0.76"/><circle cx="128" cy="265.7" r="1.1" fill="#3fd13f" fill-opacity="0.84"/><circle cx="149.2" cy="256.4" r="0.9" fill="#3cc83c" fill-opacity="0.63"/><circle cx="95.1" cy="266.4" r="0.9" fill="#3fd13f" fill-opacity="0.81"/><circle cx="82.2" cy="294.8" r="1.6" fill="#2fb82f" fill-opacity="0.99"/><circle cx="38.8" cy="287.5" r="1.1" fill="#52e052" fill-opacity="0.79"/><circle cx="156.9" cy="264.6" r="1.5" fill="#3fd13f" fill-opacity="0.53"/><circle cx="81.8" cy="279.5" r="1.1" fill="#2fb82f" fill-opacity="0.92"/><circle cx="160.1" cy="282.1" r="1.5" fill="#3fd13f" fill-opacity="0.67"/><circle cx="85.3" cy="294.4" r="0.7" fill="#3cc83c" fill-opacity="0.61"/><circle cx="165.6" cy="282.8" r="1.3" fill="#66ea66" fill-opacity="0.70"/><circle cx="135.3" cy="270.5" r="1.2" fill="#3fd13f" fill-opacity="0.85"/><circle cx="191.6" cy="288.7" r="1.3" fill="#2fb82f" fill-opacity="0.49"/><circle cx="151.1" cy="272.7" r="0.8" fill="#52e052" fill-opacity="0.45"/><circle cx="180.9" cy="284.9" r="0.7" fill="#3fd13f" fill-opacity="0.92"/><circle cx="148.9" cy="264.5" r="1.5" fill="#66ea66" fill-opacity="0.45"/><circle cx="146.5" cy="260.9" r="1.2" fill="#3fd13f" fill-opacity="0.97"/><circle cx="67.8" cy="289.7" r="0.7" fill="#3fd13f" fill-opacity="0.84"/><circle cx="184.1" cy="267.6" r="0.8" fill="#3cc83c" fill-opacity="0.59"/><circle cx="176.2" cy="288.8" r="1.4" fill="#66ea66" fill-opacity="0.92"/><circle cx="91.7" cy="282.9" r="1.2" fill="#3cc83c" fill-opacity="0.76"/><circle cx="125" cy="276.2" r="0.8" fill="#3fd13f" fill-opacity="0.63"/><circle cx="45.6" cy="293.4" r="0.9" fill="#3cc83c" fill-opacity="0.65"/><circle cx="180" cy="259.4" r="1" fill="#3cc83c" fill-opacity="0.58"/><circle cx="187.1" cy="266.6" r="0.8" fill="#3cc83c" fill-opacity="0.52"/><circle cx="51" cy="286.5" r="1.3" fill="#2fb82f" fill-opacity="0.65"/><circle cx="154.9" cy="262.4" r="1.3" fill="#3fd13f" fill-opacity="0.95"/><circle cx="107" cy="264.8" r="0.7" fill="#52e052" fill-opacity="0.77"/><circle cx="65.9" cy="295.7" r="1" fill="#2fb82f" fill-opacity="0.89"/><circle cx="179.5" cy="286.9" r="1.1" fill="#66ea66" fill-opacity="0.55"/><circle cx="125.3" cy="276.8" r="1.3" fill="#3cc83c" fill-opacity="0.95"/><circle cx="42.7" cy="273.3" r="1.5" fill="#3cc83c" fill-opacity="0.58"/><circle cx="67.3" cy="270.4" r="0.9" fill="#3fd13f" fill-opacity="1.00"/><circle cx="142.7" cy="275.4" r="1.2" fill="#3fd13f" fill-opacity="0.69"/><circle cx="75.9" cy="287.4" r="1.2" fill="#52e052" fill-opacity="0.51"/><circle cx="124.2" cy="266.1" r="1.4" fill="#66ea66" fill-opacity="0.40"/><circle cx="51.4" cy="271" r="1.4" fill="#3cc83c" fill-opacity="0.53"/><circle cx="114.9" cy="279.7" r="1.1" fill="#52e052" fill-opacity="0.51"/><circle cx="69.1" cy="286.5" r="1.3" fill="#66ea66" fill-opacity="0.79"/><circle cx="108.6" cy="289" r="1.2" fill="#2fb82f" fill-opacity="0.73"/><circle cx="114.8" cy="280.7" r="0.9" fill="#66ea66" fill-opacity="0.79"/><circle cx="94.7" cy="290.2" r="0.7" fill="#3cc83c" fill-opacity="0.90"/><circle cx="124.7" cy="263.7" r="1.4" fill="#2fb82f" fill-opacity="0.58"/><circle cx="92.4" cy="282.5" r="1.5" fill="#3cc83c" fill-opacity="0.59"/><circle cx="92.9" cy="281" r="1.2" fill="#3fd13f" fill-opacity="0.91"/><circle cx="93.1" cy="288.6" r="1.4" fill="#3cc83c" fill-opacity="0.99"/><circle cx="38.1" cy="277.1" r="1.3" fill="#66ea66" fill-opacity="0.47"/><circle cx="45" cy="271.9" r="1.2" fill="#66ea66" fill-opacity="0.70"/><circle cx="183.1" cy="263.2" r="1.1" fill="#66ea66" fill-opacity="0.86"/></g>
<filter id="b0_3" x="-30%" y="-30%" width="160%" height="160%"><feGaussianBlur stdDeviation="0.3"/></filter>
<g filter="url(#b0_3)"><circle cx="60.2" cy="242.7" r="0.7" fill="#66ea66" fill-opacity="0.26"/><circle cx="129.9" cy="245.6" r="0.6" fill="#3fd13f" fill-opacity="0.29"/><circle cx="82.7" cy="240.5" r="0.9" fill="#66ea66" fill-opacity="0.38"/><circle cx="109.9" cy="247" r="0.7" fill="#2fb82f" fill-opacity="0.25"/><circle cx="179.9" cy="240.5" r="0.8" fill="#52e052" fill-opacity="0.41"/><circle cx="126.5" cy="227.7" r="0.7" fill="#2fb82f" fill-opacity="0.23"/><circle cx="196.6" cy="258.8" r="0.5" fill="#66ea66" fill-opacity="0.31"/><circle cx="73.7" cy="233.6" r="0.6" fill="#3fd13f" fill-opacity="0.44"/><circle cx="51.9" cy="231.7" r="0.9" fill="#52e052" fill-opacity="0.40"/><circle cx="90.6" cy="236.7" r="0.6" fill="#2fb82f" fill-opacity="0.28"/><circle cx="161.5" cy="243.2" r="0.6" fill="#52e052" fill-opacity="0.17"/><circle cx="122.3" cy="236.1" r="0.6" fill="#3cc83c" fill-opacity="0.27"/><circle cx="185.3" cy="257" r="1" fill="#66ea66" fill-opacity="0.27"/><circle cx="196.8" cy="228.6" r="0.8" fill="#3cc83c" fill-opacity="0.27"/><circle cx="185" cy="229.3" r="0.8" fill="#66ea66" fill-opacity="0.30"/><circle cx="60.6" cy="248.8" r="0.9" fill="#3cc83c" fill-opacity="0.32"/><circle cx="152.8" cy="235.6" r="0.6" fill="#66ea66" fill-opacity="0.25"/><circle cx="184.4" cy="259.3" r="0.8" fill="#66ea66" fill-opacity="0.18"/><circle cx="58" cy="264.7" r="0.8" fill="#66ea66" fill-opacity="0.23"/><circle cx="134.3" cy="251.4" r="0.9" fill="#3cc83c" fill-opacity="0.27"/><circle cx="42.9" cy="227.4" r="0.9" fill="#52e052" fill-opacity="0.40"/><circle cx="155.6" cy="235.7" r="0.6" fill="#52e052" fill-opacity="0.19"/><circle cx="127.8" cy="239" r="1" fill="#52e052" fill-opacity="0.39"/><circle cx="54.7" cy="260.4" r="0.8" fill="#66ea66" fill-opacity="0.19"/><circle cx="52.6" cy="230.3" r="0.6" fill="#3fd13f" fill-opacity="0.40"/><circle cx="119.8" cy="255.1" r="1" fill="#3fd13f" fill-opacity="0.20"/><circle cx="114.9" cy="239.5" r="0.9" fill="#2fb82f" fill-opacity="0.44"/><circle cx="122.1" cy="253.6" r="0.7" fill="#2fb82f" fill-opacity="0.15"/><circle cx="193.9" cy="251.3" r="0.9" fill="#2fb82f" fill-opacity="0.19"/><circle cx="82.4" cy="251.7" r="0.9" fill="#66ea66" fill-opacity="0.22"/><circle cx="46.2" cy="230.3" r="0.9" fill="#52e052" fill-opacity="0.19"/><circle cx="81.8" cy="239.4" r="0.8" fill="#3fd13f" fill-opacity="0.40"/><circle cx="167.2" cy="238.6" r="0.6" fill="#3cc83c" fill-opacity="0.39"/><circle cx="77.2" cy="226.6" r="0.7" fill="#66ea66" fill-opacity="0.24"/><circle cx="57.3" cy="263.1" r="0.6" fill="#66ea66" fill-opacity="0.24"/><circle cx="132.8" cy="227.8" r="0.7" fill="#3cc83c" fill-opacity="0.16"/><circle cx="147.1" cy="232.9" r="0.6" fill="#3fd13f" fill-opacity="0.25"/><circle cx="43.5" cy="250.5" r="0.9" fill="#66ea66" fill-opacity="0.19"/><circle cx="60.8" cy="259.7" r="0.9" fill="#2fb82f" fill-opacity="0.33"/><circle cx="93.1" cy="250.6" r="0.5" fill="#52e052" fill-opacity="0.22"/><circle cx="126.1" cy="237.9" r="0.9" fill="#66ea66" fill-opacity="0.15"/><circle cx="91.2" cy="261.6" r="0.7" fill="#66ea66" fill-opacity="0.28"/><circle cx="137.8" cy="249" r="0.8" fill="#3cc83c" fill-opacity="0.40"/><circle cx="80.3" cy="255.1" r="1" fill="#2fb82f" fill-opacity="0.35"/><circle cx="124.7" cy="222.9" r="0.9" fill="#66ea66" fill-opacity="0.43"/><circle cx="194.9" cy="247.5" r="0.8" fill="#52e052" fill-opacity="0.27"/><circle cx="103.5" cy="224.7" r="0.6" fill="#66ea66" fill-opacity="0.32"/><circle cx="168.9" cy="248.2" r="0.8" fill="#66ea66" fill-opacity="0.39"/><circle cx="165.5" cy="239" r="0.5" fill="#3fd13f" fill-opacity="0.27"/><circle cx="95.8" cy="254.9" r="0.7" fill="#3fd13f" fill-opacity="0.32"/><circle cx="161.5" cy="239.6" r="0.5" fill="#3fd13f" fill-opacity="0.43"/><circle cx="46.8" cy="265.2" r="0.9" fill="#3cc83c" fill-opacity="0.44"/><circle cx="66.8" cy="234" r="0.9" fill="#52e052" fill-opacity="0.36"/><circle cx="136.9" cy="258.4" r="0.8" fill="#52e052" fill-opacity="0.22"/><circle cx="82.9" cy="236.7" r="0.8" fill="#52e052" fill-opacity="0.40"/><circle cx="144.6" cy="262.4" r="0.8" fill="#2fb82f" fill-opacity="0.30"/><circle cx="82.3" cy="253.5" r="0.7" fill="#3cc83c" fill-opacity="0.35"/><circle cx="86.2" cy="256.1" r="0.9" fill="#3cc83c" fill-opacity="0.35"/><circle cx="168.2" cy="238.7" r="0.6" fill="#52e052" fill-opacity="0.20"/><circle cx="53.3" cy="247.5" r="0.9" fill="#2fb82f" fill-opacity="0.37"/><circle cx="40.4" cy="251.6" r="1" fill="#52e052" fill-opacity="0.39"/><circle cx="169.9" cy="240.2" r="1" fill="#66ea66" fill-opacity="0.39"/><circle cx="181.5" cy="248.4" r="0.9" fill="#3cc83c" fill-opacity="0.38"/><circle cx="144.8" cy="245.2" r="0.7" fill="#2fb82f" fill-opacity="0.23"/><circle cx="136.6" cy="237.3" r="0.5" fill="#66ea66" fill-opacity="0.26"/><circle cx="179.9" cy="243.9" r="0.9" fill="#2fb82f" fill-opacity="0.33"/><circle cx="120.9" cy="245.5" r="0.7" fill="#3fd13f" fill-opacity="0.44"/><circle cx="52.8" cy="248.4" r="0.8" fill="#3cc83c" fill-opacity="0.40"/><circle cx="95.5" cy="254.3" r="0.6" fill="#52e052" fill-opacity="0.17"/><circle cx="106.1" cy="252.6" r="0.5" fill="#3fd13f" fill-opacity="0.21"/><circle cx="141.9" cy="253" r="0.7" fill="#2fb82f" fill-opacity="0.17"/><circle cx="171.7" cy="260.4" r="0.5" fill="#3cc83c" fill-opacity="0.35"/><circle cx="47.6" cy="246.4" r="0.7" fill="#2fb82f" fill-opacity="0.44"/><circle cx="184.2" cy="225" r="0.5" fill="#66ea66" fill-opacity="0.21"/><circle cx="44.5" cy="266.2" r="0.6" fill="#3cc83c" fill-opacity="0.39"/><circle cx="147.3" cy="256.1" r="0.6" fill="#2fb82f" fill-opacity="0.26"/><circle cx="94" cy="233.4" r="0.6" fill="#52e052" fill-opacity="0.22"/><circle cx="116.4" cy="233" r="0.7" fill="#66ea66" fill-opacity="0.34"/><circle cx="62.3" cy="233.7" r="1" fill="#66ea66" fill-opacity="0.43"/><circle cx="80.5" cy="240.9" r="0.7" fill="#2fb82f" fill-opacity="0.21"/></g>
<filter id="b2" x="-30%" y="-30%" width="160%" height="160%"><feGaussianBlur stdDeviation="2"/></filter>
<path d="M107.2,295.8 L118.7,284.2 L134.1,278.4 L141.8,269.8 L149.5,271.7 L154.4,283.2 L168.8,290.9 L197.7,297.7 L197.7,323.7 L91.8,323.7 L97.5,306.4 Z" fill="#020602" fill-opacity="1" filter="url(#b2)"/>
</g>
<text x="40.5" y="183.5" font-size="19.9" text-anchor="start" fill="#f0f0f0" class="nb">SON/GCaMP</text>
<rect x="42.5" y="307.3" width="26" height="8.8" fill="#fff"/>
<clipPath id="ca2"><rect x="202.5" y="160" width="163.2" height="163.3"/></clipPath>
<g clip-path="url(#ca2)">
<rect x="202.5" y="160" width="163.2" height="163.3" fill="#0a0000"/>
<filter id="b9" x="-30%" y="-30%" width="160%" height="160%"><feGaussianBlur stdDeviation="9"/></filter>
<path d="M280.9,188.9 L287.7,208.1 L296.3,246.6 L306,277.4 L327.1,289 L365.3,296.7 L365.3,308.2 L298.3,295.7 L259.8,295.7 L221.3,308.2 L202,315.9 L202,302.5 L230.9,294.8 L248.2,279.4 L257.8,246.6 L269.4,208.1 Z" fill="#520303" fill-opacity="0.8" filter="url(#b9)"/>
<path d="M280.9,198.5 L286.3,217.8 L290.9,237 L296.7,256.3 L303.1,271.7 L311.7,283.2 L329.1,292.8 L329.1,295.7 L279,294.8 L234.7,297.7 L234.7,295.7 L245.3,289 L254,275.5 L260.1,256.3 L267.5,237 L275.2,217.8 Z" fill="#a80808" fill-opacity="0.75" filter="url(#b7)"/>
<g filter="url(#b0_3)"><circle cx="285.4" cy="225.7" r="0.8" fill="#ff2a1a" fill-opacity="0.51"/><circle cx="280.8" cy="253.7" r="0.9" fill="#e00000" fill-opacity="0.89"/><circle cx="290.6" cy="265.7" r="1.5" fill="#ff1000" fill-opacity="0.74"/><circle cx="283.8" cy="229.8" r="0.7" fill="#f00a0a" fill-opacity="0.35"/><circle cx="285.9" cy="266" r="0.9" fill="#e00000" fill-opacity="0.65"/><circle cx="282.5" cy="241.5" r="0.8" fill="#ff1a10" fill-opacity="0.72"/><circle cx="254.7" cy="278.3" r="1" fill="#e00000" fill-opacity="0.62"/><circle cx="256.7" cy="274.3" r="1" fill="#c80000" fill-opacity="0.66"/><circle cx="275.1" cy="231.2" r="1" fill="#ff2a1a" fill-opacity="0.43"/><circle cx="282.5" cy="245" r="0.9" fill="#e00000" fill-opacity="0.55"/><circle cx="284.5" cy="291.9" r="1.1" fill="#e00000" fill-opacity="0.76"/><circle cx="292.2" cy="273.8" r="1.4" fill="#c80000" fill-opacity="0.41"/><circle cx="288.7" cy="267.3" r="1.5" fill="#ff2a1a" fill-opacity="0.73"/><circle cx="280.8" cy="205.1" r="1.4" fill="#f00a0a" fill-opacity="0.61"/><circle cx="269.5" cy="278.5" r="1" fill="#c80000" fill-opacity="0.90"/><circle cx="286.3" cy="281.4" r="0.9" fill="#ff1000" fill-opacity="0.66"/><circle cx="278" cy="216.7" r="0.8" fill="#ff1000" fill-opacity="0.67"/><circle cx="270.4" cy="274.3" r="1.3" fill="#ff1000" fill-opacity="0.36"/><circle cx="278.6" cy="232.5" r="0.8" fill="#ff2a1a" fill-opacity="0.42"/><circle cx="260.8" cy="276.9" r="0.9" fill="#e00000" fill-opacity="0.52"/><circle cx="293.4" cy="256.8" r="1.4" fill="#c80000" fill-opacity="0.68"/><circle cx="291" cy="260.9" r="1.2" fill="#ff1a10" fill-opacity="0.76"/><circle cx="257.7" cy="275.4" r="1.3" fill="#ff1a10" fill-opacity="0.46"/><circle cx="271" cy="289" r="0.8" fill="#ff1000" fill-opacity="0.40"/><circle cx="256.2" cy="294.7" r="1.3" fill="#ff1000" fill-opacity="0.74"/><circle cx="284.7" cy="253.6" r="1" fill="#e00000" fill-opacity="0.40"/><circle cx="260.3" cy="284.3" r="0.8" fill="#f00a0a" fill-opacity="0.37"/><circle cx="268.1" cy="237" r="1.4" fill="#ff1000" fill-opacity="0.50"/><circle cx="257.1" cy="287.4" r="0.7" fill="#c80000" fill-opacity="0.72"/><circle cx="277.4" cy="229.9" r="1.4" fill="#e00000" fill-opacity="0.49"/><circle cx="306" cy="288.8" r="0.9" fill="#ff1000" fill-opacity="0.92"/><circle cx="275.8" cy="244.4" r="1.4" fill="#f00a0a" fill-opacity="0.46"/><circle cx="313.6" cy="288.7" r="1" fill="#c80000" fill-opacity="0.94"/><circle cx="294.7" cy="289.1" r="1.5" fill="#c80000" fill-opacity="0.68"/><circle cx="278.5" cy="221.8" r="1.2" fill="#c80000" fill-opacity="0.72"/><circle cx="259" cy="276.9" r="1.3" fill="#f00a0a" fill-opacity="0.52"/><circle cx="272" cy="247.5" r="1.4" fill="#ff2a1a" fill-opacity="0.95"/><circle cx="240.1" cy="295.5" r="0.7" fill="#e00000" fill-opacity="0.55"/><circle cx="301.8" cy="285.3" r="0.8" fill="#e00000" fill-opacity="0.87"/><circle cx="298.4" cy="290.2" r="0.8" fill="#c80000" fill-opacity="0.56"/><circle cx="288.4" cy="226.9" r="1.4" fill="#ff1000" fill-opacity="0.68"/><circle cx="287.1" cy="238.4" r="1.5" fill="#ff2a1a" fill-opacity="0.92"/><circle cx="269.9" cy="243.3" r="0.9" fill="#f00a0a" fill-opacity="0.42"/><circle cx="267.5" cy="263.2" r="1.1" fill="#c80000" fill-opacity="0.88"/><circle cx="272" cy="249.4" r="1.4" fill="#ff1000" fill-opacity="0.57"/><circle cx="278.9" cy="214.4" r="0.9" fill="#f00a0a" fill-opacity="0.53"/><circle cx="262.1" cy="287.9" r="1" fill="#e00000" fill-opacity="0.61"/><circle cx="252.7" cy="277.6" r="1.1" fill="#ff1a10" fill-opacity="0.50"/><circle cx="272.7" cy="288.2" r="0.8" fill="#ff2a1a" fill-opacity="0.78"/><circle cx="294.1" cy="257.4" r="1.1" fill="#f00a0a" fill-opacity="0.88"/><circle cx="282.5" cy="258.7" r="0.7" fill="#e00000" fill-opacity="0.92"/><circle cx="278.3" cy="268" r="0.7" fill="#f00a0a" fill-opacity="0.62"/><circle cx="243.9" cy="292.4" r="1.2" fill="#ff1a10" fill-opacity="0.82"/><circle cx="288.6" cy="288.7" r="1" fill="#e00000" fill-opacity="0.87"/><circle cx="296.3" cy="278.7" r="1" fill="#ff2a1a" fill-opacity="0.90"/><circle cx="269.6" cy="257.6" r="0.8" fill="#ff1a10" fill-opacity="0.73"/><circle cx="289.3" cy="245.6" r="1.1" fill="#ff1000" fill-opacity="0.49"/><circle cx="308.8" cy="295.3" r="1.3" fill="#c80000" fill-opacity="0.50"/><circle cx="315.6" cy="285.6" r="0.6" fill="#c80000" fill-opacity="0.54"/><circle cx="282.9" cy="224.5" r="1" fill="#c80000" fill-opacity="0.61"/><circle cx="272.3" cy="295.2" r="1.2" fill="#f00a0a" fill-opacity="0.78"/><circle cx="280" cy="258.7" r="1.1" fill="#e00000" fill-opacity="0.60"/><circle cx="268.6" cy="234.8" r="1.2" fill="#ff1000" fill-opacity="0.76"/><circle cx="288.6" cy="229.9" r="1.2" fill="#e00000" fill-opacity="0.50"/><circle cx="290.9" cy="271.4" r="0.8" fill="#ff1a10" fill-opacity="0.70"/><circle cx="284.2" cy="233.6" r="0.8" fill="#ff2a1a" fill-opacity="0.53"/><circle cx="276.7" cy="264.5" r="0.8" fill="#ff1a10" fill-opacity="0.42"/><circle cx="282.7" cy="258.6" r="0.9" fill="#f00a0a" fill-opacity="0.55"/><circle cx="253.9" cy="290.9" r="1.3" fill="#ff1a10" fill-opacity="0.37"/><circle cx="261.2" cy="277.1" r="0.9" fill="#ff1a10" fill-opacity="0.87"/><circle cx="311" cy="282.8" r="1.1" fill="#ff2a1a" fill-opacity="0.56"/><circle cx="300.3" cy="270.5" r="1.3" fill="#f00a0a" fill-opacity="0.67"/><circle cx="266.6" cy="277.5" r="1" fill="#e00000" fill-opacity="0.37"/><circle cx="272.5" cy="270.8" r="1.2" fill="#c80000" fill-opacity="0.68"/><circle cx="266.9" cy="293.9" r="0.8" fill="#e00000" fill-opacity="0.79"/><circle cx="279.5" cy="265.9" r="1" fill="#e00000" fill-opacity="0.73"/><circle cx="316.3" cy="287" r="0.7" fill="#ff1a10" fill-opacity="0.63"/><circle cx="278.9" cy="237.9" r="1.4" fill="#c80000" fill-opacity="0.53"/><circle cx="292.3" cy="277.3" r="1.3" fill="#f00a0a" fill-opacity="0.84"/><circle cx="285.7" cy="269.6" r="1.5" fill="#e00000" fill-opacity="0.54"/><circle cx="270.8" cy="256.8" r="1" fill="#ff1000" fill-opacity="0.56"/><circle cx="254.6" cy="288.7" r="1" fill="#ff1a10" fill-opacity="0.53"/><circle cx="271.2" cy="234.6" r="1.3" fill="#e00000" fill-opacity="0.39"/><circle cx="294.7" cy="286.8" r="1" fill="#c80000" fill-opacity="0.36"/><circle cx="273.7" cy="278.4" r="0.8" fill="#f00a0a" fill-opacity="0.89"/><circle cx="257.1" cy="291.9" r="0.9" fill="#e00000" fill-opacity="0.45"/><circle cx="263.9" cy="281.8" r="1.5" fill="#c80000" fill-opacity="0.90"/><circle cx="276" cy="248.2" r="0.7" fill="#ff1000" fill-opacity="0.42"/><circle cx="251.9" cy="295.2" r="1.1" fill="#c80000" fill-opacity="0.42"/><circle cx="284.1" cy="222.8" r="1.2" fill="#f00a0a" fill-opacity="0.90"/><circle cx="286.5" cy="222.4" r="1.2" fill="#ff1a10" fill-opacity="0.40"/><circle cx="291.8" cy="251.7" r="1.2" fill="#ff1a10" fill-opacity="0.50"/><circle cx="299.2" cy="269" r="1.3" fill="#f00a0a" fill-opacity="0.80"/><circle cx="274" cy="223.8" r="0.9" fill="#ff1000" fill-opacity="0.78"/><circle cx="281.6" cy="268.6" r="0.7" fill="#ff1000" fill-opacity="0.50"/><circle cx="284.9" cy="228.7" r="1" fill="#c80000" fill-opacity="0.86"/><circle cx="284.4" cy="219.7" r="1" fill="#ff1000" fill-opacity="0.91"/><circle cx="267.9" cy="275.4" r="0.8" fill="#f00a0a" fill-opacity="0.47"/><circle cx="284.8" cy="274.2" r="1.1" fill="#c80000" fill-opacity="0.36"/><circle cx="260.6" cy="273.7" r="1.3" fill="#ff1000" fill-opacity="0.50"/><circle cx="315.2" cy="293.2" r="0.8" fill="#ff1000" fill-opacity="0.49"/><circle cx="277.2" cy="229.2" r="0.9" fill="#ff1a10" fill-opacity="0.44"/><circle cx="301.5" cy="276.3" r="0.7" fill="#e00000" fill-opacity="0.69"/><circle cx="263.4" cy="272.6" r="1.4" fill="#ff1a10" fill-opacity="0.95"/><circle cx="289.6" cy="261.4" r="1.2" fill="#e00000" fill-opacity="0.60"/><circle cx="296.2" cy="280.8" r="1.3" fill="#c80000" fill-opacity="0.63"/><circle cx="279.2" cy="241.9" r="0.8" fill="#f00a0a" fill-opacity="0.64"/><circle cx="280.2" cy="254.3" r="1" fill="#ff2a1a" fill-opacity="0.55"/><circle cx="263" cy="261" r="1.3" fill="#ff1000" fill-opacity="0.65"/><circle cx="275.4" cy="266.1" r="0.7" fill="#c80000" fill-opacity="0.69"/><circle cx="292.7" cy="280.2" r="1.2" fill="#e00000" fill-opacity="0.65"/><circle cx="269.8" cy="272.2" r="1.4" fill="#f00a0a" fill-opacity="0.49"/><circle cx="302.2" cy="276.7" r="0.7" fill="#e00000" fill-opacity="0.74"/><circle cx="257.2" cy="277.4" r="1" fill="#ff1a10" fill-opacity="0.85"/><circle cx="298.4" cy="270.7" r="1.5" fill="#f00a0a" fill-opacity="0.51"/><circle cx="279.2" cy="247.7" r="0.7" fill="#e00000" fill-opacity="0.67"/><circle cx="257.2" cy="292.9" r="0.9" fill="#ff1a10" fill-opacity="0.63"/><circle cx="285.5" cy="290.8" r="1.4" fill="#ff1a10" fill-opacity="0.81"/><circle cx="323.1" cy="292" r="0.8" fill="#ff1a10" fill-opacity="0.81"/><circle cx="256.7" cy="288.3" r="1.1" fill="#ff2a1a" fill-opacity="0.91"/><circle cx="279" cy="291.7" r="0.9" fill="#f00a0a" fill-opacity="0.94"/><circle cx="289.6" cy="257.8" r="1.3" fill="#f00a0a" fill-opacity="0.74"/><circle cx="260.9" cy="293.3" r="1" fill="#f00a0a" fill-opacity="0.77"/><circle cx="304.9" cy="283.6" r="1" fill="#ff2a1a" fill-opacity="0.78"/><circle cx="269.2" cy="286.8" r="1.2" fill="#f00a0a" fill-opacity="0.55"/><circle cx="265.6" cy="286.3" r="0.9" fill="#ff1a10" fill-opacity="0.40"/><circle cx="261.9" cy="282.7" r="1.4" fill="#f00a0a" fill-opacity="0.84"/><circle cx="278.3" cy="211.6" r="0.8" fill="#ff1a10" fill-opacity="0.81"/><circle cx="282.6" cy="247.2" r="1.2" fill="#f00a0a" fill-opacity="0.63"/><circle cx="275.3" cy="225.7" r="1" fill="#ff1a10" fill-opacity="0.92"/><circle cx="273.1" cy="275.8" r="1.1" fill="#ff2a1a" fill-opacity="0.76"/><circle cx="267.8" cy="245.1" r="0.6" fill="#e00000" fill-opacity="0.92"/><circle cx="266.3" cy="269.7" r="1.4" fill="#ff1a10" fill-opacity="0.73"/><circle cx="285.2" cy="230.6" r="0.9" fill="#c80000" fill-opacity="0.77"/><circle cx="268.7" cy="246.1" r="0.8" fill="#ff2a1a" fill-opacity="0.85"/><circle cx="271.6" cy="279.4" r="1.5" fill="#ff1000" fill-opacity="0.78"/><circle cx="268.6" cy="250.3" r="1.1" fill="#ff2a1a" fill-opacity="0.43"/><circle cx="261" cy="295.8" r="1" fill="#f00a0a" fill-opacity="0.50"/><circle cx="283.7" cy="229.3" r="0.8" fill="#ff1a10" fill-opacity="0.70"/><circle cx="278.5" cy="258.6" r="1.2" fill="#e00000" fill-opacity="0.42"/><circle cx="297" cy="269.3" r="0.7" fill="#f00a0a" fill-opacity="0.90"/><circle cx="263.4" cy="259.8" r="0.9" fill="#ff2a1a" fill-opacity="0.36"/><circle cx="296.3" cy="284.6" r="1.3" fill="#e00000" fill-opacity="0.77"/><circle cx="290.6" cy="284.5" r="0.6" fill="#ff1000" fill-opacity="0.70"/><circle cx="266.5" cy="246.9" r="0.8" fill="#c80000" fill-opacity="0.58"/><circle cx="277" cy="257.8" r="1.5" fill="#ff1a10" fill-opacity="0.76"/><circle cx="265.4" cy="276.1" r="0.7" fill="#f00a0a" fill-opacity="0.95"/><circle cx="286.4" cy="233.8" r="0.7" fill="#f00a0a" fill-opacity="0.63"/><circle cx="260.7" cy="259.8" r="0.7" fill="#ff1a10" fill-opacity="0.49"/><circle cx="278.9" cy="259" r="1.3" fill="#f00a0a" fill-opacity="0.88"/><circle cx="277.3" cy="261.5" r="1.3" fill="#ff2a1a" fill-opacity="0.41"/><circle cx="278.4" cy="233.2" r="0.8" fill="#e00000" fill-opacity="0.81"/><circle cx="300.9" cy="267.2" r="0.9" fill="#e00000" fill-opacity="0.84"/><circle cx="281.4" cy="270.6" r="1.5" fill="#f00a0a" fill-opacity="0.48"/><circle cx="297.5" cy="291.1" r="0.7" fill="#ff1a10" fill-opacity="0.68"/><circle cx="273.6" cy="261.5" r="1" fill="#ff1a10" fill-opacity="0.68"/><circle cx="288.3" cy="260.3" r="1" fill="#e00000" fill-opacity="0.60"/><circle cx="304.5" cy="275.7" r="1.4" fill="#f00a0a" fill-opacity="0.78"/><circle cx="279.1" cy="249.8" r="1.2" fill="#f00a0a" fill-opacity="0.42"/><circle cx="276.6" cy="245.5" r="1.3" fill="#e00000" fill-opacity="0.45"/><circle cx="296.4" cy="284.6" r="1" fill="#e00000" fill-opacity="0.56"/><circle cx="256.7" cy="293.1" r="1.3" fill="#ff1a10" fill-opacity="0.41"/><circle cx="244.2" cy="293.5" r="1" fill="#e00000" fill-opacity="0.64"/><circle cx="273.8" cy="224" r="1" fill="#e00000" fill-opacity="0.45"/><circle cx="267.3" cy="258.2" r="0.7" fill="#ff2a1a" fill-opacity="0.82"/><circle cx="272.2" cy="281.2" r="0.7" fill="#e00000" fill-opacity="0.52"/><circle cx="275.3" cy="267.8" r="1.1" fill="#e00000" fill-opacity="0.73"/><circle cx="317.3" cy="286.9" r="1.5" fill="#f00a0a" fill-opacity="0.59"/><circle cx="281.6" cy="270.9" r="1.4" fill="#c80000" fill-opacity="0.65"/><circle cx="253.9" cy="276.9" r="1" fill="#c80000" fill-opacity="0.47"/><circle cx="272.3" cy="247.6" r="1.2" fill="#f00a0a" fill-opacity="0.67"/><circle cx="269.9" cy="273.7" r="0.9" fill="#e00000" fill-opacity="0.85"/><circle cx="281.6" cy="224" r="0.8" fill="#ff1000" fill-opacity="0.87"/><circle cx="297.7" cy="289.1" r="0.7" fill="#e00000" fill-opacity="0.63"/><circle cx="253.1" cy="280.7" r="0.8" fill="#e00000" fill-opacity="0.79"/><circle cx="325.2" cy="294.8" r="1.3" fill="#ff2a1a" fill-opacity="0.73"/><circle cx="304.5" cy="274.8" r="1.2" fill="#ff2a1a" fill-opacity="0.76"/><circle cx="273.2" cy="280.9" r="0.9" fill="#f00a0a" fill-opacity="0.41"/><circle cx="279.2" cy="285.9" r="1.2" fill="#ff2a1a" fill-opacity="0.93"/><circle cx="263.2" cy="285.8" r="1.4" fill="#ff1000" fill-opacity="0.90"/><circle cx="280.2" cy="282.8" r="0.9" fill="#ff1000" fill-opacity="0.76"/><circle cx="247.9" cy="286" r="1.5" fill="#ff1000" fill-opacity="0.84"/><circle cx="270.1" cy="283.6" r="1.5" fill="#f00a0a" fill-opacity="0.42"/><circle cx="268" cy="277.6" r="1.1" fill="#e00000" fill-opacity="0.68"/><circle cx="275.1" cy="259.7" r="1" fill="#c80000" fill-opacity="0.64"/><circle cx="288.2" cy="263.7" r="1.4" fill="#ff2a1a" fill-opacity="0.62"/><circle cx="292.7" cy="283.2" r="1.4" fill="#ff1000" fill-opacity="0.67"/><circle cx="286.1" cy="267.9" r="0.6" fill="#e00000" fill-opacity="0.88"/><circle cx="269.2" cy="283.2" r="0.9" fill="#ff2a1a" fill-opacity="0.75"/><circle cx="317.5" cy="291.3" r="1.1" fill="#ff1000" fill-opacity="0.48"/><circle cx="277.1" cy="256.8" r="0.8" fill="#f00a0a" fill-opacity="0.67"/><circle cx="312.8" cy="291.9" r="0.8" fill="#c80000" fill-opacity="0.78"/><circle cx="288.7" cy="277.2" r="1.5" fill="#f00a0a" fill-opacity="0.50"/><circle cx="305" cy="283.5" r="1.2" fill="#f00a0a" fill-opacity="0.76"/><circle cx="284.1" cy="269" r="0.9" fill="#f00a0a" fill-opacity="0.69"/><circle cx="296.2" cy="289.7" r="0.6" fill="#ff1a10" fill-opacity="0.67"/><circle cx="277.2" cy="236" r="1.3" fill="#ff1a10" fill-opacity="0.71"/><circle cx="278.6" cy="286" r="1" fill="#ff2a1a" fill-opacity="0.36"/><circle cx="262.8" cy="270.4" r="0.6" fill="#f00a0a" fill-opacity="0.73"/><circle cx="280.1" cy="207" r="1.3" fill="#ff1000" fill-opacity="0.85"/><circle cx="269.8" cy="272.8" r="0.7" fill="#ff1a10" fill-opacity="0.56"/><circle cx="281.8" cy="271" r="1.2" fill="#c80000" fill-opacity="0.59"/><circle cx="253.4" cy="283.6" r="0.7" fill="#f00a0a" fill-opacity="0.40"/><circle cx="253" cy="282.8" r="1" fill="#ff1a10" fill-opacity="0.94"/><circle cx="266.2" cy="279.1" r="0.8" fill="#ff1000" fill-opacity="0.39"/><circle cx="273" cy="289.7" r="0.9" fill="#c80000" fill-opacity="0.42"/><circle cx="265.2" cy="265.3" r="1.4" fill="#ff2a1a" fill-opacity="0.38"/><circle cx="278.4" cy="227.5" r="0.9" fill="#e00000" fill-opacity="0.58"/><circle cx="246.1" cy="293.1" r="1.1" fill="#ff1a10" fill-opacity="0.58"/><circle cx="293.2" cy="291.2" r="1.2" fill="#ff2a1a" fill-opacity="0.83"/><circle cx="258.2" cy="274.9" r="1.2" fill="#f00a0a" fill-opacity="0.64"/><circle cx="306.8" cy="290.1" r="1.1" fill="#ff2a1a" fill-opacity="0.67"/><circle cx="249" cy="290.8" r="1" fill="#c80000" fill-opacity="0.63"/><circle cx="260.3" cy="292" r="1" fill="#ff1a10" fill-opacity="0.42"/><circle cx="279" cy="248.9" r="1.1" fill="#ff1a10" fill-opacity="0.90"/><circle cx="286.6" cy="274.9" r="1.2" fill="#e00000" fill-opacity="0.72"/><circle cx="274.4" cy="278.1" r="1.4" fill="#ff1000" fill-opacity="0.70"/><circle cx="270.6" cy="268.3" r="0.7" fill="#ff1a10" fill-opacity="0.68"/><circle cx="275.5" cy="268.4" r="1.3" fill="#e00000" fill-opacity="0.40"/><circle cx="269.7" cy="290.6" r="1.2" fill="#c80000" fill-opacity="0.43"/><circle cx="268.3" cy="246.1" r="0.8" fill="#c80000" fill-opacity="0.56"/><circle cx="283.7" cy="230.5" r="0.7" fill="#ff1a10" fill-opacity="0.39"/><circle cx="292.4" cy="280.3" r="1" fill="#c80000" fill-opacity="0.52"/><circle cx="276.6" cy="268" r="1.3" fill="#ff2a1a" fill-opacity="0.51"/><circle cx="280.8" cy="268.8" r="1" fill="#ff1000" fill-opacity="0.80"/><circle cx="272.2" cy="268.1" r="0.6" fill="#e00000" fill-opacity="0.68"/><circle cx="276.4" cy="294.8" r="0.7" fill="#c80000" fill-opacity="0.54"/><circle cx="250.8" cy="292.6" r="1" fill="#ff1000" fill-opacity="0.68"/><circle cx="265" cy="289.7" r="1.1" fill="#f00a0a" fill-opacity="0.36"/><circle cx="272.2" cy="290.4" r="1.3" fill="#ff1a10" fill-opacity="0.48"/><circle cx="303" cy="276" r="1.2" fill="#c80000" fill-opacity="0.90"/><circle cx="285.3" cy="253.9" r="0.8" fill="#ff2a1a" fill-opacity="0.56"/><circle cx="287.4" cy="242.4" r="0.7" fill="#c80000" fill-opacity="0.83"/><circle cx="291.6" cy="250" r="0.8" fill="#ff1a10" fill-opacity="0.85"/><circle cx="285.8" cy="225.6" r="1.1" fill="#f00a0a" fill-opacity="0.42"/><circle cx="291.5" cy="287.6" r="1.1" fill="#e00000" fill-opacity="0.57"/><circle cx="283.7" cy="292.6" r="0.6" fill="#ff1a10" fill-opacity="0.53"/><circle cx="248.2" cy="295.2" r="1.4" fill="#e00000" fill-opacity="0.50"/><circle cx="280.2" cy="266.9" r="1" fill="#ff1000" fill-opacity="0.74"/><circle cx="288.7" cy="233.5" r="1.5" fill="#ff2a1a" fill-opacity="0.75"/><circle cx="273.7" cy="233" r="0.7" fill="#ff1a10" fill-opacity="0.74"/><circle cx="276.6" cy="230.7" r="1.2" fill="#ff1000" fill-opacity="0.83"/><circle cx="265.4" cy="244.5" r="1.2" fill="#ff1000" fill-opacity="0.74"/><circle cx="274.5" cy="231.5" r="0.9" fill="#ff1000" fill-opacity="0.58"/><circle cx="293.2" cy="248.4" r="1.4" fill="#ff1a10" fill-opacity="0.53"/><circle cx="273.8" cy="256.5" r="1.5" fill="#ff2a1a" fill-opacity="0.39"/><circle cx="278.1" cy="213.7" r="1" fill="#ff2a1a" fill-opacity="0.39"/><circle cx="305.6" cy="293.1" r="1.2" fill="#ff1a10" fill-opacity="0.81"/><circle cx="273.4" cy="283.5" r="1.1" fill="#e00000" fill-opacity="0.39"/><circle cx="284.6" cy="230.5" r="0.9" fill="#ff1a10" fill-opacity="0.53"/><circle cx="272.1" cy="231.1" r="1.1" fill="#c80000" fill-opacity="0.35"/><circle cx="276.1" cy="256.6" r="1.3" fill="#c80000" fill-opacity="0.54"/><circle cx="273.3" cy="277.5" r="0.8" fill="#ff1000" fill-opacity="0.76"/><circle cx="282.2" cy="278.8" r="1.4" fill="#e00000" fill-opacity="0.76"/><circle cx="315.5" cy="291.6" r="1.5" fill="#c80000" fill-opacity="0.92"/><circle cx="281.3" cy="255.9" r="0.9" fill="#ff1a10" fill-opacity="0.72"/><circle cx="295" cy="276.5" r="1.4" fill="#ff2a1a" fill-opacity="0.82"/><circle cx="290.3" cy="264.7" r="0.7" fill="#ff1000" fill-opacity="0.87"/><circle cx="275" cy="287.8" r="1.3" fill="#ff2a1a" fill-opacity="0.43"/><circle cx="281.6" cy="283.4" r="0.9" fill="#e00000" fill-opacity="0.64"/><circle cx="284.9" cy="284.2" r="1.4" fill="#ff1000" fill-opacity="0.75"/><circle cx="265.3" cy="281.7" r="0.9" fill="#ff2a1a" fill-opacity="0.76"/><circle cx="256" cy="282.2" r="1.2" fill="#ff1000" fill-opacity="0.82"/><circle cx="305.9" cy="286.5" r="0.6" fill="#ff1000" fill-opacity="0.65"/><circle cx="271.4" cy="282.4" r="1" fill="#f00a0a" fill-opacity="0.74"/><circle cx="281.9" cy="268.7" r="1.1" fill="#ff1a10" fill-opacity="0.93"/><circle cx="267.7" cy="244.3" r="1.1" fill="#ff2a1a" fill-opacity="0.56"/><circle cx="285.6" cy="219.7" r="0.6" fill="#c80000" fill-opacity="0.92"/><circle cx="286.4" cy="243.2" r="1.3" fill="#c80000" fill-opacity="0.53"/><circle cx="288.3" cy="231.7" r="0.8" fill="#e00000" fill-opacity="0.42"/><circle cx="279.7" cy="256.6" r="1.3" fill="#ff2a1a" fill-opacity="0.93"/><circle cx="267.7" cy="257" r="1.2" fill="#ff1a10" fill-opacity="0.85"/><circle cx="294.5" cy="257.4" r="1.4" fill="#c80000" fill-opacity="0.52"/><circle cx="259.2" cy="281" r="0.9" fill="#ff2a1a" fill-opacity="0.79"/><circle cx="257" cy="294.9" r="1.3" fill="#c80000" fill-opacity="0.55"/><circle cx="294" cy="277.8" r="1.1" fill="#ff1000" fill-opacity="0.44"/><circle cx="258" cy="269.4" r="1.3" fill="#ff2a1a" fill-opacity="0.86"/><circle cx="279.2" cy="215.2" r="0.9" fill="#e00000" fill-opacity="0.88"/><circle cx="256.9" cy="274.4" r="1.4" fill="#ff1000" fill-opacity="0.56"/><circle cx="266.8" cy="247.9" r="0.6" fill="#ff1a10" fill-opacity="0.50"/><circle cx="251.4" cy="279.9" r="0.7" fill="#f00a0a" fill-opacity="0.56"/><circle cx="269.9" cy="252.3" r="0.7" fill="#ff1a10" fill-opacity="0.37"/><circle cx="271" cy="283.8" r="1.3" fill="#ff1000" fill-opacity="0.72"/><circle cx="281.9" cy="257.5" r="0.7" fill="#ff1a10" fill-opacity="0.56"/><circle cx="288.1" cy="233.2" r="0.9" fill="#e00000" fill-opacity="0.80"/><circle cx="251.2" cy="287" r="1.1" fill="#ff2a1a" fill-opacity="0.52"/><circle cx="268.5" cy="265.1" r="0.9" fill="#c80000" fill-opacity="0.48"/><circle cx="270.5" cy="265.5" r="1.4" fill="#e00000" fill-opacity="0.44"/><circle cx="276.7" cy="277.7" r="1.5" fill="#ff1000" fill-opacity="0.52"/><circle cx="297.6" cy="283.2" r="0.8" fill="#ff1000" fill-opacity="0.61"/><circle cx="274.6" cy="242.2" r="1.1" fill="#e00000" fill-opacity="0.77"/><circle cx="261" cy="294.8" r="0.9" fill="#e00000" fill-opacity="0.35"/><circle cx="282.3" cy="253" r="0.7" fill="#ff2a1a" fill-opacity="0.39"/><circle cx="270.7" cy="234.6" r="1.1" fill="#c80000" fill-opacity="0.69"/><circle cx="286.3" cy="223.1" r="0.7" fill="#f00a0a" fill-opacity="0.67"/><circle cx="308.6" cy="285.5" r="1.5" fill="#e00000" fill-opacity="0.81"/><circle cx="286.2" cy="263.5" r="1.3" fill="#ff1000" fill-opacity="0.76"/><circle cx="284.9" cy="272.2" r="1" fill="#ff1a10" fill-opacity="0.52"/><circle cx="267.2" cy="272.3" r="0.9" fill="#ff1000" fill-opacity="0.77"/><circle cx="289.6" cy="240.1" r="0.9" fill="#ff2a1a" fill-opacity="0.92"/><circle cx="282.3" cy="207.9" r="1.5" fill="#ff1a10" fill-opacity="0.88"/><circle cx="280.4" cy="240.3" r="0.9" fill="#ff1000" fill-opacity="0.69"/><circle cx="291.8" cy="240.9" r="1.1" fill="#f00a0a" fill-opacity="0.91"/><circle cx="288.3" cy="275.6" r="0.7" fill="#ff2a1a" fill-opacity="0.49"/><circle cx="270.2" cy="242" r="1.3" fill="#ff2a1a" fill-opacity="0.59"/><circle cx="285.6" cy="227.9" r="1.1" fill="#ff1000" fill-opacity="0.73"/><circle cx="270.6" cy="233.6" r="1.1" fill="#ff1000" fill-opacity="0.64"/><circle cx="275.7" cy="217.4" r="0.6" fill="#ff2a1a" fill-opacity="0.39"/><circle cx="268.7" cy="269.9" r="1.2" fill="#f00a0a" fill-opacity="0.52"/><circle cx="277.1" cy="238.4" r="0.8" fill="#f00a0a" fill-opacity="0.83"/><circle cx="282.6" cy="239.6" r="0.8" fill="#ff1000" fill-opacity="0.53"/><circle cx="290.9" cy="257.1" r="0.7" fill="#ff1a10" fill-opacity="0.55"/><circle cx="259.8" cy="266.1" r="0.7" fill="#f00a0a" fill-opacity="0.79"/><circle cx="310.3" cy="291.3" r="1.4" fill="#f00a0a" fill-opacity="0.78"/><circle cx="285.2" cy="281.2" r="1.3" fill="#ff1a10" fill-opacity="0.80"/><circle cx="275.1" cy="231.9" r="0.8" fill="#c80000" fill-opacity="0.77"/><circle cx="283.8" cy="278.7" r="1.3" fill="#ff1000" fill-opacity="0.45"/><circle cx="263.5" cy="285" r="1" fill="#ff1a10" fill-opacity="0.91"/><circle cx="283.7" cy="279.6" r="0.7" fill="#f00a0a" fill-opacity="0.73"/><circle cx="285" cy="278.7" r="0.8" fill="#ff1a10" fill-opacity="0.62"/><circle cx="276" cy="256.5" r="0.7" fill="#c80000" fill-opacity="0.68"/><circle cx="276.1" cy="252.8" r="1.4" fill="#c80000" fill-opacity="0.79"/><circle cx="280.9" cy="214.6" r="0.7" fill="#ff1a10" fill-opacity="0.60"/><circle cx="269.3" cy="235.5" r="0.7" fill="#c80000" fill-opacity="0.39"/><circle cx="277.1" cy="285.9" r="1.4" fill="#e00000" fill-opacity="0.91"/><circle cx="281.6" cy="243.5" r="1.4" fill="#ff1a10" fill-opacity="0.41"/><circle cx="290.6" cy="259.7" r="0.7" fill="#ff1000" fill-opacity="0.64"/><circle cx="270.7" cy="278.5" r="1.2" fill="#ff2a1a" fill-opacity="0.76"/><circle cx="264.7" cy="249.5" r="0.6" fill="#ff1000" fill-opacity="0.59"/><circle cx="291.8" cy="271" r="1.2" fill="#ff1000" fill-opacity="0.38"/><circle cx="285.5" cy="224" r="0.6" fill="#ff1000" fill-opacity="0.76"/><circle cx="277.4" cy="229.3" r="1.3" fill="#ff1a10" fill-opacity="0.43"/><circle cx="281.1" cy="257" r="0.9" fill="#e00000" fill-opacity="0.44"/><circle cx="274.8" cy="271.3" r="1.4" fill="#ff2a1a" fill-opacity="0.63"/><circle cx="263.4" cy="250" r="1.1" fill="#ff1000" fill-opacity="0.86"/><circle cx="272.7" cy="278.2" r="0.7" fill="#ff2a1a" fill-opacity="0.54"/><circle cx="275.2" cy="287.3" r="1.2" fill="#ff1000" fill-opacity="0.89"/><circle cx="261" cy="293.4" r="0.8" fill="#ff1a10" fill-opacity="0.71"/><circle cx="272.3" cy="279.1" r="1.2" fill="#c80000" fill-opacity="0.66"/><circle cx="267.3" cy="252.6" r="1.1" fill="#c80000" fill-opacity="0.84"/><circle cx="285.9" cy="294.2" r="1.1" fill="#ff2a1a" fill-opacity="0.36"/><circle cx="276.2" cy="290.3" r="1.2" fill="#ff1a10" fill-opacity="0.62"/><circle cx="286.2" cy="265.8" r="1.1" fill="#c80000" fill-opacity="0.37"/><circle cx="272.8" cy="246.1" r="1.4" fill="#f00a0a" fill-opacity="0.35"/><circle cx="280.8" cy="240.3" r="1.5" fill="#f00a0a" fill-opacity="0.38"/><circle cx="284.5" cy="244" r="1.5" fill="#ff1a10" fill-opacity="0.94"/><circle cx="325.7" cy="292.8" r="0.7" fill="#f00a0a" fill-opacity="0.36"/><circle cx="284.7" cy="222.9" r="1.3" fill="#ff1000" fill-opacity="0.38"/><circle cx="248.6" cy="293.5" r="1.4" fill="#f00a0a" fill-opacity="0.90"/><circle cx="269.3" cy="275.3" r="1" fill="#c80000" fill-opacity="0.37"/><circle cx="281" cy="289.4" r="1.2" fill="#ff2a1a" fill-opacity="0.41"/><circle cx="288.5" cy="257.9" r="0.9" fill="#c80000" fill-opacity="0.64"/><circle cx="306.9" cy="281" r="1" fill="#c80000" fill-opacity="0.79"/><circle cx="281.5" cy="241.9" r="0.8" fill="#ff2a1a" fill-opacity="0.93"/><circle cx="260" cy="280.3" r="0.8" fill="#ff1000" fill-opacity="0.72"/><circle cx="301" cy="294.2" r="1.1" fill="#ff2a1a" fill-opacity="0.39"/><circle cx="276.1" cy="268.5" r="0.7" fill="#c80000" fill-opacity="0.44"/><circle cx="265" cy="283.2" r="1.4" fill="#f00a0a" fill-opacity="0.81"/><circle cx="277.1" cy="251.5" r="0.8" fill="#f00a0a" fill-opacity="0.67"/><circle cx="284.4" cy="278.8" r="0.8" fill="#e00000" fill-opacity="0.53"/><circle cx="286.3" cy="262.6" r="1" fill="#ff1a10" fill-opacity="0.48"/><circle cx="279.8" cy="203.5" r="1.3" fill="#e00000" fill-opacity="0.85"/><circle cx="272.9" cy="262.1" r="0.7" fill="#ff2a1a" fill-opacity="0.64"/><circle cx="320.9" cy="289.3" r="0.7" fill="#ff1a10" fill-opacity="0.81"/><circle cx="283.1" cy="232.4" r="1.3" fill="#c80000" fill-opacity="0.69"/><circle cx="297.2" cy="279.6" r="1.2" fill="#ff2a1a" fill-opacity="0.43"/><circle cx="262.4" cy="278.4" r="1.2" fill="#e00000" fill-opacity="0.83"/><circle cx="284" cy="234.2" r="0.8" fill="#ff2a1a" fill-opacity="0.52"/><circle cx="266.2" cy="262.4" r="1.1" fill="#c80000" fill-opacity="0.49"/><circle cx="258.1" cy="289.6" r="0.8" fill="#e00000" fill-opacity="0.92"/><circle cx="287.9" cy="238" r="1.3" fill="#f00a0a" fill-opacity="0.70"/><circle cx="285.6" cy="287.8" r="1.4" fill="#e00000" fill-opacity="0.74"/><circle cx="243.5" cy="292.9" r="1.5" fill="#f00a0a" fill-opacity="0.81"/><circle cx="285.9" cy="282.8" r="0.9" fill="#e00000" fill-opacity="0.51"/><circle cx="286.7" cy="292.6" r="0.7" fill="#c80000" fill-opacity="0.35"/><circle cx="305.3" cy="275.1" r="1.2" fill="#f00a0a" fill-opacity="0.63"/><circle cx="258.4" cy="273.7" r="0.9" fill="#ff2a1a" fill-opacity="0.42"/><circle cx="290.1" cy="244.2" r="1.3" fill="#ff2a1a" fill-opacity="0.56"/><circle cx="280.3" cy="265.1" r="1.2" fill="#ff1000" fill-opacity="0.49"/><circle cx="247" cy="287.1" r="0.8" fill="#ff1a10" fill-opacity="0.49"/><circle cx="276.9" cy="260.3" r="0.6" fill="#c80000" fill-opacity="0.57"/><circle cx="277.3" cy="225.6" r="1.3" fill="#ff1000" fill-opacity="0.81"/><circle cx="287.2" cy="250.5" r="0.9" fill="#e00000" fill-opacity="0.80"/><circle cx="305.9" cy="278.5" r="1.3" fill="#f00a0a" fill-opacity="0.44"/><circle cx="290.1" cy="235.2" r="1.5" fill="#e00000" fill-opacity="0.89"/><circle cx="291.5" cy="287.2" r="0.9" fill="#ff2a1a" fill-opacity="0.52"/><circle cx="297.4" cy="293.9" r="0.7" fill="#ff1a10" fill-opacity="0.45"/><circle cx="260.9" cy="276.5" r="1.3" fill="#e00000" fill-opacity="0.92"/><circle cx="282.7" cy="282.5" r="1.1" fill="#ff1a10" fill-opacity="0.59"/><circle cx="274.6" cy="246.5" r="1" fill="#c80000" fill-opacity="0.78"/><circle cx="265.5" cy="273.6" r="0.7" fill="#ff1000" fill-opacity="0.65"/><circle cx="272.2" cy="261.6" r="1.2" fill="#f00a0a" fill-opacity="0.66"/><circle cx="297.1" cy="266.9" r="0.9" fill="#ff1000" fill-opacity="0.91"/><circle cx="268.4" cy="249.9" r="1.4" fill="#c80000" fill-opacity="0.80"/><circle cx="324.1" cy="291.1" r="0.9" fill="#c80000" fill-opacity="0.48"/><circle cx="295.9" cy="273.3" r="0.6" fill="#ff1a10" fill-opacity="0.40"/><circle cx="288.9" cy="235" r="0.8" fill="#ff2a1a" fill-opacity="0.89"/><circle cx="279.6" cy="262.9" r="1.3" fill="#c80000" fill-opacity="0.92"/><circle cx="285" cy="271" r="0.8" fill="#ff2a1a" fill-opacity="0.44"/><circle cx="247.8" cy="287.6" r="1" fill="#ff1000" fill-opacity="0.48"/><circle cx="278.5" cy="216.7" r="1.3" fill="#e00000" fill-opacity="0.91"/><circle cx="312.2" cy="287.5" r="1.4" fill="#ff1a10" fill-opacity="0.56"/><circle cx="268.1" cy="244.5" r="0.9" fill="#ff1000" fill-opacity="0.43"/><circle cx="272.2" cy="231.6" r="0.8" fill="#ff2a1a" fill-opacity="0.59"/><circle cx="284.4" cy="256.2" r="0.8" fill="#ff2a1a" fill-opacity="0.37"/><circle cx="264.8" cy="281.5" r="0.9" fill="#f00a0a" fill-opacity="0.55"/><circle cx="289.1" cy="270.9" r="0.7" fill="#e00000" fill-opacity="0.50"/><circle cx="282.5" cy="220.8" r="1" fill="#c80000" fill-opacity="0.85"/><circle cx="283.6" cy="247" r="0.9" fill="#ff1000" fill-opacity="0.70"/><circle cx="300.1" cy="283.3" r="1.2" fill="#c80000" fill-opacity="0.85"/><circle cx="264.9" cy="270.3" r="1.4" fill="#ff2a1a" fill-opacity="0.75"/><circle cx="308.9" cy="293.7" r="1.4" fill="#f00a0a" fill-opacity="0.87"/><circle cx="254" cy="276.1" r="0.7" fill="#c80000" fill-opacity="0.46"/><circle cx="274" cy="233.8" r="0.7" fill="#e00000" fill-opacity="0.77"/><circle cx="279.9" cy="231.3" r="1.4" fill="#ff2a1a" fill-opacity="0.56"/><circle cx="286" cy="238.9" r="1.5" fill="#ff2a1a" fill-opacity="0.57"/><circle cx="283.4" cy="268.9" r="0.6" fill="#c80000" fill-opacity="0.86"/><circle cx="288.8" cy="269.6" r="1.5" fill="#c80000" fill-opacity="0.64"/><circle cx="255.6" cy="293.2" r="0.7" fill="#ff2a1a" fill-opacity="0.54"/><circle cx="277.9" cy="285.8" r="0.6" fill="#ff2a1a" fill-opacity="0.67"/></g>
<path d="M279,171.6 L283.8,171.6 L286.7,208.1 L278,208.1 Z" fill="#600404" fill-opacity="0.6" filter="url(#b6)"/>
<g filter="url(#b0_35)"><circle cx="258.5" cy="288.4" r="1" fill="#ff2a1a" fill-opacity="0.33"/><circle cx="273.9" cy="280.9" r="0.7" fill="#f00a0a" fill-opacity="0.28"/><circle cx="287.7" cy="250.1" r="0.6" fill="#c80000" fill-opacity="0.66"/><circle cx="259" cy="278.8" r="0.7" fill="#ff1000" fill-opacity="0.43"/><circle cx="275.1" cy="263.4" r="0.9" fill="#ff1000" fill-opacity="0.50"/><circle cx="309.5" cy="284.1" r="1.2" fill="#c80000" fill-opacity="0.67"/><circle cx="282.8" cy="287.7" r="0.8" fill="#ff1000" fill-opacity="0.52"/><circle cx="292.5" cy="282.9" r="0.6" fill="#e00000" fill-opacity="0.35"/><circle cx="290.6" cy="277.2" r="0.8" fill="#ff1a10" fill-opacity="0.26"/><circle cx="264.1" cy="284" r="0.9" fill="#f00a0a" fill-opacity="0.28"/><circle cx="292.2" cy="292.2" r="0.7" fill="#ff1a10" fill-opacity="0.25"/><circle cx="338.9" cy="294.4" r="1.3" fill="#ff2a1a" fill-opacity="0.42"/><circle cx="281.7" cy="218.6" r="1.2" fill="#ff1000" fill-opacity="0.70"/><circle cx="238" cy="296" r="0.7" fill="#f00a0a" fill-opacity="0.22"/><circle cx="266.5" cy="261" r="1" fill="#c80000" fill-opacity="0.52"/><circle cx="290.1" cy="248" r="1.1" fill="#f00a0a" fill-opacity="0.59"/><circle cx="304.6" cy="296.3" r="0.9" fill="#c80000" fill-opacity="0.41"/><circle cx="274.3" cy="256" r="0.6" fill="#f00a0a" fill-opacity="0.42"/><circle cx="280.6" cy="248" r="1.3" fill="#f00a0a" fill-opacity="0.35"/><circle cx="283.5" cy="206.5" r="1" fill="#e00000" fill-opacity="0.35"/><circle cx="285.2" cy="283" r="0.9" fill="#ff1a10" fill-opacity="0.52"/><circle cx="287.6" cy="262.5" r="0.8" fill="#ff1000" fill-opacity="0.46"/><circle cx="282.5" cy="226.7" r="1.1" fill="#e00000" fill-opacity="0.30"/><circle cx="282.9" cy="277.8" r="1.2" fill="#f00a0a" fill-opacity="0.67"/><circle cx="275.9" cy="262.3" r="1.2" fill="#ff1a10" fill-opacity="0.52"/><circle cx="285.9" cy="230.3" r="0.9" fill="#e00000" fill-opacity="0.23"/><circle cx="269" cy="234.6" r="1.1" fill="#f00a0a" fill-opacity="0.38"/><circle cx="322" cy="291.3" r="0.7" fill="#ff1000" fill-opacity="0.55"/><circle cx="243.4" cy="294" r="0.7" fill="#ff2a1a" fill-opacity="0.66"/><circle cx="341.4" cy="296.5" r="0.8" fill="#f00a0a" fill-opacity="0.65"/><circle cx="251.5" cy="288.8" r="0.9" fill="#ff1a10" fill-opacity="0.49"/><circle cx="278.7" cy="273" r="0.9" fill="#f00a0a" fill-opacity="0.33"/><circle cx="299.3" cy="257.9" r="0.8" fill="#ff1000" fill-opacity="0.60"/><circle cx="255.2" cy="275.5" r="0.6" fill="#ff1000" fill-opacity="0.67"/><circle cx="276.1" cy="224.7" r="0.7" fill="#ff2a1a" fill-opacity="0.43"/><circle cx="276.2" cy="262.7" r="1.2" fill="#c80000" fill-opacity="0.48"/><circle cx="235.8" cy="298.1" r="0.7" fill="#ff1a10" fill-opacity="0.34"/><circle cx="280" cy="206.7" r="1" fill="#ff2a1a" fill-opacity="0.48"/><circle cx="275.8" cy="219.2" r="1.1" fill="#ff1a10" fill-opacity="0.62"/><circle cx="348.2" cy="301.9" r="1.2" fill="#ff1000" fill-opacity="0.49"/><circle cx="275.8" cy="246" r="0.8" fill="#f00a0a" fill-opacity="0.69"/><circle cx="267.9" cy="240.8" r="1.1" fill="#c80000" fill-opacity="0.47"/><circle cx="225.4" cy="306.6" r="1" fill="#ff2a1a" fill-opacity="0.66"/><circle cx="293.7" cy="249.8" r="1.2" fill="#c80000" fill-opacity="0.47"/><circle cx="221" cy="306.9" r="0.7" fill="#f00a0a" fill-opacity="0.67"/><circle cx="310.5" cy="287.3" r="0.7" fill="#c80000" fill-opacity="0.45"/><circle cx="251.9" cy="275.7" r="0.7" fill="#f00a0a" fill-opacity="0.20"/><circle cx="280" cy="252.5" r="1.1" fill="#c80000" fill-opacity="0.38"/><circle cx="281.6" cy="270.5" r="0.9" fill="#f00a0a" fill-opacity="0.66"/><circle cx="284.5" cy="255.5" r="1.1" fill="#ff1a10" fill-opacity="0.31"/><circle cx="270.4" cy="227.8" r="1.2" fill="#c80000" fill-opacity="0.36"/><circle cx="287.1" cy="245.2" r="1.2" fill="#ff1a10" fill-opacity="0.36"/><circle cx="354.8" cy="299.9" r="1.2" fill="#f00a0a" fill-opacity="0.23"/><circle cx="354.2" cy="303.6" r="0.6" fill="#f00a0a" fill-opacity="0.27"/><circle cx="297.5" cy="254.1" r="1" fill="#f00a0a" fill-opacity="0.65"/><circle cx="280.2" cy="274.3" r="0.9" fill="#ff1000" fill-opacity="0.48"/><circle cx="272.8" cy="255.5" r="1.1" fill="#e00000" fill-opacity="0.45"/><circle cx="285.8" cy="277.1" r="0.8" fill="#c80000" fill-opacity="0.54"/><circle cx="304.4" cy="278" r="1.1" fill="#e00000" fill-opacity="0.28"/><circle cx="221.7" cy="306" r="0.9" fill="#ff1000" fill-opacity="0.62"/><circle cx="279.6" cy="266.2" r="1.3" fill="#f00a0a" fill-opacity="0.41"/><circle cx="252.9" cy="273.6" r="0.9" fill="#c80000" fill-opacity="0.58"/><circle cx="266.1" cy="246.2" r="1" fill="#e00000" fill-opacity="0.53"/><circle cx="274.6" cy="240.2" r="0.7" fill="#e00000" fill-opacity="0.39"/><circle cx="286" cy="226.3" r="1" fill="#ff1a10" fill-opacity="0.53"/><circle cx="332.5" cy="290.9" r="0.8" fill="#e00000" fill-opacity="0.26"/><circle cx="262.5" cy="261.9" r="1.2" fill="#c80000" fill-opacity="0.37"/><circle cx="279.7" cy="282.4" r="0.7" fill="#e00000" fill-opacity="0.57"/><circle cx="276.9" cy="292.5" r="1.3" fill="#ff1000" fill-opacity="0.62"/><circle cx="282.2" cy="264.7" r="1.2" fill="#ff1a10" fill-opacity="0.45"/><circle cx="292.6" cy="247.4" r="1" fill="#f00a0a" fill-opacity="0.29"/><circle cx="303.1" cy="295.9" r="0.6" fill="#f00a0a" fill-opacity="0.39"/><circle cx="286.9" cy="260.2" r="0.7" fill="#e00000" fill-opacity="0.34"/><circle cx="258.1" cy="295.5" r="1.1" fill="#ff1000" fill-opacity="0.49"/><circle cx="281.2" cy="247.4" r="1.1" fill="#e00000" fill-opacity="0.29"/><circle cx="287" cy="234.9" r="1.2" fill="#ff2a1a" fill-opacity="0.37"/><circle cx="206.5" cy="307.4" r="1.1" fill="#e00000" fill-opacity="0.43"/><circle cx="271.9" cy="243" r="0.8" fill="#ff1000" fill-opacity="0.45"/><circle cx="265.4" cy="225.4" r="1.2" fill="#c80000" fill-opacity="0.62"/><circle cx="280.2" cy="226.7" r="1.3" fill="#f00a0a" fill-opacity="0.63"/><circle cx="224.8" cy="301.1" r="0.7" fill="#f00a0a" fill-opacity="0.41"/><circle cx="282.5" cy="220.5" r="0.8" fill="#c80000" fill-opacity="0.23"/><circle cx="231.1" cy="296.8" r="0.9" fill="#e00000" fill-opacity="0.51"/><circle cx="311.7" cy="284.9" r="1.1" fill="#ff1a10" fill-opacity="0.52"/><circle cx="293.4" cy="263" r="1" fill="#ff1000" fill-opacity="0.49"/><circle cx="363.4" cy="298.7" r="0.7" fill="#c80000" fill-opacity="0.51"/><circle cx="274.2" cy="206.2" r="1" fill="#e00000" fill-opacity="0.49"/><circle cx="274" cy="206" r="0.9" fill="#f00a0a" fill-opacity="0.60"/><circle cx="258.4" cy="270.2" r="0.8" fill="#ff1000" fill-opacity="0.26"/><circle cx="278" cy="199.7" r="0.9" fill="#ff1a10" fill-opacity="0.63"/><circle cx="269" cy="226.4" r="0.7" fill="#f00a0a" fill-opacity="0.50"/><circle cx="343.5" cy="303" r="0.6" fill="#ff1a10" fill-opacity="0.50"/><circle cx="280.6" cy="256.6" r="0.9" fill="#ff2a1a" fill-opacity="0.45"/><circle cx="280.9" cy="241.9" r="0.9" fill="#ff1a10" fill-opacity="0.43"/><circle cx="356.5" cy="296.8" r="0.8" fill="#f00a0a" fill-opacity="0.37"/><circle cx="209.1" cy="311.1" r="1.2" fill="#f00a0a" fill-opacity="0.40"/><circle cx="262.9" cy="234.3" r="0.9" fill="#ff2a1a" fill-opacity="0.20"/><circle cx="286.5" cy="238.3" r="1.1" fill="#ff1a10" fill-opacity="0.48"/><circle cx="294.1" cy="268.1" r="0.7" fill="#f00a0a" fill-opacity="0.48"/><circle cx="329" cy="294.3" r="0.6" fill="#c80000" fill-opacity="0.50"/><circle cx="262.4" cy="275.7" r="1.2" fill="#ff1000" fill-opacity="0.42"/><circle cx="278" cy="226.3" r="0.9" fill="#ff1a10" fill-opacity="0.67"/><circle cx="291.5" cy="241.6" r="1.2" fill="#ff1000" fill-opacity="0.62"/><circle cx="274.7" cy="221.1" r="0.9" fill="#ff1a10" fill-opacity="0.70"/><circle cx="261.7" cy="246.9" r="1" fill="#ff2a1a" fill-opacity="0.40"/><circle cx="301.4" cy="280.8" r="0.9" fill="#e00000" fill-opacity="0.22"/><circle cx="278.9" cy="224.1" r="1" fill="#ff1a10" fill-opacity="0.35"/><circle cx="291.1" cy="239.3" r="0.9" fill="#f00a0a" fill-opacity="0.51"/><circle cx="257.9" cy="257.3" r="0.8" fill="#e00000" fill-opacity="0.32"/><circle cx="291" cy="270.9" r="0.9" fill="#e00000" fill-opacity="0.33"/><circle cx="293.7" cy="258.5" r="0.8" fill="#ff1a10" fill-opacity="0.69"/><circle cx="261.8" cy="278.1" r="0.8" fill="#ff2a1a" fill-opacity="0.50"/><circle cx="262.6" cy="254.6" r="1.1" fill="#c80000" fill-opacity="0.62"/><circle cx="207.8" cy="313.3" r="0.9" fill="#e00000" fill-opacity="0.29"/><circle cx="284.7" cy="272.6" r="0.8" fill="#ff1000" fill-opacity="0.43"/><circle cx="261.1" cy="248.9" r="0.7" fill="#ff1000" fill-opacity="0.37"/></g>
<filter id="b0_4" x="-30%" y="-30%" width="160%" height="160%"><feGaussianBlur stdDeviation="0.4"/></filter>
<g filter="url(#b0_4)"><circle cx="329.5" cy="245.2" r="1" fill="#ff1000" fill-opacity="0.24"/><circle cx="258.2" cy="207" r="1.2" fill="#e00000" fill-opacity="0.41"/><circle cx="216.3" cy="216" r="0.8" fill="#c80000" fill-opacity="0.29"/><circle cx="239.7" cy="265.6" r="0.8" fill="#c80000" fill-opacity="0.48"/><circle cx="253.8" cy="276.5" r="1.1" fill="#c80000" fill-opacity="0.48"/><circle cx="342.8" cy="225" r="0.9" fill="#e00000" fill-opacity="0.25"/><circle cx="302.9" cy="250.6" r="1.2" fill="#c80000" fill-opacity="0.22"/><circle cx="273.7" cy="205.8" r="1.1" fill="#e00000" fill-opacity="0.18"/><circle cx="318.7" cy="228.7" r="1.1" fill="#ff1a10" fill-opacity="0.19"/><circle cx="346.4" cy="230.9" r="1.1" fill="#ff1000" fill-opacity="0.27"/><circle cx="232.6" cy="258.5" r="0.8" fill="#e00000" fill-opacity="0.49"/><circle cx="221.6" cy="205.6" r="0.9" fill="#ff2a1a" fill-opacity="0.35"/><circle cx="322.4" cy="263.9" r="1" fill="#c80000" fill-opacity="0.41"/><circle cx="340.4" cy="263.8" r="0.8" fill="#ff2a1a" fill-opacity="0.16"/><circle cx="235.5" cy="280.4" r="1" fill="#e00000" fill-opacity="0.25"/><circle cx="358.7" cy="218.6" r="1.1" fill="#ff2a1a" fill-opacity="0.39"/><circle cx="281.7" cy="213.5" r="0.8" fill="#e00000" fill-opacity="0.19"/><circle cx="206.3" cy="208" r="0.9" fill="#ff1a10" fill-opacity="0.30"/><circle cx="319.7" cy="206.2" r="0.9" fill="#ff1a10" fill-opacity="0.32"/><circle cx="313.9" cy="284.4" r="1.1" fill="#ff2a1a" fill-opacity="0.39"/><circle cx="323.4" cy="216.9" r="1.1" fill="#e00000" fill-opacity="0.36"/><circle cx="233.4" cy="222.4" r="0.9" fill="#ff1000" fill-opacity="0.18"/><circle cx="319.2" cy="248.5" r="0.8" fill="#f00a0a" fill-opacity="0.32"/><circle cx="323.6" cy="256" r="0.8" fill="#ff2a1a" fill-opacity="0.40"/><circle cx="246.9" cy="216.6" r="0.7" fill="#ff1a10" fill-opacity="0.16"/><circle cx="268.6" cy="278.6" r="1" fill="#ff1000" fill-opacity="0.27"/><circle cx="241.1" cy="252.6" r="0.9" fill="#ff1a10" fill-opacity="0.21"/><circle cx="362.4" cy="198.8" r="0.6" fill="#ff1000" fill-opacity="0.46"/><circle cx="203.6" cy="271.3" r="0.9" fill="#e00000" fill-opacity="0.34"/><circle cx="282.8" cy="262" r="0.8" fill="#ff2a1a" fill-opacity="0.17"/><circle cx="333" cy="273.6" r="1.2" fill="#f00a0a" fill-opacity="0.28"/><circle cx="353.1" cy="253.1" r="1.1" fill="#ff1000" fill-opacity="0.20"/><circle cx="284.9" cy="267.8" r="0.9" fill="#f00a0a" fill-opacity="0.36"/><circle cx="294.8" cy="234.7" r="1" fill="#ff1000" fill-opacity="0.28"/><circle cx="314.1" cy="272.1" r="1.1" fill="#ff1a10" fill-opacity="0.33"/><circle cx="266.2" cy="279.6" r="1.2" fill="#e00000" fill-opacity="0.42"/><circle cx="237.9" cy="269.3" r="1.1" fill="#ff1000" fill-opacity="0.16"/><circle cx="324.4" cy="207.7" r="0.8" fill="#f00a0a" fill-opacity="0.46"/><circle cx="247.1" cy="209" r="1" fill="#f00a0a" fill-opacity="0.48"/><circle cx="358.8" cy="251.5" r="1" fill="#c80000" fill-opacity="0.49"/><circle cx="357.5" cy="215.4" r="1" fill="#f00a0a" fill-opacity="0.25"/><circle cx="210.5" cy="241.8" r="1" fill="#ff2a1a" fill-opacity="0.37"/><circle cx="317.7" cy="275.2" r="1.1" fill="#f00a0a" fill-opacity="0.38"/><circle cx="301.8" cy="285.5" r="0.9" fill="#ff1000" fill-opacity="0.28"/><circle cx="347.9" cy="255.3" r="1" fill="#ff1000" fill-opacity="0.17"/><circle cx="350.3" cy="278.1" r="0.7" fill="#ff1000" fill-opacity="0.31"/><circle cx="353.1" cy="263" r="0.7" fill="#ff1a10" fill-opacity="0.37"/><circle cx="327.3" cy="269.1" r="0.8" fill="#ff1000" fill-opacity="0.34"/><circle cx="316" cy="288.5" r="1.1" fill="#e00000" fill-opacity="0.22"/><circle cx="285.9" cy="203.4" r="1.1" fill="#e00000" fill-opacity="0.34"/><circle cx="305.5" cy="220.5" r="1.2" fill="#ff1000" fill-opacity="0.35"/><circle cx="209.8" cy="245.5" r="0.6" fill="#ff1000" fill-opacity="0.23"/><circle cx="245.2" cy="284" r="1.2" fill="#c80000" fill-opacity="0.36"/><circle cx="272.6" cy="281.3" r="0.8" fill="#ff1000" fill-opacity="0.42"/><circle cx="343.3" cy="275" r="1.1" fill="#ff2a1a" fill-opacity="0.50"/><circle cx="249.8" cy="215.5" r="1" fill="#ff2a1a" fill-opacity="0.31"/><circle cx="270.3" cy="293.9" r="1" fill="#f00a0a" fill-opacity="0.37"/><circle cx="350.6" cy="247.8" r="1.1" fill="#c80000" fill-opacity="0.19"/><circle cx="202.9" cy="294.1" r="0.9" fill="#ff2a1a" fill-opacity="0.25"/><circle cx="323.9" cy="259.9" r="0.9" fill="#f00a0a" fill-opacity="0.25"/><circle cx="336.3" cy="226" r="1.1" fill="#ff1a10" fill-opacity="0.48"/><circle cx="214" cy="259.1" r="0.6" fill="#e00000" fill-opacity="0.23"/><circle cx="249.1" cy="277.1" r="1.1" fill="#c80000" fill-opacity="0.26"/><circle cx="213.2" cy="271" r="0.6" fill="#ff1000" fill-opacity="0.17"/><circle cx="280" cy="199.3" r="0.9" fill="#e00000" fill-opacity="0.17"/><circle cx="205" cy="278.4" r="1.1" fill="#ff2a1a" fill-opacity="0.30"/><circle cx="290.1" cy="234.4" r="0.7" fill="#c80000" fill-opacity="0.22"/><circle cx="356.2" cy="294.8" r="0.9" fill="#ff2a1a" fill-opacity="0.27"/><circle cx="251.1" cy="233.9" r="1.1" fill="#ff1a10" fill-opacity="0.16"/><circle cx="241.9" cy="200.8" r="1" fill="#f00a0a" fill-opacity="0.18"/></g>
<filter id="b3" x="-30%" y="-30%" width="160%" height="160%"><feGaussianBlur stdDeviation="3"/></filter>
<path d="M202,317.9 L230.9,306.3 L259.8,297.7 L298.3,295.7 L336.8,300.5 L365.3,306.3 L365.3,323.3 L202,323.3 Z" fill="#040000" fill-opacity="0.9" filter="url(#b3)"/>
</g>
<text x="209.6" y="183.5" font-size="19.9" text-anchor="start" fill="#f0f0f0" class="nb">MnPO/mCherry</text>
<clipPath id="ce1"><rect x="35" y="585" width="162.5" height="162.3"/></clipPath>
<g clip-path="url(#ce1)">
<rect x="35" y="585" width="162.5" height="162.3" fill="#031003"/>
<path d="M34,584 L197.3,584 L197.3,661 L34,664.9 Z" fill="#0e5a0e" fill-opacity="0.75" filter="url(#b10)"/>
<path d="M34,661 L197.3,657.2 L197.3,691.8 L34,691.8 Z" fill="#0b320b" fill-opacity="0.9" filter="url(#b10)"/>
<filter id="b12" x="-30%" y="-30%" width="160%" height="160%"><feGaussianBlur stdDeviation="12"/></filter>
<path d="M34,584 L57.1,584 L49.4,664.9 L34,664.9 Z" fill="#000" fill-opacity="0.35" filter="url(#b12)"/>
<path d="M159.1,584 L197.3,584 L197.3,647.5 L168.8,653.3 Z" fill="#1a8a1a" fill-opacity="0.55" filter="url(#b9)"/>
<path d="M68.7,599.4 L99.5,595.6 L101.4,657.2 L76.4,659.1 Z" fill="#1a8a1a" fill-opacity="0.45" filter="url(#b9)"/>
<filter id="b5" x="-30%" y="-30%" width="160%" height="160%"><feGaussianBlur stdDeviation="5"/></filter>
<path d="M82.1,584 L99.5,584 L99.5,641.8 L103.3,649.5 L120.6,645.6 L141.8,641.8 L157.2,632.1 L157.2,584 L172.6,584 L172.6,647.5 L149.5,657.2 L111,661 L91.8,657.2 L82.1,641.8 Z" fill="#1e9a1e" fill-opacity="0.75" filter="url(#b5)"/>
<g filter="url(#b0_35)"><circle cx="99.4" cy="631.3" r="0.5" fill="#3fd13f" fill-opacity="0.27"/><circle cx="66.7" cy="623.3" r="0.5" fill="#2fb82f" fill-opacity="0.28"/><circle cx="90.8" cy="631.9" r="0.6" fill="#66ea66" fill-opacity="0.57"/><circle cx="185.3" cy="591.9" r="1.3" fill="#3fd13f" fill-opacity="0.34"/><circle cx="178.4" cy="646.3" r="1.2" fill="#3cc83c" fill-opacity="0.55"/><circle cx="153.7" cy="654.9" r="0.5" fill="#2fb82f" fill-opacity="0.25"/><circle cx="50.1" cy="638.8" r="0.8" fill="#2fb82f" fill-opacity="0.61"/><circle cx="40.7" cy="606.8" r="1.1" fill="#52e052" fill-opacity="0.47"/><circle cx="36.3" cy="650" r="1.1" fill="#2fb82f" fill-opacity="0.35"/><circle cx="129" cy="614.8" r="0.9" fill="#3cc83c" fill-opacity="0.72"/><circle cx="82.6" cy="595.5" r="0.8" fill="#3fd13f" fill-opacity="0.67"/><circle cx="121.1" cy="605.9" r="0.6" fill="#66ea66" fill-opacity="0.56"/><circle cx="195.2" cy="608.2" r="0.9" fill="#3cc83c" fill-opacity="0.38"/><circle cx="142" cy="587" r="1.3" fill="#52e052" fill-opacity="0.47"/><circle cx="157.8" cy="595.5" r="1.2" fill="#2fb82f" fill-opacity="0.26"/><circle cx="63.3" cy="595.4" r="0.6" fill="#3fd13f" fill-opacity="0.60"/><circle cx="190.1" cy="655.9" r="0.7" fill="#52e052" fill-opacity="0.52"/><circle cx="104.9" cy="624.6" r="1.2" fill="#3fd13f" fill-opacity="0.64"/><circle cx="66.5" cy="663.5" r="1.3" fill="#52e052" fill-opacity="0.25"/><circle cx="61.6" cy="601.8" r="1.2" fill="#66ea66" fill-opacity="0.54"/><circle cx="102.4" cy="628.2" r="0.6" fill="#3cc83c" fill-opacity="0.72"/><circle cx="55.2" cy="638.8" r="1.1" fill="#52e052" fill-opacity="0.67"/><circle cx="121.7" cy="594.9" r="1" fill="#52e052" fill-opacity="0.32"/><circle cx="159.3" cy="603.9" r="1.2" fill="#2fb82f" fill-opacity="0.29"/><circle cx="73.8" cy="584.8" r="1.3" fill="#3fd13f" fill-opacity="0.80"/><circle cx="36.9" cy="599.2" r="0.7" fill="#2fb82f" fill-opacity="0.63"/><circle cx="140" cy="594.5" r="1" fill="#52e052" fill-opacity="0.67"/><circle cx="131.8" cy="612.9" r="1.2" fill="#52e052" fill-opacity="0.71"/><circle cx="154.1" cy="637.7" r="1.2" fill="#66ea66" fill-opacity="0.80"/><circle cx="113.8" cy="648.5" r="1" fill="#3fd13f" fill-opacity="0.27"/><circle cx="183.5" cy="641.3" r="0.9" fill="#3fd13f" fill-opacity="0.73"/><circle cx="94.2" cy="621.9" r="0.8" fill="#2fb82f" fill-opacity="0.37"/><circle cx="79.6" cy="640.8" r="1.1" fill="#3cc83c" fill-opacity="0.74"/><circle cx="167.9" cy="584.6" r="1" fill="#66ea66" fill-opacity="0.26"/><circle cx="56.5" cy="589.4" r="0.5" fill="#3fd13f" fill-opacity="0.57"/><circle cx="95" cy="615.8" r="0.9" fill="#52e052" fill-opacity="0.38"/><circle cx="67.5" cy="659.3" r="0.9" fill="#3fd13f" fill-opacity="0.59"/><circle cx="179.3" cy="617.3" r="0.7" fill="#66ea66" fill-opacity="0.60"/><circle cx="178.6" cy="606.5" r="0.7" fill="#3fd13f" fill-opacity="0.35"/><circle cx="161.8" cy="623" r="0.8" fill="#66ea66" fill-opacity="0.50"/><circle cx="44.1" cy="593.1" r="0.6" fill="#2fb82f" fill-opacity="0.26"/><circle cx="78.1" cy="656.1" r="1.1" fill="#3cc83c" fill-opacity="0.42"/><circle cx="90.4" cy="654.2" r="1.1" fill="#2fb82f" fill-opacity="0.38"/><circle cx="77.1" cy="621.2" r="0.7" fill="#3cc83c" fill-opacity="0.60"/><circle cx="78" cy="633.6" r="1.1" fill="#52e052" fill-opacity="0.76"/><circle cx="59.8" cy="658.4" r="0.8" fill="#3cc83c" fill-opacity="0.78"/><circle cx="139.9" cy="601.5" r="0.9" fill="#3fd13f" fill-opacity="0.30"/><circle cx="169" cy="658.9" r="1" fill="#3fd13f" fill-opacity="0.71"/><circle cx="111.5" cy="663" r="1.2" fill="#2fb82f" fill-opacity="0.31"/><circle cx="43.9" cy="643.8" r="1.1" fill="#52e052" fill-opacity="0.33"/><circle cx="175.7" cy="625.8" r="1" fill="#3fd13f" fill-opacity="0.79"/><circle cx="150.1" cy="634.7" r="1.2" fill="#3cc83c" fill-opacity="0.64"/><circle cx="142.5" cy="660.2" r="0.8" fill="#66ea66" fill-opacity="0.61"/><circle cx="137.7" cy="612" r="0.9" fill="#3fd13f" fill-opacity="0.72"/><circle cx="193.3" cy="655.9" r="1.2" fill="#66ea66" fill-opacity="0.23"/><circle cx="135.2" cy="619.8" r="0.8" fill="#2fb82f" fill-opacity="0.37"/><circle cx="157.3" cy="598.1" r="0.9" fill="#66ea66" fill-opacity="0.32"/><circle cx="172.5" cy="655.7" r="0.8" fill="#3fd13f" fill-opacity="0.29"/><circle cx="61.7" cy="649.9" r="0.8" fill="#66ea66" fill-opacity="0.75"/><circle cx="89.8" cy="614.9" r="1.2" fill="#52e052" fill-opacity="0.32"/><circle cx="184.3" cy="599" r="0.6" fill="#52e052" fill-opacity="0.43"/><circle cx="68.8" cy="662" r="1.3" fill="#2fb82f" fill-opacity="0.28"/><circle cx="98.3" cy="641.8" r="1.1" fill="#3fd13f" fill-opacity="0.27"/><circle cx="132.8" cy="604.5" r="1.1" fill="#52e052" fill-opacity="0.22"/><circle cx="166.1" cy="590.6" r="1.1" fill="#52e052" fill-opacity="0.37"/><circle cx="54.1" cy="627" r="0.8" fill="#3fd13f" fill-opacity="0.38"/><circle cx="91.2" cy="645.8" r="0.8" fill="#3fd13f" fill-opacity="0.37"/><circle cx="185.1" cy="609.1" r="0.8" fill="#66ea66" fill-opacity="0.40"/><circle cx="98.8" cy="624.6" r="0.7" fill="#66ea66" fill-opacity="0.69"/><circle cx="135.7" cy="657" r="0.7" fill="#3fd13f" fill-opacity="0.26"/><circle cx="104.7" cy="637.3" r="1" fill="#66ea66" fill-opacity="0.68"/><circle cx="75.8" cy="623.1" r="0.9" fill="#52e052" fill-opacity="0.54"/><circle cx="194.4" cy="648.7" r="0.7" fill="#3cc83c" fill-opacity="0.71"/><circle cx="42.6" cy="655.7" r="0.9" fill="#2fb82f" fill-opacity="0.31"/><circle cx="34.2" cy="621.4" r="0.9" fill="#3fd13f" fill-opacity="0.74"/><circle cx="121.5" cy="622.5" r="1.3" fill="#2fb82f" fill-opacity="0.63"/><circle cx="81.2" cy="598.9" r="0.7" fill="#52e052" fill-opacity="0.71"/><circle cx="59.8" cy="613.9" r="0.6" fill="#52e052" fill-opacity="0.66"/><circle cx="40.1" cy="628.8" r="0.8" fill="#3cc83c" fill-opacity="0.52"/><circle cx="164.4" cy="638.1" r="0.7" fill="#52e052" fill-opacity="0.36"/><circle cx="163.2" cy="614.9" r="0.6" fill="#52e052" fill-opacity="0.40"/><circle cx="101.7" cy="587.7" r="0.9" fill="#2fb82f" fill-opacity="0.77"/><circle cx="114.1" cy="633.7" r="1.3" fill="#2fb82f" fill-opacity="0.69"/><circle cx="77.7" cy="658.2" r="1.2" fill="#3cc83c" fill-opacity="0.65"/><circle cx="159.7" cy="591.4" r="0.6" fill="#3cc83c" fill-opacity="0.40"/><circle cx="113.4" cy="652.6" r="0.9" fill="#66ea66" fill-opacity="0.26"/><circle cx="90.5" cy="631.9" r="0.7" fill="#52e052" fill-opacity="0.68"/><circle cx="103.8" cy="618.3" r="1.2" fill="#2fb82f" fill-opacity="0.58"/><circle cx="176.4" cy="603.8" r="0.7" fill="#52e052" fill-opacity="0.51"/><circle cx="63.6" cy="636.2" r="1" fill="#66ea66" fill-opacity="0.70"/><circle cx="65.8" cy="592.4" r="0.8" fill="#3cc83c" fill-opacity="0.38"/><circle cx="177.7" cy="652.5" r="1.1" fill="#3fd13f" fill-opacity="0.23"/><circle cx="192.9" cy="587.8" r="0.7" fill="#2fb82f" fill-opacity="0.58"/><circle cx="139.2" cy="594.8" r="1.2" fill="#3cc83c" fill-opacity="0.46"/><circle cx="132.1" cy="625.3" r="0.7" fill="#66ea66" fill-opacity="0.70"/><circle cx="88.7" cy="591.4" r="1" fill="#52e052" fill-opacity="0.31"/><circle cx="142.2" cy="637.7" r="0.8" fill="#3cc83c" fill-opacity="0.71"/><circle cx="70.8" cy="606.8" r="0.7" fill="#3fd13f" fill-opacity="0.26"/><circle cx="117.2" cy="609.8" r="1" fill="#2fb82f" fill-opacity="0.74"/><circle cx="45" cy="596.3" r="1.1" fill="#2fb82f" fill-opacity="0.30"/><circle cx="138.1" cy="627.8" r="0.6" fill="#2fb82f" fill-opacity="0.65"/><circle cx="38.2" cy="590.2" r="0.6" fill="#66ea66" fill-opacity="0.39"/><circle cx="127.5" cy="628.6" r="0.5" fill="#2fb82f" fill-opacity="0.22"/><circle cx="193.6" cy="609.4" r="0.7" fill="#66ea66" fill-opacity="0.78"/><circle cx="135.4" cy="609.5" r="1.1" fill="#3fd13f" fill-opacity="0.47"/><circle cx="96.3" cy="645.9" r="0.9" fill="#52e052" fill-opacity="0.35"/><circle cx="141.4" cy="637.5" r="0.9" fill="#2fb82f" fill-opacity="0.50"/><circle cx="97.1" cy="643.5" r="1.3" fill="#3cc83c" fill-opacity="0.41"/><circle cx="159.2" cy="615.2" r="1.1" fill="#2fb82f" fill-opacity="0.79"/><circle cx="129.6" cy="602.7" r="1.1" fill="#66ea66" fill-opacity="0.61"/><circle cx="96.1" cy="596.5" r="1.1" fill="#2fb82f" fill-opacity="0.74"/><circle cx="169.6" cy="659.2" r="1.3" fill="#3cc83c" fill-opacity="0.65"/><circle cx="38.1" cy="600.9" r="1.2" fill="#3cc83c" fill-opacity="0.80"/><circle cx="176.2" cy="627.6" r="1.1" fill="#2fb82f" fill-opacity="0.55"/><circle cx="128.8" cy="657.4" r="1.1" fill="#66ea66" fill-opacity="0.51"/><circle cx="111.3" cy="601.4" r="1" fill="#66ea66" fill-opacity="0.72"/><circle cx="146.4" cy="622.7" r="1.2" fill="#2fb82f" fill-opacity="0.56"/><circle cx="180.6" cy="603.4" r="0.6" fill="#66ea66" fill-opacity="0.47"/><circle cx="93.8" cy="623.5" r="0.7" fill="#52e052" fill-opacity="0.65"/><circle cx="52" cy="615.7" r="0.8" fill="#3cc83c" fill-opacity="0.69"/><circle cx="86.9" cy="635.1" r="0.8" fill="#3fd13f" fill-opacity="0.74"/><circle cx="89.4" cy="657.1" r="0.6" fill="#2fb82f" fill-opacity="0.33"/><circle cx="83.2" cy="610.3" r="0.7" fill="#2fb82f" fill-opacity="0.41"/><circle cx="125.2" cy="658.1" r="0.8" fill="#66ea66" fill-opacity="0.51"/><circle cx="136.3" cy="637.3" r="1" fill="#3fd13f" fill-opacity="0.71"/><circle cx="117.7" cy="590.7" r="1.3" fill="#3cc83c" fill-opacity="0.69"/><circle cx="114" cy="651" r="1.2" fill="#66ea66" fill-opacity="0.62"/><circle cx="42.7" cy="585.5" r="0.7" fill="#66ea66" fill-opacity="0.63"/><circle cx="65.8" cy="591.6" r="0.6" fill="#2fb82f" fill-opacity="0.68"/><circle cx="192.2" cy="632.1" r="0.8" fill="#52e052" fill-opacity="0.64"/><circle cx="153.9" cy="587" r="1.2" fill="#52e052" fill-opacity="0.47"/><circle cx="95.1" cy="637.4" r="1.2" fill="#3cc83c" fill-opacity="0.41"/><circle cx="172.1" cy="609.9" r="0.8" fill="#3cc83c" fill-opacity="0.62"/><circle cx="86.6" cy="600.2" r="0.7" fill="#66ea66" fill-opacity="0.77"/><circle cx="55.1" cy="624.7" r="1" fill="#52e052" fill-opacity="0.33"/><circle cx="69.3" cy="608" r="0.8" fill="#52e052" fill-opacity="0.55"/><circle cx="130.8" cy="595.2" r="0.7" fill="#52e052" fill-opacity="0.38"/><circle cx="151" cy="607.3" r="0.5" fill="#3fd13f" fill-opacity="0.20"/><circle cx="81" cy="639.3" r="0.7" fill="#2fb82f" fill-opacity="0.78"/><circle cx="42.2" cy="596.5" r="1.1" fill="#52e052" fill-opacity="0.61"/><circle cx="87.7" cy="607.6" r="1.1" fill="#3cc83c" fill-opacity="0.49"/><circle cx="53.9" cy="615.3" r="0.9" fill="#52e052" fill-opacity="0.53"/><circle cx="55.6" cy="596.1" r="1.2" fill="#66ea66" fill-opacity="0.63"/><circle cx="161.5" cy="615.8" r="0.8" fill="#66ea66" fill-opacity="0.27"/><circle cx="187.1" cy="655.6" r="1.2" fill="#3cc83c" fill-opacity="0.62"/><circle cx="72.4" cy="640.6" r="0.8" fill="#3fd13f" fill-opacity="0.71"/><circle cx="99.7" cy="623.9" r="0.8" fill="#52e052" fill-opacity="0.43"/><circle cx="63.1" cy="612.2" r="1.1" fill="#66ea66" fill-opacity="0.73"/><circle cx="136.9" cy="614.1" r="0.6" fill="#52e052" fill-opacity="0.40"/><circle cx="129.2" cy="630.5" r="0.7" fill="#2fb82f" fill-opacity="0.58"/><circle cx="138.2" cy="626.3" r="0.7" fill="#3fd13f" fill-opacity="0.41"/><circle cx="78.6" cy="591.5" r="1.2" fill="#66ea66" fill-opacity="0.49"/><circle cx="136.2" cy="601" r="1.3" fill="#3cc83c" fill-opacity="0.24"/><circle cx="49.5" cy="662.1" r="0.6" fill="#66ea66" fill-opacity="0.22"/><circle cx="194.6" cy="642.1" r="0.6" fill="#3cc83c" fill-opacity="0.49"/><circle cx="189.3" cy="600.5" r="1" fill="#3fd13f" fill-opacity="0.43"/><circle cx="105.3" cy="605.4" r="0.9" fill="#66ea66" fill-opacity="0.65"/><circle cx="101.3" cy="592.3" r="0.6" fill="#66ea66" fill-opacity="0.66"/><circle cx="63.4" cy="636.6" r="1.1" fill="#66ea66" fill-opacity="0.52"/><circle cx="98.9" cy="621.1" r="0.5" fill="#3cc83c" fill-opacity="0.68"/><circle cx="61.1" cy="592.3" r="0.8" fill="#52e052" fill-opacity="0.54"/><circle cx="190" cy="658.1" r="1" fill="#2fb82f" fill-opacity="0.27"/><circle cx="137.4" cy="607.1" r="0.7" fill="#3fd13f" fill-opacity="0.61"/><circle cx="168" cy="640.8" r="0.6" fill="#3cc83c" fill-opacity="0.68"/><circle cx="115" cy="622.2" r="1.2" fill="#3cc83c" fill-opacity="0.73"/><circle cx="148.6" cy="629" r="0.9" fill="#2fb82f" fill-opacity="0.68"/><circle cx="84.9" cy="641.5" r="1.2" fill="#3cc83c" fill-opacity="0.70"/><circle cx="195.9" cy="635.9" r="1.2" fill="#3fd13f" fill-opacity="0.31"/><circle cx="152.6" cy="635.2" r="0.7" fill="#3fd13f" fill-opacity="0.74"/><circle cx="147.1" cy="634.2" r="1.2" fill="#3cc83c" fill-opacity="0.49"/><circle cx="38.4" cy="606.1" r="0.7" fill="#52e052" fill-opacity="0.67"/><circle cx="181.8" cy="610.8" r="1.3" fill="#2fb82f" fill-opacity="0.21"/><circle cx="39.3" cy="601.8" r="0.9" fill="#2fb82f" fill-opacity="0.38"/><circle cx="119.2" cy="635.8" r="1.1" fill="#66ea66" fill-opacity="0.51"/><circle cx="111" cy="643.1" r="0.8" fill="#3fd13f" fill-opacity="0.56"/><circle cx="113.6" cy="610" r="0.9" fill="#2fb82f" fill-opacity="0.33"/><circle cx="46.5" cy="604.2" r="1" fill="#3cc83c" fill-opacity="0.65"/><circle cx="114.7" cy="637.8" r="1.1" fill="#3cc83c" fill-opacity="0.37"/><circle cx="120.2" cy="597" r="0.7" fill="#52e052" fill-opacity="0.77"/><circle cx="99.4" cy="611.8" r="0.8" fill="#66ea66" fill-opacity="0.75"/><circle cx="67.9" cy="635.4" r="0.7" fill="#2fb82f" fill-opacity="0.61"/><circle cx="89.5" cy="649.7" r="0.8" fill="#3cc83c" fill-opacity="0.51"/><circle cx="113.9" cy="593.6" r="1.1" fill="#2fb82f" fill-opacity="0.68"/><circle cx="51" cy="608.2" r="0.7" fill="#3cc83c" fill-opacity="0.70"/><circle cx="36.1" cy="653.6" r="0.8" fill="#66ea66" fill-opacity="0.43"/><circle cx="82.8" cy="634.5" r="0.5" fill="#3fd13f" fill-opacity="0.36"/><circle cx="136.7" cy="657.5" r="0.7" fill="#3cc83c" fill-opacity="0.36"/><circle cx="187" cy="636.7" r="1.1" fill="#52e052" fill-opacity="0.46"/><circle cx="52.6" cy="627.2" r="1" fill="#52e052" fill-opacity="0.78"/><circle cx="128.8" cy="613.9" r="0.6" fill="#3cc83c" fill-opacity="0.58"/><circle cx="159.4" cy="596.9" r="1" fill="#3fd13f" fill-opacity="0.64"/><circle cx="61.9" cy="661.6" r="0.7" fill="#66ea66" fill-opacity="0.79"/><circle cx="127.6" cy="633.5" r="1.1" fill="#3fd13f" fill-opacity="0.43"/><circle cx="71.6" cy="631.6" r="0.9" fill="#2fb82f" fill-opacity="0.32"/><circle cx="181.6" cy="623.7" r="1.2" fill="#3fd13f" fill-opacity="0.68"/><circle cx="59.9" cy="593.4" r="1.3" fill="#52e052" fill-opacity="0.35"/><circle cx="138.1" cy="662" r="1.2" fill="#66ea66" fill-opacity="0.77"/><circle cx="148.3" cy="636.4" r="0.7" fill="#2fb82f" fill-opacity="0.63"/><circle cx="134.7" cy="611.3" r="0.8" fill="#3fd13f" fill-opacity="0.31"/><circle cx="88" cy="586.7" r="0.9" fill="#66ea66" fill-opacity="0.46"/><circle cx="73.9" cy="635.7" r="1.1" fill="#66ea66" fill-opacity="0.33"/><circle cx="181.7" cy="639.8" r="0.8" fill="#52e052" fill-opacity="0.40"/><circle cx="104.9" cy="618" r="0.8" fill="#2fb82f" fill-opacity="0.27"/><circle cx="64.1" cy="639.1" r="0.6" fill="#2fb82f" fill-opacity="0.80"/><circle cx="50.1" cy="662.6" r="0.6" fill="#52e052" fill-opacity="0.77"/><circle cx="87.4" cy="647.6" r="1" fill="#3fd13f" fill-opacity="0.34"/><circle cx="89.9" cy="594.8" r="1.1" fill="#3fd13f" fill-opacity="0.36"/><circle cx="87" cy="634.6" r="0.9" fill="#3cc83c" fill-opacity="0.61"/><circle cx="75.3" cy="587.4" r="1.1" fill="#52e052" fill-opacity="0.33"/><circle cx="154.2" cy="597.5" r="0.7" fill="#3cc83c" fill-opacity="0.55"/><circle cx="169.8" cy="585.8" r="0.7" fill="#3fd13f" fill-opacity="0.31"/><circle cx="80.6" cy="659.8" r="0.8" fill="#3cc83c" fill-opacity="0.52"/><circle cx="88.2" cy="624.2" r="0.5" fill="#3cc83c" fill-opacity="0.31"/><circle cx="59.2" cy="594.5" r="0.5" fill="#52e052" fill-opacity="0.35"/><circle cx="47.1" cy="655.2" r="0.9" fill="#52e052" fill-opacity="0.71"/><circle cx="135.7" cy="640" r="1.1" fill="#52e052" fill-opacity="0.45"/><circle cx="152.6" cy="650.5" r="0.6" fill="#52e052" fill-opacity="0.39"/><circle cx="118.8" cy="597.9" r="1.2" fill="#3cc83c" fill-opacity="0.46"/><circle cx="38.4" cy="627.5" r="0.5" fill="#3fd13f" fill-opacity="0.47"/><circle cx="81.7" cy="624.5" r="0.6" fill="#52e052" fill-opacity="0.77"/><circle cx="47.7" cy="610.4" r="1.2" fill="#2fb82f" fill-opacity="0.28"/><circle cx="79.4" cy="657.1" r="0.9" fill="#3cc83c" fill-opacity="0.55"/><circle cx="173" cy="641.3" r="0.6" fill="#3cc83c" fill-opacity="0.29"/><circle cx="152.9" cy="639.2" r="1.2" fill="#2fb82f" fill-opacity="0.33"/><circle cx="124.8" cy="596.3" r="0.8" fill="#2fb82f" fill-opacity="0.63"/><circle cx="104.4" cy="628.9" r="0.6" fill="#3fd13f" fill-opacity="0.60"/><circle cx="132.6" cy="599.9" r="0.9" fill="#3cc83c" fill-opacity="0.53"/><circle cx="70.6" cy="613.9" r="0.9" fill="#66ea66" fill-opacity="0.74"/><circle cx="76.7" cy="663.8" r="1.2" fill="#52e052" fill-opacity="0.69"/><circle cx="54.8" cy="656.1" r="0.9" fill="#52e052" fill-opacity="0.79"/><circle cx="195.1" cy="659.5" r="0.9" fill="#3cc83c" fill-opacity="0.47"/><circle cx="91.5" cy="634.8" r="0.7" fill="#2fb82f" fill-opacity="0.55"/><circle cx="43.7" cy="634.3" r="1.3" fill="#3cc83c" fill-opacity="0.33"/><circle cx="192.9" cy="645.9" r="1.1" fill="#3cc83c" fill-opacity="0.68"/><circle cx="149" cy="611.8" r="0.5" fill="#3cc83c" fill-opacity="0.43"/><circle cx="90.4" cy="615.9" r="1.1" fill="#3cc83c" fill-opacity="0.47"/><circle cx="191.2" cy="609.8" r="0.8" fill="#2fb82f" fill-opacity="0.69"/><circle cx="65.6" cy="618.3" r="0.6" fill="#3cc83c" fill-opacity="0.53"/><circle cx="49" cy="659.8" r="1" fill="#3fd13f" fill-opacity="0.31"/><circle cx="36.8" cy="635.9" r="1.3" fill="#3cc83c" fill-opacity="0.67"/><circle cx="161.8" cy="617.3" r="0.8" fill="#2fb82f" fill-opacity="0.46"/><circle cx="181.7" cy="600.3" r="0.9" fill="#66ea66" fill-opacity="0.58"/><circle cx="58.1" cy="650.8" r="0.6" fill="#2fb82f" fill-opacity="0.41"/><circle cx="44.7" cy="631" r="1.2" fill="#52e052" fill-opacity="0.35"/><circle cx="170.3" cy="617.4" r="1.1" fill="#3fd13f" fill-opacity="0.37"/><circle cx="115.3" cy="642.3" r="0.6" fill="#66ea66" fill-opacity="0.74"/><circle cx="116.9" cy="648.1" r="0.6" fill="#3cc83c" fill-opacity="0.63"/><circle cx="174.9" cy="631.5" r="0.7" fill="#3cc83c" fill-opacity="0.22"/><circle cx="72.4" cy="630.8" r="1.2" fill="#52e052" fill-opacity="0.58"/><circle cx="128.4" cy="589" r="1.3" fill="#52e052" fill-opacity="0.38"/><circle cx="64.8" cy="592.5" r="0.8" fill="#52e052" fill-opacity="0.26"/><circle cx="160.6" cy="591.2" r="1.1" fill="#2fb82f" fill-opacity="0.31"/><circle cx="196.7" cy="621" r="0.6" fill="#2fb82f" fill-opacity="0.29"/><circle cx="156.4" cy="588.2" r="1.2" fill="#3cc83c" fill-opacity="0.73"/><circle cx="172.4" cy="646.9" r="1.1" fill="#52e052" fill-opacity="0.58"/><circle cx="164.1" cy="655.4" r="1" fill="#3fd13f" fill-opacity="0.52"/><circle cx="144.4" cy="600.4" r="0.8" fill="#66ea66" fill-opacity="0.25"/><circle cx="87.3" cy="608.3" r="0.6" fill="#2fb82f" fill-opacity="0.59"/><circle cx="166.9" cy="621.7" r="0.6" fill="#2fb82f" fill-opacity="0.31"/><circle cx="115.4" cy="612.8" r="0.6" fill="#3cc83c" fill-opacity="0.26"/></g>
<filter id="b4" x="-30%" y="-30%" width="160%" height="160%"><feGaussianBlur stdDeviation="4"/></filter>
<path d="M100.4,584 L157.2,584 L157.2,630.2 L141.8,641.8 L120.6,645.6 L103.3,649.5 L100.4,641.8 Z" fill="#000" fill-opacity="1" filter="url(#b4)"/>
<path d="M68.7,693.7 L91.8,689.9 L120.6,688.9 L141.8,688.9 L141.8,699.5 L120.6,707.2 L91.8,711.1 L72.5,707.2 L68.7,699.5 Z" fill="#26a026" fill-opacity="0.9" filter="url(#b5)"/>
<g filter="url(#b0_35)"><circle cx="124.2" cy="698.6" r="0.8" fill="#3cc83c" fill-opacity="0.55"/><circle cx="120.3" cy="690.1" r="1.1" fill="#3cc83c" fill-opacity="0.84"/><circle cx="141.7" cy="693.1" r="1.4" fill="#66ea66" fill-opacity="0.57"/><circle cx="109.4" cy="694.5" r="1.4" fill="#3cc83c" fill-opacity="0.74"/><circle cx="82.7" cy="705.4" r="1.1" fill="#52e052" fill-opacity="0.82"/><circle cx="86.7" cy="698.4" r="1.3" fill="#2fb82f" fill-opacity="0.90"/><circle cx="120.3" cy="689" r="1" fill="#3cc83c" fill-opacity="0.93"/><circle cx="120.4" cy="699.8" r="0.7" fill="#3cc83c" fill-opacity="0.85"/><circle cx="76.8" cy="704.9" r="0.7" fill="#2fb82f" fill-opacity="0.55"/><circle cx="139.1" cy="698.5" r="1.4" fill="#3fd13f" fill-opacity="0.56"/><circle cx="91.4" cy="710.1" r="1.3" fill="#66ea66" fill-opacity="0.42"/><circle cx="78.5" cy="707.2" r="1.2" fill="#66ea66" fill-opacity="0.76"/><circle cx="102.3" cy="695.6" r="1.4" fill="#66ea66" fill-opacity="0.95"/><circle cx="91.7" cy="691.9" r="1" fill="#66ea66" fill-opacity="0.78"/><circle cx="88.9" cy="695.4" r="1" fill="#3cc83c" fill-opacity="0.97"/><circle cx="115.8" cy="703.8" r="1" fill="#2fb82f" fill-opacity="0.88"/><circle cx="119.4" cy="704" r="0.8" fill="#66ea66" fill-opacity="0.94"/><circle cx="102" cy="704.8" r="0.8" fill="#52e052" fill-opacity="0.49"/><circle cx="116.2" cy="693.2" r="0.9" fill="#3cc83c" fill-opacity="0.72"/><circle cx="95.7" cy="706.7" r="1.1" fill="#52e052" fill-opacity="0.83"/><circle cx="117.2" cy="700.1" r="1.4" fill="#3cc83c" fill-opacity="0.97"/><circle cx="122.8" cy="700" r="1.1" fill="#3cc83c" fill-opacity="0.45"/><circle cx="87.2" cy="697.2" r="0.9" fill="#3cc83c" fill-opacity="0.78"/><circle cx="133.9" cy="692" r="0.7" fill="#3fd13f" fill-opacity="0.43"/><circle cx="119.7" cy="698.3" r="0.9" fill="#66ea66" fill-opacity="0.75"/><circle cx="117.5" cy="701.9" r="1.2" fill="#66ea66" fill-opacity="0.92"/><circle cx="132.6" cy="700.4" r="1" fill="#3fd13f" fill-opacity="0.53"/><circle cx="133" cy="692.5" r="1" fill="#3fd13f" fill-opacity="0.79"/><circle cx="83.3" cy="706" r="1.2" fill="#52e052" fill-opacity="0.89"/><circle cx="75.2" cy="693.3" r="1.3" fill="#52e052" fill-opacity="0.58"/><circle cx="107.5" cy="699" r="1.4" fill="#2fb82f" fill-opacity="0.81"/><circle cx="88.6" cy="697.1" r="1.3" fill="#3cc83c" fill-opacity="0.70"/><circle cx="94.6" cy="696.9" r="1" fill="#2fb82f" fill-opacity="0.88"/><circle cx="95.1" cy="697.4" r="0.9" fill="#52e052" fill-opacity="0.51"/><circle cx="139" cy="695.4" r="1.1" fill="#2fb82f" fill-opacity="0.51"/><circle cx="70.2" cy="698.8" r="1" fill="#3fd13f" fill-opacity="0.44"/><circle cx="120.5" cy="693" r="1.4" fill="#3cc83c" fill-opacity="0.48"/><circle cx="128.5" cy="693.2" r="0.7" fill="#3fd13f" fill-opacity="0.41"/><circle cx="111" cy="694.1" r="1.2" fill="#66ea66" fill-opacity="0.48"/><circle cx="95.2" cy="698.7" r="0.9" fill="#66ea66" fill-opacity="0.73"/><circle cx="117.5" cy="700.1" r="0.9" fill="#3fd13f" fill-opacity="0.47"/><circle cx="78.4" cy="702.7" r="1.1" fill="#3cc83c" fill-opacity="0.43"/><circle cx="83.2" cy="702.1" r="1" fill="#3cc83c" fill-opacity="0.95"/><circle cx="124.2" cy="703.7" r="0.8" fill="#3fd13f" fill-opacity="0.65"/><circle cx="87.5" cy="699.5" r="1.2" fill="#3cc83c" fill-opacity="0.48"/><circle cx="84.7" cy="706.3" r="1.2" fill="#3cc83c" fill-opacity="0.82"/><circle cx="103.3" cy="695.7" r="1.1" fill="#3fd13f" fill-opacity="0.60"/><circle cx="129.1" cy="695.6" r="1.4" fill="#3cc83c" fill-opacity="0.43"/><circle cx="120.3" cy="705.6" r="1" fill="#52e052" fill-opacity="0.99"/><circle cx="125.5" cy="704.2" r="1.3" fill="#3cc83c" fill-opacity="0.64"/><circle cx="99.1" cy="704" r="1.3" fill="#3cc83c" fill-opacity="0.86"/><circle cx="110.9" cy="705.9" r="0.8" fill="#66ea66" fill-opacity="0.40"/><circle cx="100.6" cy="695.1" r="0.8" fill="#3fd13f" fill-opacity="0.56"/><circle cx="125.9" cy="691.5" r="0.8" fill="#66ea66" fill-opacity="0.76"/><circle cx="82.4" cy="707.6" r="1.2" fill="#52e052" fill-opacity="0.88"/><circle cx="85.6" cy="698.5" r="1.1" fill="#66ea66" fill-opacity="0.46"/><circle cx="108.5" cy="700.6" r="1" fill="#2fb82f" fill-opacity="0.90"/><circle cx="105.3" cy="697.7" r="1.4" fill="#2fb82f" fill-opacity="0.99"/><circle cx="80.3" cy="699.1" r="1.1" fill="#2fb82f" fill-opacity="0.89"/><circle cx="84.7" cy="701" r="1.4" fill="#3fd13f" fill-opacity="0.94"/><circle cx="92.5" cy="710.3" r="0.9" fill="#66ea66" fill-opacity="0.73"/><circle cx="99.4" cy="707.8" r="1.3" fill="#3fd13f" fill-opacity="0.80"/><circle cx="78.2" cy="693.1" r="0.8" fill="#3fd13f" fill-opacity="0.82"/><circle cx="100.6" cy="702.9" r="1" fill="#66ea66" fill-opacity="0.55"/><circle cx="100.1" cy="696.8" r="1.5" fill="#2fb82f" fill-opacity="0.73"/><circle cx="97.9" cy="697.1" r="1.2" fill="#66ea66" fill-opacity="0.78"/><circle cx="79.4" cy="702.7" r="1.1" fill="#66ea66" fill-opacity="0.64"/><circle cx="99.7" cy="708.8" r="0.8" fill="#3fd13f" fill-opacity="0.93"/><circle cx="132.8" cy="692.8" r="1.1" fill="#3cc83c" fill-opacity="0.84"/><circle cx="115.8" cy="702.2" r="1.2" fill="#3fd13f" fill-opacity="0.48"/><circle cx="89.5" cy="708.2" r="1.5" fill="#66ea66" fill-opacity="0.93"/><circle cx="99.5" cy="696.4" r="1.1" fill="#66ea66" fill-opacity="0.56"/><circle cx="127.1" cy="702.6" r="0.9" fill="#2fb82f" fill-opacity="0.56"/><circle cx="81.3" cy="701.9" r="1.2" fill="#52e052" fill-opacity="0.48"/><circle cx="85.8" cy="702.8" r="1" fill="#66ea66" fill-opacity="0.89"/><circle cx="74.3" cy="700" r="1.1" fill="#52e052" fill-opacity="0.71"/><circle cx="80.5" cy="694.3" r="0.8" fill="#3fd13f" fill-opacity="0.66"/><circle cx="92.2" cy="698.1" r="1.3" fill="#3fd13f" fill-opacity="0.75"/><circle cx="137.7" cy="698.9" r="1.3" fill="#3cc83c" fill-opacity="0.95"/><circle cx="101.3" cy="705.4" r="0.9" fill="#2fb82f" fill-opacity="0.94"/><circle cx="118.9" cy="705.2" r="1.2" fill="#2fb82f" fill-opacity="0.56"/><circle cx="108.9" cy="700.5" r="1.3" fill="#52e052" fill-opacity="0.97"/><circle cx="74.9" cy="703" r="1.4" fill="#66ea66" fill-opacity="0.95"/><circle cx="73.8" cy="700.6" r="0.9" fill="#52e052" fill-opacity="0.77"/><circle cx="134.6" cy="699.8" r="1.2" fill="#2fb82f" fill-opacity="0.95"/><circle cx="127" cy="699" r="1.3" fill="#2fb82f" fill-opacity="0.69"/><circle cx="125.3" cy="703.4" r="0.8" fill="#52e052" fill-opacity="0.82"/><circle cx="138.7" cy="695.9" r="0.7" fill="#3cc83c" fill-opacity="0.67"/><circle cx="95.4" cy="697.5" r="1.2" fill="#3fd13f" fill-opacity="0.40"/><circle cx="82.6" cy="694.3" r="0.7" fill="#52e052" fill-opacity="0.82"/><circle cx="102.3" cy="696.5" r="1.2" fill="#66ea66" fill-opacity="0.91"/><circle cx="113" cy="708.2" r="1.4" fill="#66ea66" fill-opacity="0.69"/><circle cx="113.3" cy="690.8" r="0.8" fill="#66ea66" fill-opacity="0.50"/><circle cx="115.3" cy="692.5" r="0.8" fill="#52e052" fill-opacity="0.69"/><circle cx="107.3" cy="700.3" r="0.8" fill="#3fd13f" fill-opacity="0.79"/><circle cx="107.6" cy="689.4" r="0.7" fill="#2fb82f" fill-opacity="0.83"/><circle cx="85.6" cy="702.4" r="1.2" fill="#3cc83c" fill-opacity="0.95"/><circle cx="69.5" cy="694.1" r="1.1" fill="#66ea66" fill-opacity="0.96"/><circle cx="86.8" cy="695.4" r="0.9" fill="#66ea66" fill-opacity="0.64"/><circle cx="122.3" cy="696.2" r="1.5" fill="#2fb82f" fill-opacity="0.55"/><circle cx="132" cy="689.2" r="0.7" fill="#3fd13f" fill-opacity="0.66"/><circle cx="69.2" cy="697" r="0.9" fill="#3cc83c" fill-opacity="0.99"/><circle cx="83.7" cy="695.6" r="1.2" fill="#66ea66" fill-opacity="0.78"/><circle cx="114.6" cy="691.7" r="1.2" fill="#66ea66" fill-opacity="0.44"/><circle cx="84.8" cy="698" r="1.1" fill="#66ea66" fill-opacity="0.79"/><circle cx="91.8" cy="701.7" r="0.7" fill="#3cc83c" fill-opacity="0.99"/><circle cx="105.9" cy="707.9" r="0.7" fill="#52e052" fill-opacity="0.43"/><circle cx="98.8" cy="707.3" r="1.1" fill="#3fd13f" fill-opacity="0.46"/><circle cx="102.9" cy="703.2" r="1.2" fill="#3cc83c" fill-opacity="0.42"/><circle cx="133.4" cy="696.7" r="0.8" fill="#3fd13f" fill-opacity="0.49"/><circle cx="70.7" cy="694" r="1.1" fill="#2fb82f" fill-opacity="0.54"/><circle cx="84.5" cy="703" r="0.9" fill="#52e052" fill-opacity="0.82"/><circle cx="95.9" cy="710.4" r="1" fill="#66ea66" fill-opacity="0.66"/><circle cx="123.7" cy="689.4" r="1.4" fill="#3cc83c" fill-opacity="0.40"/><circle cx="88.8" cy="698.7" r="1.3" fill="#3cc83c" fill-opacity="0.53"/><circle cx="81" cy="696.1" r="1.1" fill="#3fd13f" fill-opacity="0.84"/><circle cx="110.2" cy="705.5" r="0.8" fill="#3cc83c" fill-opacity="0.60"/><circle cx="95.7" cy="692.1" r="1" fill="#2fb82f" fill-opacity="0.98"/><circle cx="92" cy="704.3" r="0.9" fill="#52e052" fill-opacity="0.67"/><circle cx="98.3" cy="707.3" r="1.4" fill="#52e052" fill-opacity="0.72"/><circle cx="102.7" cy="704.4" r="1.2" fill="#3cc83c" fill-opacity="0.91"/><circle cx="132.8" cy="701.9" r="1.2" fill="#66ea66" fill-opacity="0.62"/><circle cx="100.8" cy="698.4" r="1" fill="#52e052" fill-opacity="0.52"/><circle cx="96.7" cy="694.1" r="1.3" fill="#2fb82f" fill-opacity="0.75"/><circle cx="72.6" cy="693.5" r="0.7" fill="#3cc83c" fill-opacity="0.46"/><circle cx="107" cy="690.4" r="1.2" fill="#3cc83c" fill-opacity="0.86"/><circle cx="137.3" cy="692.8" r="1.2" fill="#3cc83c" fill-opacity="0.75"/><circle cx="100.3" cy="693.3" r="1.1" fill="#52e052" fill-opacity="0.56"/><circle cx="98.4" cy="701.5" r="1.1" fill="#52e052" fill-opacity="0.99"/><circle cx="132.8" cy="690.8" r="1" fill="#52e052" fill-opacity="0.82"/><circle cx="137.7" cy="700.1" r="1.2" fill="#3cc83c" fill-opacity="0.77"/><circle cx="87.6" cy="702.3" r="1.3" fill="#66ea66" fill-opacity="0.56"/><circle cx="106.9" cy="703.6" r="1.3" fill="#52e052" fill-opacity="0.94"/><circle cx="90.3" cy="691.3" r="0.9" fill="#3cc83c" fill-opacity="0.89"/><circle cx="114" cy="691.1" r="0.8" fill="#2fb82f" fill-opacity="0.86"/><circle cx="87.2" cy="693.7" r="1.2" fill="#3cc83c" fill-opacity="0.76"/><circle cx="112.8" cy="704.9" r="0.9" fill="#52e052" fill-opacity="0.60"/><circle cx="82.9" cy="707" r="1.1" fill="#52e052" fill-opacity="0.77"/><circle cx="130.4" cy="700.3" r="1" fill="#66ea66" fill-opacity="0.57"/><circle cx="129.9" cy="697.2" r="1.4" fill="#3cc83c" fill-opacity="0.77"/><circle cx="91.7" cy="696" r="1" fill="#2fb82f" fill-opacity="0.50"/><circle cx="110.5" cy="696.1" r="1.4" fill="#52e052" fill-opacity="0.94"/><circle cx="82.5" cy="695.7" r="0.9" fill="#66ea66" fill-opacity="0.64"/><circle cx="72.8" cy="706.9" r="1.3" fill="#3fd13f" fill-opacity="0.50"/><circle cx="114.3" cy="698.4" r="1.5" fill="#3fd13f" fill-opacity="0.68"/><circle cx="90" cy="696.2" r="1.1" fill="#66ea66" fill-opacity="0.44"/><circle cx="109.7" cy="696.4" r="0.9" fill="#66ea66" fill-opacity="0.65"/><circle cx="99.9" cy="691.9" r="1" fill="#52e052" fill-opacity="0.87"/><circle cx="74" cy="704.4" r="1" fill="#52e052" fill-opacity="0.58"/><circle cx="133.2" cy="695.2" r="1" fill="#52e052" fill-opacity="0.82"/></g>
<filter id="b8" x="-30%" y="-30%" width="160%" height="160%"><feGaussianBlur stdDeviation="8"/></filter>
<path d="M34,714 L197.3,710.1 L197.3,747.3 L34,747.3 Z" fill="#000" fill-opacity="0.85" filter="url(#b8)"/>
</g>
<text x="40.7" y="606.7" font-size="19.9" text-anchor="start" fill="#f0f0f0" class="nb">SFO/GCaMP</text>
<rect x="42.7" y="731.3" width="26" height="9" fill="#fff"/>
<clipPath id="ce2"><rect x="202.5" y="585" width="162.8" height="162.3"/></clipPath>
<g clip-path="url(#ce2)">
<rect x="202.5" y="585" width="162.8" height="162.3" fill="#0a0000"/>
<path d="M279,609 L283.8,641.8 L293.5,670.6 L306,691.8 L329.1,703.4 L365.3,716.8 L365.3,736.1 L336.8,726.5 L302.1,707.2 L279,704.3 L240.5,709.1 L203.9,720.7 L202,718.8 L230.9,707.2 L256.9,695.7 L264.6,670.6 L273.2,641.8 Z" fill="#520303" fill-opacity="0.8" filter="url(#b9)"/>
<path d="M279,632.1 L283.8,645.6 L289.6,661 L297.3,676.4 L307.9,691.8 L325.2,702.4 L288.6,704.3 L240.5,709.1 L255.9,697.6 L264.6,680.3 L269.4,661 L274.2,645.6 Z" fill="#a80808" fill-opacity="0.75" filter="url(#b7)"/>
<path d="M277.5,603.3 L281.3,603.3 L284.8,641.8 L274.2,641.8 Z" fill="#700505" fill-opacity="0.6" filter="url(#b5)"/>
<path d="M202,718.8 L230.9,707.2 L265.5,699.5 L265.5,707.2 L230.9,714.9 L202,724.5 Z" fill="#800606" fill-opacity="0.6" filter="url(#b6)"/>
<g filter="url(#b0_3)"><circle cx="261.7" cy="706.1" r="1.2" fill="#c80000" fill-opacity="0.79"/><circle cx="283" cy="661.7" r="1.3" fill="#ff1a10" fill-opacity="0.42"/><circle cx="280.9" cy="694.4" r="1.3" fill="#e00000" fill-opacity="0.79"/><circle cx="292.7" cy="684.4" r="0.9" fill="#ff1a10" fill-opacity="0.62"/><circle cx="304.3" cy="688.7" r="0.6" fill="#ff1000" fill-opacity="0.41"/><circle cx="276.2" cy="681.2" r="1.2" fill="#e00000" fill-opacity="0.84"/><circle cx="264.7" cy="690" r="1.2" fill="#c80000" fill-opacity="0.46"/><circle cx="316.8" cy="699" r="1.1" fill="#ff1a10" fill-opacity="0.64"/><circle cx="276.4" cy="676.8" r="1.3" fill="#ff2a1a" fill-opacity="0.63"/><circle cx="308.5" cy="696.4" r="0.8" fill="#ff2a1a" fill-opacity="0.95"/><circle cx="254.7" cy="704.1" r="1.2" fill="#f00a0a" fill-opacity="0.81"/><circle cx="287.9" cy="696.6" r="1" fill="#ff1a10" fill-opacity="0.58"/><circle cx="287.7" cy="658" r="0.7" fill="#ff1000" fill-opacity="0.54"/><circle cx="308.4" cy="702.3" r="0.7" fill="#c80000" fill-opacity="0.47"/><circle cx="252.4" cy="701.7" r="1" fill="#ff2a1a" fill-opacity="0.90"/><circle cx="287.8" cy="657.8" r="0.9" fill="#ff1000" fill-opacity="0.85"/><circle cx="307.1" cy="702.4" r="0.6" fill="#ff1a10" fill-opacity="0.58"/><circle cx="293" cy="681.3" r="1.3" fill="#e00000" fill-opacity="0.60"/><circle cx="291.9" cy="702" r="0.6" fill="#ff1000" fill-opacity="0.52"/><circle cx="278.7" cy="676" r="0.9" fill="#ff1000" fill-opacity="0.88"/><circle cx="271.7" cy="703.1" r="1" fill="#f00a0a" fill-opacity="0.36"/><circle cx="289" cy="664.8" r="0.9" fill="#e00000" fill-opacity="0.36"/><circle cx="285.8" cy="673.9" r="1.1" fill="#ff1a10" fill-opacity="0.72"/><circle cx="258.2" cy="706.2" r="0.7" fill="#ff1a10" fill-opacity="0.86"/><circle cx="281.3" cy="654.8" r="0.8" fill="#c80000" fill-opacity="0.75"/><circle cx="254.6" cy="699.9" r="0.9" fill="#c80000" fill-opacity="0.86"/><circle cx="310.8" cy="699.7" r="0.9" fill="#f00a0a" fill-opacity="0.71"/><circle cx="285.1" cy="662.1" r="1.1" fill="#c80000" fill-opacity="0.47"/><circle cx="284.1" cy="678.1" r="1.1" fill="#ff1a10" fill-opacity="0.58"/><circle cx="289.8" cy="681.4" r="0.6" fill="#ff1000" fill-opacity="0.57"/><circle cx="293.2" cy="700.5" r="1.1" fill="#f00a0a" fill-opacity="0.71"/><circle cx="295.3" cy="700.9" r="1.3" fill="#f00a0a" fill-opacity="0.91"/><circle cx="242.2" cy="708.9" r="1.1" fill="#f00a0a" fill-opacity="0.78"/><circle cx="271.4" cy="688.3" r="0.7" fill="#ff2a1a" fill-opacity="0.47"/><circle cx="297.9" cy="679.1" r="0.7" fill="#c80000" fill-opacity="0.62"/><circle cx="277.2" cy="644.2" r="0.9" fill="#ff1a10" fill-opacity="0.70"/><circle cx="316" cy="699.8" r="0.7" fill="#e00000" fill-opacity="0.77"/><circle cx="286.6" cy="677.2" r="0.9" fill="#f00a0a" fill-opacity="0.52"/><circle cx="281.9" cy="683.9" r="0.6" fill="#ff2a1a" fill-opacity="0.43"/><circle cx="275.3" cy="682.1" r="1.2" fill="#ff1000" fill-opacity="0.62"/><circle cx="264.2" cy="681" r="1" fill="#c80000" fill-opacity="0.40"/><circle cx="282" cy="645.1" r="0.6" fill="#e00000" fill-opacity="0.55"/><circle cx="260.4" cy="699.3" r="0.9" fill="#ff2a1a" fill-opacity="0.91"/><circle cx="270.2" cy="699.1" r="1.1" fill="#ff1a10" fill-opacity="0.39"/><circle cx="280" cy="679" r="0.9" fill="#ff2a1a" fill-opacity="0.91"/><circle cx="274.6" cy="694.4" r="1.1" fill="#e00000" fill-opacity="0.44"/><circle cx="270.1" cy="705.9" r="1.1" fill="#f00a0a" fill-opacity="0.87"/><circle cx="286.2" cy="659" r="1.3" fill="#f00a0a" fill-opacity="0.41"/><circle cx="270.5" cy="682" r="1.1" fill="#ff1000" fill-opacity="0.37"/><circle cx="282.5" cy="692.4" r="1.2" fill="#f00a0a" fill-opacity="0.93"/><circle cx="295.5" cy="682.3" r="0.9" fill="#ff1000" fill-opacity="0.43"/><circle cx="287.7" cy="675.3" r="1.2" fill="#e00000" fill-opacity="0.91"/><circle cx="291.9" cy="688.7" r="1.4" fill="#e00000" fill-opacity="0.64"/><circle cx="286" cy="679.9" r="1.4" fill="#ff2a1a" fill-opacity="0.48"/><circle cx="284.1" cy="699.4" r="0.7" fill="#ff2a1a" fill-opacity="0.78"/><circle cx="282.3" cy="690.3" r="0.9" fill="#ff2a1a" fill-opacity="0.49"/><circle cx="283.9" cy="680.3" r="1" fill="#c80000" fill-opacity="0.51"/><circle cx="296.8" cy="690.4" r="1.1" fill="#e00000" fill-opacity="0.75"/><circle cx="275.2" cy="697.9" r="0.8" fill="#f00a0a" fill-opacity="0.46"/><circle cx="282.4" cy="655.3" r="0.7" fill="#c80000" fill-opacity="0.82"/><circle cx="293.5" cy="688.4" r="0.8" fill="#e00000" fill-opacity="0.82"/><circle cx="297" cy="684" r="0.9" fill="#ff1000" fill-opacity="0.90"/><circle cx="273.5" cy="705.4" r="0.8" fill="#c80000" fill-opacity="0.85"/><circle cx="263.3" cy="683.5" r="0.7" fill="#ff1000" fill-opacity="0.38"/><circle cx="301.4" cy="699.9" r="1.2" fill="#c80000" fill-opacity="0.43"/><circle cx="272.8" cy="655.2" r="1.3" fill="#ff1000" fill-opacity="0.50"/><circle cx="261.1" cy="691" r="0.7" fill="#ff1000" fill-opacity="0.53"/><circle cx="277.4" cy="660.1" r="0.9" fill="#f00a0a" fill-opacity="0.49"/><circle cx="307.5" cy="692" r="1.1" fill="#ff1000" fill-opacity="0.58"/><circle cx="296.6" cy="697" r="0.9" fill="#ff1000" fill-opacity="0.63"/><circle cx="293.2" cy="671.2" r="1.2" fill="#ff1000" fill-opacity="0.56"/><circle cx="268.2" cy="679.2" r="1.4" fill="#ff2a1a" fill-opacity="0.42"/><circle cx="254.7" cy="707.4" r="1.1" fill="#e00000" fill-opacity="0.64"/><circle cx="278" cy="636.7" r="0.8" fill="#ff1000" fill-opacity="0.39"/><circle cx="290.7" cy="683.6" r="1" fill="#e00000" fill-opacity="0.81"/><circle cx="262.1" cy="703.5" r="1.1" fill="#ff2a1a" fill-opacity="0.70"/><circle cx="272.7" cy="692.4" r="0.7" fill="#e00000" fill-opacity="0.82"/><circle cx="286.8" cy="660.6" r="1.1" fill="#c80000" fill-opacity="0.49"/><circle cx="307.6" cy="697.1" r="1.3" fill="#ff2a1a" fill-opacity="0.44"/><circle cx="277.4" cy="660.8" r="0.8" fill="#ff2a1a" fill-opacity="0.56"/><circle cx="285.9" cy="688.7" r="1.4" fill="#ff1000" fill-opacity="0.94"/><circle cx="277.9" cy="650.9" r="1.2" fill="#f00a0a" fill-opacity="0.79"/><circle cx="262.6" cy="691.5" r="0.6" fill="#c80000" fill-opacity="0.58"/><circle cx="269.8" cy="695.6" r="0.7" fill="#ff1000" fill-opacity="0.37"/><circle cx="298.6" cy="687.7" r="0.8" fill="#e00000" fill-opacity="0.39"/><circle cx="270.5" cy="663.7" r="1.2" fill="#ff1a10" fill-opacity="0.85"/><circle cx="278.9" cy="700.2" r="1.1" fill="#ff1a10" fill-opacity="0.77"/><circle cx="271.6" cy="657.7" r="0.7" fill="#c80000" fill-opacity="0.81"/><circle cx="272.3" cy="683.8" r="0.7" fill="#e00000" fill-opacity="0.44"/><circle cx="290.8" cy="679" r="0.8" fill="#ff1000" fill-opacity="0.54"/><circle cx="275.7" cy="647.7" r="0.6" fill="#e00000" fill-opacity="0.39"/><circle cx="249.8" cy="705.6" r="1.3" fill="#e00000" fill-opacity="0.39"/><circle cx="268.2" cy="671.8" r="0.6" fill="#e00000" fill-opacity="0.56"/><circle cx="297.1" cy="691.7" r="1" fill="#ff2a1a" fill-opacity="0.49"/><circle cx="258.9" cy="698.8" r="1.2" fill="#f00a0a" fill-opacity="0.70"/><circle cx="310.1" cy="703.1" r="0.6" fill="#ff2a1a" fill-opacity="0.78"/><circle cx="300.6" cy="694.6" r="0.6" fill="#ff2a1a" fill-opacity="0.40"/><circle cx="280.1" cy="647.7" r="1" fill="#ff2a1a" fill-opacity="0.90"/><circle cx="272.1" cy="693.6" r="1" fill="#ff2a1a" fill-opacity="0.91"/><circle cx="258.8" cy="699.8" r="1.3" fill="#ff2a1a" fill-opacity="0.78"/><circle cx="280.6" cy="693.4" r="0.6" fill="#ff2a1a" fill-opacity="0.45"/><circle cx="290" cy="664.2" r="1" fill="#e00000" fill-opacity="0.92"/><circle cx="274.3" cy="662.4" r="1" fill="#ff1000" fill-opacity="0.43"/><circle cx="266.9" cy="688.2" r="1" fill="#f00a0a" fill-opacity="0.39"/><circle cx="274.7" cy="656.7" r="1.1" fill="#ff1a10" fill-opacity="0.68"/><circle cx="289.9" cy="674.8" r="1.2" fill="#ff2a1a" fill-opacity="0.93"/><circle cx="267" cy="678" r="1.3" fill="#ff1a10" fill-opacity="0.54"/><circle cx="282.7" cy="654.3" r="0.7" fill="#ff1000" fill-opacity="0.78"/><circle cx="305.4" cy="701.1" r="1" fill="#c80000" fill-opacity="0.54"/><circle cx="260" cy="691.7" r="1.2" fill="#c80000" fill-opacity="0.50"/><circle cx="292.8" cy="674.2" r="0.9" fill="#ff1000" fill-opacity="0.93"/><circle cx="280.3" cy="637" r="0.6" fill="#ff1000" fill-opacity="0.44"/><circle cx="299.3" cy="681.5" r="1.1" fill="#e00000" fill-opacity="0.77"/><circle cx="282.2" cy="674.9" r="1.3" fill="#ff2a1a" fill-opacity="0.39"/><circle cx="247.9" cy="706.5" r="1.4" fill="#e00000" fill-opacity="0.81"/><circle cx="270.8" cy="686.7" r="0.8" fill="#ff2a1a" fill-opacity="0.90"/><circle cx="285.9" cy="703.6" r="1.4" fill="#ff1000" fill-opacity="0.86"/><circle cx="304.5" cy="700" r="1.2" fill="#f00a0a" fill-opacity="0.89"/><circle cx="260.7" cy="699" r="0.8" fill="#ff1000" fill-opacity="0.56"/><circle cx="280.4" cy="686.4" r="0.8" fill="#c80000" fill-opacity="0.60"/><circle cx="285.8" cy="655.6" r="1" fill="#c80000" fill-opacity="0.58"/><circle cx="275.1" cy="659.7" r="0.6" fill="#e00000" fill-opacity="0.78"/><circle cx="299.1" cy="694" r="1" fill="#ff2a1a" fill-opacity="0.78"/><circle cx="292.1" cy="695.8" r="1" fill="#f00a0a" fill-opacity="0.75"/><circle cx="271.8" cy="687.5" r="1.3" fill="#f00a0a" fill-opacity="0.93"/><circle cx="300.9" cy="685" r="0.6" fill="#ff1000" fill-opacity="0.52"/><circle cx="284.8" cy="662.6" r="1.1" fill="#e00000" fill-opacity="0.44"/><circle cx="279.7" cy="672.6" r="1.1" fill="#c80000" fill-opacity="0.94"/><circle cx="279.4" cy="689.2" r="0.7" fill="#e00000" fill-opacity="0.64"/><circle cx="299.4" cy="682.8" r="1" fill="#ff1a10" fill-opacity="0.67"/><circle cx="273.4" cy="698.7" r="1.2" fill="#f00a0a" fill-opacity="0.41"/><circle cx="311.1" cy="700.4" r="1.1" fill="#ff2a1a" fill-opacity="0.39"/><circle cx="308.5" cy="693" r="1" fill="#e00000" fill-opacity="0.79"/><circle cx="279.2" cy="633.1" r="0.7" fill="#ff1000" fill-opacity="0.82"/><circle cx="288.9" cy="677.6" r="0.9" fill="#ff1000" fill-opacity="0.54"/><circle cx="274.1" cy="669.6" r="0.8" fill="#ff1000" fill-opacity="0.59"/><circle cx="278.1" cy="664" r="1.3" fill="#ff1a10" fill-opacity="0.87"/><circle cx="310.9" cy="698" r="1.3" fill="#f00a0a" fill-opacity="0.59"/><circle cx="271.4" cy="702.8" r="0.9" fill="#ff1a10" fill-opacity="0.40"/><circle cx="259.6" cy="704.9" r="0.8" fill="#ff2a1a" fill-opacity="0.57"/><circle cx="261" cy="689.3" r="1.3" fill="#c80000" fill-opacity="0.37"/><circle cx="272.5" cy="703.8" r="0.9" fill="#ff1a10" fill-opacity="0.84"/><circle cx="272.8" cy="661.5" r="0.8" fill="#c80000" fill-opacity="0.40"/><circle cx="286.6" cy="678.6" r="1" fill="#c80000" fill-opacity="0.41"/><circle cx="276.9" cy="656.7" r="1" fill="#ff2a1a" fill-opacity="0.43"/><circle cx="275.8" cy="683.6" r="1" fill="#c80000" fill-opacity="0.93"/><circle cx="249.6" cy="705" r="1.1" fill="#f00a0a" fill-opacity="0.79"/><circle cx="292.4" cy="668.4" r="0.9" fill="#f00a0a" fill-opacity="0.94"/><circle cx="298.8" cy="694.3" r="1.3" fill="#f00a0a" fill-opacity="0.70"/><circle cx="297.1" cy="701.7" r="1" fill="#ff2a1a" fill-opacity="0.90"/><circle cx="284" cy="674.1" r="1" fill="#e00000" fill-opacity="0.47"/><circle cx="275.8" cy="703.1" r="1" fill="#ff2a1a" fill-opacity="0.37"/><circle cx="291.7" cy="677.6" r="0.7" fill="#c80000" fill-opacity="0.44"/><circle cx="275.8" cy="686.7" r="0.8" fill="#ff1000" fill-opacity="0.38"/><circle cx="274.8" cy="664" r="1.3" fill="#e00000" fill-opacity="0.40"/><circle cx="311.1" cy="699.5" r="1" fill="#ff2a1a" fill-opacity="0.88"/><circle cx="271.7" cy="657" r="1" fill="#f00a0a" fill-opacity="0.40"/><circle cx="292.4" cy="673.7" r="1.1" fill="#c80000" fill-opacity="0.41"/><circle cx="249.7" cy="705.8" r="1.3" fill="#e00000" fill-opacity="0.84"/><circle cx="290.5" cy="675.1" r="0.9" fill="#ff1000" fill-opacity="0.59"/><circle cx="272.4" cy="705.4" r="0.6" fill="#ff2a1a" fill-opacity="0.77"/><circle cx="305.3" cy="698.1" r="1.3" fill="#c80000" fill-opacity="0.75"/><circle cx="278" cy="639.8" r="0.8" fill="#f00a0a" fill-opacity="0.67"/><circle cx="287.8" cy="676.7" r="0.7" fill="#ff2a1a" fill-opacity="0.71"/><circle cx="293.1" cy="679.1" r="0.7" fill="#ff1000" fill-opacity="0.71"/><circle cx="288.3" cy="681.6" r="1.3" fill="#f00a0a" fill-opacity="0.50"/><circle cx="300.7" cy="692.1" r="1.3" fill="#ff1000" fill-opacity="0.74"/><circle cx="265" cy="682.9" r="1.2" fill="#c80000" fill-opacity="0.43"/><circle cx="291.1" cy="699.6" r="1.3" fill="#ff1000" fill-opacity="0.83"/><circle cx="286.2" cy="688.1" r="1.2" fill="#ff1000" fill-opacity="0.68"/><circle cx="282.7" cy="653.5" r="1.2" fill="#ff2a1a" fill-opacity="0.44"/><circle cx="297.5" cy="697.8" r="0.7" fill="#e00000" fill-opacity="0.92"/><circle cx="294.2" cy="680.3" r="1.3" fill="#ff1000" fill-opacity="0.61"/><circle cx="286.3" cy="677.4" r="1.2" fill="#ff1000" fill-opacity="0.35"/><circle cx="275.6" cy="663.1" r="1.4" fill="#ff1000" fill-opacity="0.61"/><circle cx="299.8" cy="687" r="0.7" fill="#f00a0a" fill-opacity="0.43"/><circle cx="288.4" cy="675.9" r="1.4" fill="#c80000" fill-opacity="0.92"/><circle cx="285.2" cy="689.6" r="1.3" fill="#ff1000" fill-opacity="0.35"/><circle cx="275.2" cy="671.9" r="1.1" fill="#c80000" fill-opacity="0.47"/><circle cx="297.5" cy="688.6" r="1.2" fill="#f00a0a" fill-opacity="0.47"/><circle cx="295.1" cy="687.8" r="1" fill="#ff1a10" fill-opacity="0.88"/><circle cx="296.6" cy="701.9" r="1.3" fill="#e00000" fill-opacity="0.68"/><circle cx="282.6" cy="700" r="1.3" fill="#f00a0a" fill-opacity="0.71"/><circle cx="294.7" cy="679.8" r="0.7" fill="#ff1000" fill-opacity="0.79"/><circle cx="262" cy="696.8" r="1" fill="#f00a0a" fill-opacity="0.65"/><circle cx="287.7" cy="668.2" r="1.2" fill="#e00000" fill-opacity="0.62"/><circle cx="272.8" cy="680.5" r="0.8" fill="#ff1000" fill-opacity="0.61"/><circle cx="272.2" cy="667.1" r="0.6" fill="#ff1000" fill-opacity="0.65"/><circle cx="288.6" cy="699" r="1.1" fill="#ff1a10" fill-opacity="0.64"/><circle cx="276.3" cy="661" r="0.8" fill="#ff2a1a" fill-opacity="0.84"/><circle cx="279.5" cy="691.6" r="0.8" fill="#c80000" fill-opacity="0.43"/><circle cx="284.4" cy="689" r="1.2" fill="#ff2a1a" fill-opacity="0.81"/><circle cx="316.8" cy="700.5" r="1.2" fill="#ff1000" fill-opacity="0.40"/><circle cx="314" cy="698.2" r="1.1" fill="#f00a0a" fill-opacity="0.89"/><circle cx="290" cy="696.3" r="1.1" fill="#ff2a1a" fill-opacity="0.82"/><circle cx="279.8" cy="661.8" r="1.3" fill="#ff1000" fill-opacity="0.66"/><circle cx="273.5" cy="661" r="1.1" fill="#c80000" fill-opacity="0.88"/><circle cx="275.2" cy="670.6" r="1" fill="#f00a0a" fill-opacity="0.94"/><circle cx="276.8" cy="699.4" r="1" fill="#f00a0a" fill-opacity="0.42"/><circle cx="283.8" cy="703.9" r="1.2" fill="#ff1a10" fill-opacity="0.49"/><circle cx="274.1" cy="677.2" r="1.2" fill="#c80000" fill-opacity="0.64"/><circle cx="267.7" cy="685.6" r="1.2" fill="#f00a0a" fill-opacity="0.67"/><circle cx="299.8" cy="685.1" r="1.2" fill="#f00a0a" fill-opacity="0.93"/><circle cx="292.3" cy="703.6" r="1.3" fill="#ff2a1a" fill-opacity="0.63"/><circle cx="277.1" cy="652.9" r="1.2" fill="#e00000" fill-opacity="0.68"/><circle cx="260" cy="693.4" r="1.3" fill="#ff1a10" fill-opacity="0.94"/><circle cx="260.7" cy="698.2" r="1.3" fill="#f00a0a" fill-opacity="0.43"/><circle cx="282.1" cy="692.1" r="1" fill="#e00000" fill-opacity="0.67"/><circle cx="275.7" cy="648" r="1.2" fill="#c80000" fill-opacity="0.50"/><circle cx="299.3" cy="683" r="0.7" fill="#ff1a10" fill-opacity="0.77"/><circle cx="250" cy="705.9" r="0.9" fill="#ff1000" fill-opacity="0.49"/><circle cx="298.4" cy="683.8" r="1" fill="#c80000" fill-opacity="0.85"/><circle cx="277.2" cy="670.5" r="1" fill="#e00000" fill-opacity="0.70"/><circle cx="314.7" cy="700.6" r="1.1" fill="#ff1a10" fill-opacity="0.46"/><circle cx="259.4" cy="693.8" r="0.9" fill="#ff1000" fill-opacity="0.88"/><circle cx="274.8" cy="653.1" r="1.3" fill="#ff1000" fill-opacity="0.59"/><circle cx="294.2" cy="685.1" r="0.9" fill="#f00a0a" fill-opacity="0.71"/><circle cx="305.3" cy="690.5" r="0.7" fill="#ff2a1a" fill-opacity="0.38"/><circle cx="272.8" cy="672.3" r="0.8" fill="#ff1000" fill-opacity="0.66"/><circle cx="300.6" cy="684.6" r="1.4" fill="#f00a0a" fill-opacity="0.85"/><circle cx="315.3" cy="696.4" r="0.8" fill="#ff1000" fill-opacity="0.45"/><circle cx="281.7" cy="704.9" r="1.2" fill="#ff2a1a" fill-opacity="0.63"/><circle cx="303.7" cy="686.5" r="1.2" fill="#ff1a10" fill-opacity="0.79"/><circle cx="289.7" cy="662.6" r="1.1" fill="#ff1000" fill-opacity="0.61"/><circle cx="286.4" cy="685.3" r="0.6" fill="#ff2a1a" fill-opacity="0.84"/><circle cx="266.3" cy="679.3" r="0.7" fill="#ff2a1a" fill-opacity="0.56"/><circle cx="263.5" cy="706.7" r="1.3" fill="#ff1000" fill-opacity="0.36"/><circle cx="285.6" cy="674.7" r="0.6" fill="#ff1a10" fill-opacity="0.64"/><circle cx="248.1" cy="704.5" r="1.2" fill="#f00a0a" fill-opacity="0.47"/><circle cx="280.7" cy="679.9" r="1" fill="#c80000" fill-opacity="0.46"/><circle cx="307.3" cy="700.9" r="1.2" fill="#c80000" fill-opacity="0.56"/><circle cx="288.8" cy="671.6" r="0.6" fill="#f00a0a" fill-opacity="0.35"/><circle cx="266.5" cy="691.1" r="1" fill="#ff2a1a" fill-opacity="0.81"/><circle cx="271.1" cy="660.4" r="0.9" fill="#ff1000" fill-opacity="0.91"/><circle cx="304.4" cy="689.1" r="0.7" fill="#f00a0a" fill-opacity="0.86"/><circle cx="275.3" cy="693.6" r="1.4" fill="#f00a0a" fill-opacity="0.91"/><circle cx="297.1" cy="703.6" r="0.6" fill="#f00a0a" fill-opacity="0.61"/><circle cx="287.2" cy="673.9" r="0.7" fill="#e00000" fill-opacity="0.49"/><circle cx="286.2" cy="694" r="0.8" fill="#e00000" fill-opacity="0.36"/><circle cx="252.5" cy="705.2" r="1.2" fill="#ff1000" fill-opacity="0.57"/><circle cx="281.5" cy="702.5" r="1" fill="#ff1000" fill-opacity="0.82"/><circle cx="292.2" cy="698.3" r="0.7" fill="#f00a0a" fill-opacity="0.46"/><circle cx="281" cy="698.5" r="0.6" fill="#ff1a10" fill-opacity="0.71"/><circle cx="288.3" cy="690.8" r="0.9" fill="#ff1a10" fill-opacity="0.40"/><circle cx="273.8" cy="684.6" r="0.9" fill="#f00a0a" fill-opacity="0.47"/><circle cx="297.2" cy="688.9" r="1.3" fill="#f00a0a" fill-opacity="0.66"/><circle cx="288.5" cy="696" r="0.8" fill="#e00000" fill-opacity="0.65"/><circle cx="287.8" cy="682" r="1.3" fill="#ff1a10" fill-opacity="0.62"/><circle cx="271" cy="701" r="0.8" fill="#c80000" fill-opacity="0.77"/><circle cx="278.4" cy="704.9" r="1.3" fill="#f00a0a" fill-opacity="0.62"/><circle cx="296.2" cy="677.6" r="1.4" fill="#ff2a1a" fill-opacity="0.79"/><circle cx="304.4" cy="692.1" r="1.1" fill="#c80000" fill-opacity="0.62"/><circle cx="272.2" cy="689.4" r="0.8" fill="#c80000" fill-opacity="0.51"/><circle cx="304.8" cy="702.8" r="0.8" fill="#ff1000" fill-opacity="0.42"/><circle cx="284.1" cy="692.4" r="0.8" fill="#f00a0a" fill-opacity="0.76"/><circle cx="292.9" cy="670" r="1" fill="#ff1000" fill-opacity="0.92"/><circle cx="277.2" cy="668.6" r="0.7" fill="#ff1000" fill-opacity="0.82"/><circle cx="274.8" cy="646.7" r="0.9" fill="#ff1000" fill-opacity="0.93"/><circle cx="274.9" cy="656.1" r="1.3" fill="#ff1a10" fill-opacity="0.77"/><circle cx="298.5" cy="701.8" r="1.1" fill="#ff1000" fill-opacity="0.81"/><circle cx="273.8" cy="685.3" r="1.2" fill="#c80000" fill-opacity="0.89"/><circle cx="263.2" cy="702.3" r="1.3" fill="#ff1a10" fill-opacity="0.61"/><circle cx="276.6" cy="682.8" r="1" fill="#ff1000" fill-opacity="0.45"/><circle cx="290.3" cy="671.7" r="1" fill="#ff2a1a" fill-opacity="0.91"/><circle cx="249.1" cy="708.1" r="0.6" fill="#e00000" fill-opacity="0.65"/><circle cx="278.7" cy="680.8" r="0.7" fill="#ff1000" fill-opacity="0.86"/><circle cx="287.5" cy="682" r="0.6" fill="#ff1000" fill-opacity="0.52"/><circle cx="271.1" cy="692.2" r="1.2" fill="#e00000" fill-opacity="0.77"/><circle cx="282.6" cy="672.8" r="0.9" fill="#f00a0a" fill-opacity="0.82"/><circle cx="294.4" cy="698.1" r="0.7" fill="#ff1000" fill-opacity="0.70"/><circle cx="288.9" cy="665.4" r="1.1" fill="#ff1a10" fill-opacity="0.38"/><circle cx="276.6" cy="659.5" r="0.8" fill="#ff1000" fill-opacity="0.83"/><circle cx="293.5" cy="696.8" r="1.3" fill="#ff1000" fill-opacity="0.40"/><circle cx="280.1" cy="657.2" r="0.7" fill="#ff1000" fill-opacity="0.37"/><circle cx="277.6" cy="695.1" r="1" fill="#f00a0a" fill-opacity="0.51"/><circle cx="262.7" cy="692.8" r="0.9" fill="#f00a0a" fill-opacity="0.84"/><circle cx="291.1" cy="685.3" r="1.2" fill="#c80000" fill-opacity="0.65"/><circle cx="285.9" cy="654.8" r="1.2" fill="#c80000" fill-opacity="0.39"/><circle cx="296.7" cy="687.1" r="0.9" fill="#c80000" fill-opacity="0.88"/><circle cx="278.2" cy="659.7" r="0.6" fill="#e00000" fill-opacity="0.76"/><circle cx="277" cy="652.4" r="0.9" fill="#ff1a10" fill-opacity="0.87"/><circle cx="286.1" cy="702.7" r="1.3" fill="#ff2a1a" fill-opacity="0.81"/><circle cx="284.5" cy="649.6" r="0.7" fill="#f00a0a" fill-opacity="0.90"/><circle cx="278.5" cy="657.3" r="1" fill="#ff1a10" fill-opacity="0.44"/><circle cx="292.8" cy="684.4" r="0.8" fill="#ff1000" fill-opacity="0.43"/><circle cx="289.6" cy="695.1" r="1.2" fill="#ff1000" fill-opacity="0.43"/><circle cx="270.8" cy="663" r="0.6" fill="#ff1a10" fill-opacity="0.49"/><circle cx="294.1" cy="692.7" r="0.8" fill="#ff2a1a" fill-opacity="0.39"/><circle cx="271.6" cy="673.8" r="1.2" fill="#ff1a10" fill-opacity="0.71"/><circle cx="287" cy="682.8" r="0.9" fill="#ff1000" fill-opacity="0.36"/><circle cx="254.8" cy="703" r="0.8" fill="#f00a0a" fill-opacity="0.74"/><circle cx="284.2" cy="663.8" r="0.9" fill="#ff2a1a" fill-opacity="0.46"/><circle cx="272.6" cy="681.2" r="1.4" fill="#e00000" fill-opacity="0.92"/><circle cx="265.3" cy="684.1" r="0.7" fill="#ff2a1a" fill-opacity="0.55"/><circle cx="274.8" cy="699.8" r="1.3" fill="#c80000" fill-opacity="0.41"/><circle cx="303.5" cy="693" r="1" fill="#e00000" fill-opacity="0.95"/><circle cx="293.6" cy="700.1" r="1.4" fill="#c80000" fill-opacity="0.65"/><circle cx="276" cy="673.7" r="0.9" fill="#c80000" fill-opacity="0.74"/><circle cx="291.7" cy="704.1" r="1" fill="#ff1000" fill-opacity="0.82"/><circle cx="277.9" cy="645.9" r="1.1" fill="#f00a0a" fill-opacity="0.39"/><circle cx="259.3" cy="706.5" r="1" fill="#ff2a1a" fill-opacity="0.37"/><circle cx="281.7" cy="666.8" r="0.6" fill="#e00000" fill-opacity="0.74"/><circle cx="302" cy="692.6" r="0.7" fill="#e00000" fill-opacity="0.40"/><circle cx="290" cy="689.3" r="0.9" fill="#c80000" fill-opacity="0.93"/><circle cx="284.9" cy="684.1" r="1.4" fill="#ff1a10" fill-opacity="0.71"/><circle cx="269" cy="688.6" r="0.8" fill="#f00a0a" fill-opacity="0.45"/><circle cx="260.4" cy="699.3" r="0.7" fill="#ff1a10" fill-opacity="0.63"/><circle cx="289.5" cy="672.8" r="1.1" fill="#e00000" fill-opacity="0.41"/><circle cx="280.5" cy="663" r="1.2" fill="#ff2a1a" fill-opacity="0.48"/><circle cx="284.2" cy="692.5" r="0.7" fill="#ff2a1a" fill-opacity="0.65"/><circle cx="276" cy="663.9" r="1.2" fill="#ff2a1a" fill-opacity="0.79"/><circle cx="265.7" cy="701.5" r="1.1" fill="#f00a0a" fill-opacity="0.78"/><circle cx="273" cy="677.9" r="1" fill="#ff1a10" fill-opacity="0.83"/><circle cx="287.8" cy="656.3" r="0.7" fill="#ff2a1a" fill-opacity="0.72"/><circle cx="265.3" cy="693.8" r="1.1" fill="#ff2a1a" fill-opacity="0.62"/><circle cx="299" cy="698.6" r="1" fill="#ff1a10" fill-opacity="0.89"/><circle cx="269" cy="664.8" r="1.4" fill="#ff1000" fill-opacity="0.41"/><circle cx="300.2" cy="702.7" r="1.1" fill="#ff2a1a" fill-opacity="0.36"/><circle cx="305" cy="701.8" r="1.1" fill="#ff1000" fill-opacity="0.91"/><circle cx="268.1" cy="667.9" r="1.2" fill="#c80000" fill-opacity="0.41"/><circle cx="279.2" cy="638.3" r="1.3" fill="#f00a0a" fill-opacity="0.93"/><circle cx="282.7" cy="646" r="1.3" fill="#ff1000" fill-opacity="0.46"/><circle cx="292.8" cy="703.3" r="1.2" fill="#c80000" fill-opacity="0.53"/><circle cx="280.8" cy="679.3" r="1.1" fill="#c80000" fill-opacity="0.53"/><circle cx="295.7" cy="673.5" r="1.1" fill="#c80000" fill-opacity="0.92"/><circle cx="274.7" cy="669.5" r="1.3" fill="#ff2a1a" fill-opacity="0.48"/><circle cx="278.6" cy="702.4" r="0.6" fill="#e00000" fill-opacity="0.85"/><circle cx="292.4" cy="702.6" r="1" fill="#ff2a1a" fill-opacity="0.86"/><circle cx="265.8" cy="676.1" r="1.3" fill="#f00a0a" fill-opacity="0.57"/><circle cx="290.4" cy="692.8" r="1.4" fill="#ff1000" fill-opacity="0.66"/></g>
<g filter="url(#b0_35)"><circle cx="343.9" cy="728.5" r="1.2" fill="#ff2a1a" fill-opacity="0.31"/><circle cx="253.4" cy="705.2" r="1" fill="#ff1000" fill-opacity="0.28"/><circle cx="294.9" cy="687" r="1" fill="#ff1a10" fill-opacity="0.68"/><circle cx="270.9" cy="688.5" r="0.8" fill="#ff1000" fill-opacity="0.58"/><circle cx="337.8" cy="720" r="0.7" fill="#e00000" fill-opacity="0.66"/><circle cx="334.2" cy="708" r="0.8" fill="#ff2a1a" fill-opacity="0.36"/><circle cx="297.5" cy="678.6" r="1.2" fill="#f00a0a" fill-opacity="0.27"/><circle cx="324.9" cy="716.7" r="0.7" fill="#ff1000" fill-opacity="0.32"/><circle cx="216.7" cy="715.2" r="1.1" fill="#ff1a10" fill-opacity="0.30"/><circle cx="285" cy="679.2" r="1.1" fill="#f00a0a" fill-opacity="0.24"/><circle cx="295.8" cy="684" r="1.2" fill="#e00000" fill-opacity="0.62"/><circle cx="298.1" cy="705.8" r="0.6" fill="#ff1a10" fill-opacity="0.35"/><circle cx="220.9" cy="711.2" r="1.1" fill="#e00000" fill-opacity="0.51"/><circle cx="267.1" cy="665.6" r="1.1" fill="#e00000" fill-opacity="0.67"/><circle cx="321.9" cy="714.3" r="1.2" fill="#f00a0a" fill-opacity="0.29"/><circle cx="326.3" cy="717.5" r="1.3" fill="#ff1000" fill-opacity="0.36"/><circle cx="271.7" cy="674.4" r="1.1" fill="#f00a0a" fill-opacity="0.65"/><circle cx="286.9" cy="677.4" r="1.1" fill="#f00a0a" fill-opacity="0.32"/><circle cx="301.5" cy="707.1" r="0.6" fill="#ff1000" fill-opacity="0.41"/><circle cx="261.5" cy="688.6" r="1.1" fill="#f00a0a" fill-opacity="0.30"/><circle cx="276.7" cy="628" r="0.9" fill="#ff1000" fill-opacity="0.63"/><circle cx="290.4" cy="696.1" r="1.1" fill="#ff1000" fill-opacity="0.48"/><circle cx="350.9" cy="720.2" r="0.6" fill="#ff2a1a" fill-opacity="0.47"/><circle cx="315.8" cy="709.6" r="0.8" fill="#ff1a10" fill-opacity="0.34"/><circle cx="276.9" cy="635.7" r="1.1" fill="#ff1a10" fill-opacity="0.52"/><circle cx="323.7" cy="712.5" r="1" fill="#c80000" fill-opacity="0.36"/><circle cx="270.2" cy="660.3" r="0.9" fill="#ff2a1a" fill-opacity="0.23"/><circle cx="242.6" cy="702.9" r="1" fill="#ff1000" fill-opacity="0.49"/><circle cx="313.3" cy="700.7" r="0.9" fill="#e00000" fill-opacity="0.21"/><circle cx="276.3" cy="632.4" r="1.1" fill="#ff2a1a" fill-opacity="0.58"/><circle cx="283.8" cy="669.8" r="1.2" fill="#e00000" fill-opacity="0.23"/><circle cx="206.1" cy="718.2" r="0.7" fill="#ff1a10" fill-opacity="0.58"/><circle cx="313.3" cy="713.2" r="1.2" fill="#f00a0a" fill-opacity="0.62"/><circle cx="357.9" cy="723.9" r="1.2" fill="#ff2a1a" fill-opacity="0.68"/><circle cx="353.3" cy="725.3" r="1.2" fill="#c80000" fill-opacity="0.32"/><circle cx="272.5" cy="674.1" r="0.8" fill="#ff2a1a" fill-opacity="0.57"/><circle cx="286.4" cy="699.4" r="1" fill="#ff1a10" fill-opacity="0.44"/><circle cx="285.7" cy="692.4" r="0.7" fill="#f00a0a" fill-opacity="0.21"/><circle cx="260.1" cy="693.3" r="1.2" fill="#f00a0a" fill-opacity="0.48"/><circle cx="289.1" cy="668.6" r="1.1" fill="#c80000" fill-opacity="0.27"/><circle cx="285.2" cy="680.1" r="1.1" fill="#f00a0a" fill-opacity="0.68"/><circle cx="284.2" cy="667.8" r="0.7" fill="#e00000" fill-opacity="0.58"/><circle cx="336.3" cy="712.9" r="0.8" fill="#f00a0a" fill-opacity="0.47"/><circle cx="311" cy="696" r="0.9" fill="#ff2a1a" fill-opacity="0.43"/><circle cx="289.5" cy="664.1" r="0.8" fill="#ff1000" fill-opacity="0.66"/><circle cx="294.9" cy="695.9" r="0.8" fill="#e00000" fill-opacity="0.61"/><circle cx="337.7" cy="723.7" r="0.8" fill="#ff1000" fill-opacity="0.62"/><circle cx="275.5" cy="645" r="0.8" fill="#ff1a10" fill-opacity="0.21"/><circle cx="354.1" cy="721.2" r="1.1" fill="#ff1000" fill-opacity="0.23"/><circle cx="223.4" cy="713.5" r="1.3" fill="#ff1a10" fill-opacity="0.44"/><circle cx="288.7" cy="701.8" r="0.9" fill="#e00000" fill-opacity="0.69"/><circle cx="290.2" cy="687.3" r="1.2" fill="#e00000" fill-opacity="0.53"/><circle cx="315.7" cy="703.2" r="1.2" fill="#c80000" fill-opacity="0.65"/><circle cx="271.3" cy="679" r="1" fill="#f00a0a" fill-opacity="0.50"/><circle cx="278.2" cy="698.1" r="1.2" fill="#f00a0a" fill-opacity="0.49"/><circle cx="275.3" cy="654.4" r="1.1" fill="#f00a0a" fill-opacity="0.49"/><circle cx="296.2" cy="679.5" r="0.9" fill="#e00000" fill-opacity="0.60"/><circle cx="291.8" cy="688.6" r="1.2" fill="#f00a0a" fill-opacity="0.30"/><circle cx="287.3" cy="668.5" r="0.7" fill="#c80000" fill-opacity="0.45"/><circle cx="281.8" cy="669.2" r="0.7" fill="#e00000" fill-opacity="0.54"/><circle cx="289.8" cy="695.3" r="0.9" fill="#e00000" fill-opacity="0.65"/><circle cx="270.2" cy="658.9" r="0.8" fill="#ff2a1a" fill-opacity="0.62"/><circle cx="287.7" cy="684.1" r="1.1" fill="#c80000" fill-opacity="0.48"/><circle cx="274.3" cy="670.5" r="1.1" fill="#c80000" fill-opacity="0.54"/><circle cx="357.2" cy="722.3" r="1.2" fill="#ff2a1a" fill-opacity="0.33"/><circle cx="304.3" cy="699.1" r="1.3" fill="#ff1a10" fill-opacity="0.63"/><circle cx="299.4" cy="695.4" r="1.2" fill="#f00a0a" fill-opacity="0.49"/><circle cx="294.4" cy="689.5" r="1.2" fill="#e00000" fill-opacity="0.38"/><circle cx="301.1" cy="690.5" r="1.2" fill="#c80000" fill-opacity="0.20"/><circle cx="309.1" cy="708.5" r="1" fill="#ff2a1a" fill-opacity="0.32"/><circle cx="280.7" cy="636.5" r="0.9" fill="#ff1000" fill-opacity="0.30"/><circle cx="278.6" cy="627.5" r="0.8" fill="#e00000" fill-opacity="0.47"/><circle cx="363.7" cy="716.9" r="0.8" fill="#ff1000" fill-opacity="0.61"/><circle cx="283.9" cy="654.8" r="0.6" fill="#ff1000" fill-opacity="0.38"/><circle cx="311.9" cy="699.6" r="0.9" fill="#ff2a1a" fill-opacity="0.32"/><circle cx="299.1" cy="698" r="0.9" fill="#ff1a10" fill-opacity="0.48"/><circle cx="263.7" cy="693.5" r="0.7" fill="#ff2a1a" fill-opacity="0.50"/></g>
<path d="M202,722.6 L240.5,711.1 L279,707.2 L302.1,711.1 L336.8,730.3 L365.3,745.7 L365.3,747.3 L202,747.3 Z" fill="#030000" fill-opacity="0.9" filter="url(#b3)"/>
</g>
<text x="209.6" y="606.7" font-size="19.9" text-anchor="start" fill="#f0f0f0" class="nb">MnPO/mCherry</text>
<defs><linearGradient id="arrg" x1="0" y1="0" x2="0" y2="1"><stop offset="0" stop-color="#5cb870"/><stop offset="1" stop-color="#2e9ee0"/></linearGradient></defs>
<g transform="translate(30,35) scale(0.140845)" fill="none" stroke="#111" stroke-linejoin="round">
<path vector-effect="non-scaling-stroke" stroke-width="1.3" fill="#fff" d="M600,75 C590,50 560,42 480,42 C350,45 180,130 90,260 C30,350 20,470 50,570 C80,670 150,750 240,785 C300,800 360,780 400,722 C420,712 440,722 460,750 C500,785 560,792 600,792 C650,792 700,780 735,742 C760,728 790,728 800,745 C830,780 900,795 980,790 C1080,750 1140,650 1160,520 C1175,380 1120,250 1040,170 C960,90 850,45 760,42 C680,40 620,50 600,75 Z"/>
<path vector-effect="non-scaling-stroke" stroke-width="1.1" d="M600,75 L600,200"/>
<path vector-effect="non-scaling-stroke" stroke-width="0.9" fill="#e9e9e9" d="M340,255 C370,215 430,200 480,198 C520,200 550,220 600,228 C650,220 690,198 730,196 C790,198 840,225 862,260 C855,290 820,300 780,300 C730,300 690,305 650,325 C625,335 610,320 600,305 C590,320 570,335 545,330 C500,310 460,300 420,300 C380,298 350,285 340,255 Z"/>
<ellipse vector-effect="non-scaling-stroke" stroke="#9a9a9a" stroke-width="0.7" cx="470" cy="255" rx="95" ry="38"/>
<ellipse vector-effect="non-scaling-stroke" stroke="#9a9a9a" stroke-width="0.7" cx="730" cy="255" rx="95" ry="38"/>
<ellipse vector-effect="non-scaling-stroke" stroke="#9a9a9a" stroke-width="0.7" cx="470" cy="258" rx="70" ry="24"/>
<ellipse vector-effect="non-scaling-stroke" stroke="#9a9a9a" stroke-width="0.7" cx="730" cy="258" rx="70" ry="24"/>
<ellipse vector-effect="non-scaling-stroke" stroke="#9a9a9a" stroke-width="0.7" cx="480" cy="262" rx="45" ry="12"/>
<ellipse vector-effect="non-scaling-stroke" stroke="#9a9a9a" stroke-width="0.7" cx="720" cy="262" rx="45" ry="12"/>
<path vector-effect="non-scaling-stroke" stroke="#999" stroke-width="0.7" d="M430,300 C470,270 520,270 560,300 M640,300 C680,270 730,270 770,300"/>
<path vector-effect="non-scaling-stroke" stroke-width="2.2" d="M330,245 C400,185 470,168 510,165 C540,178 560,200 600,207 C640,200 665,178 700,162 C760,162 830,188 872,245"/>
<path vector-effect="non-scaling-stroke" stroke-width="1.0" d="M345,255 C410,200 470,185 505,183 C540,195 565,215 600,220 C640,215 665,195 700,180 C760,180 820,200 858,255"/>
<path vector-effect="non-scaling-stroke" stroke-width="2.4" d="M195,680 C165,640 155,560 155,480 C160,400 200,330 260,280 C300,245 330,228 350,215"/>
<path vector-effect="non-scaling-stroke" stroke-width="1.1" d="M212,330 C250,280 300,235 360,205 C410,180 460,170 505,165"/>
<path vector-effect="non-scaling-stroke" stroke-width="2.4" d="M975,690 C1005,650 1030,560 1035,460 C1035,380 1000,310 940,250 C900,215 870,195 850,185"/>
<path vector-effect="non-scaling-stroke" stroke-width="1.1" d="M990,330 C950,270 900,230 850,200 C800,175 750,165 700,160"/>
<path vector-effect="non-scaling-stroke" stroke-width="2.0" d="M168,525 C195,565 230,600 262,635 M1030,520 C1000,560 965,595 935,628"/>
<path vector-effect="non-scaling-stroke" stroke-width="1.1" d="M285,300 C280,350 290,385 330,385 C352,378 356,348 382,332 C430,322 480,330 520,338 L585,325 M915,310 C918,355 905,385 870,385 C848,378 842,350 820,335 C770,322 720,330 680,338 L615,325"/>
<path fill="#000" stroke="none" d="M285,292 C300,270 330,270 336,292 L332,358 C312,366 292,360 286,340 Z"/>
<path fill="#000" stroke="none" d="M878,280 C898,272 916,288 916,310 L915,376 C898,380 884,370 880,350 Z"/>
<path fill="#000" stroke="none" d="M580,268 L612,268 L609,330 C606,358 599,370 594,370 C588,360 583,330 580,300 Z"/>
<path vector-effect="non-scaling-stroke" stroke-width="1.9" d="M597,655 L597,775"/>
<ellipse vector-effect="non-scaling-stroke" cx="465" cy="750" rx="30" ry="13" transform="rotate(35 465 750)" fill="#6fc16f" stroke="#2a6a2a" stroke-width="0.8"/>
<ellipse vector-effect="non-scaling-stroke" cx="727" cy="757" rx="27" ry="12" transform="rotate(-32 727 757)" fill="#6fc16f" stroke="#2a6a2a" stroke-width="0.8"/>
</g>
<rect x="131.1" y="32.2" width="3.5" height="104" fill="#d8d8d8" stroke="#666" stroke-width="0.8"/>
<path d="M130.6,135 L135.2,135 L136.2,139.5 L129.6,139.5 Z" fill="#8fd3f5"/>
<line x1="70.9" y1="34.9" x2="127.7" y2="138" stroke="#111" stroke-width="1.0"/>
<rect x="132" y="15.5" width="1.3" height="12" fill="url(#arrg)"/>
<path d="M130.2,16 L135,16 L132.6,11.2 Z" fill="#5cb870"/>
<path d="M130.2,27 L135,27 L132.6,32.2 Z" fill="#2e9ee0"/>
<text x="44" y="33.3" font-size="19.6" text-anchor="start" fill="#000">SON</text>
<g transform="translate(30,430) scale(0.170170)" fill="none" stroke="#111" stroke-linejoin="round">
<path vector-effect="non-scaling-stroke" stroke-width="1.3" fill="#fff" d="M490,215 C470,200 440,198 400,200 C300,210 180,260 100,350 C40,420 25,520 40,600 C60,690 130,770 230,795 C300,805 350,792 380,775 C405,770 420,790 450,795 L490,800 L530,795 C560,790 575,770 600,772 C640,790 700,805 760,795 C860,770 930,700 955,600 C975,500 950,410 890,340 C810,260 700,215 600,203 C540,198 505,203 490,215 Z"/>
<path vector-effect="non-scaling-stroke" stroke-width="0.9" d="M395,780 C420,770 440,782 460,790 M525,790 C545,782 565,770 590,778"/>
<path vector-effect="non-scaling-stroke" stroke-width="2.0" d="M185,690 C150,640 140,560 150,500 C170,420 250,360 330,335 C370,325 395,318 410,325 C430,345 460,358 490,360 C520,358 550,345 575,328 C620,318 720,350 790,400 C850,460 865,560 845,620 C830,660 815,680 800,680"/>
<path vector-effect="non-scaling-stroke" stroke-width="1.0" d="M165,470 C200,400 270,365 330,352 C380,340 400,338 412,345 C435,362 462,372 490,374 C520,372 548,362 572,345 C610,335 700,360 770,410 C820,450 840,510 842,560"/>
<path vector-effect="non-scaling-stroke" stroke-width="1.2" d="M185,690 L165,668 M185,690 L205,675 M800,680 L790,665 M800,680 L812,668"/>
<path fill="#000" stroke="none" d="M300,372 C330,350 400,345 432,362 C446,392 440,420 420,440 C390,452 362,446 342,462 C326,472 316,466 311,452 C305,422 300,392 300,372 Z"/>
<path fill="#000" stroke="none" d="M545,352 C580,340 640,345 667,365 C677,400 672,440 657,472 C642,482 620,472 600,452 C575,432 546,422 541,402 C538,382 540,362 545,352 Z"/>
<path vector-effect="non-scaling-stroke" stroke-width="1.0" d="M310,455 C320,480 340,485 380,470 L440,460 M657,472 C650,490 630,488 600,472 L565,462"/>
<path fill="#000" stroke="none" d="M438,458 C470,450 520,450 567,460 C562,476 522,480 492,480 C470,480 445,474 438,458 Z"/>
<path vector-effect="non-scaling-stroke" stroke-width="1.0" fill="#fff" d="M440,478 C442,498 448,512 456,516 C462,505 464,490 466,480 Z M532,480 C534,495 540,512 548,516 C555,505 556,492 556,478 Z"/>
<path vector-effect="non-scaling-stroke" stroke-width="1.5" fill="#000" d="M490,655 C482,665 484,690 490,700 C496,690 498,665 490,655 Z M490,700 L490,790"/>
</g>
<rect x="112.3" y="456.4" width="4.4" height="50" fill="#d8d8d8" stroke="#666" stroke-width="0.8"/>
<path d="M111.8,505 L117.2,505 L117.6,508.5 L111.4,508.5 Z" fill="#8fd3f5"/>
<ellipse cx="114.5" cy="509" rx="3.2" ry="1.4" fill="#3cb04a"/>
<line x1="70" y1="460.6" x2="110" y2="503" stroke="#111" stroke-width="1.0"/>
<rect x="113.9" y="438.5" width="1.3" height="12.5" fill="url(#arrg)"/>
<path d="M112.2,439.5 L116.8,439.5 L114.5,435 Z" fill="#5cb870"/>
<path d="M112.2,450.5 L116.8,450.5 L114.5,456 Z" fill="#2e9ee0"/>
<text x="34.5" y="456.7" font-size="19.6" text-anchor="start" fill="#000">SFO</text>
<text x="275.2" y="40" font-size="20" text-anchor="middle" fill="#000">SON</text>
<text x="276.5" y="64.6" font-size="20" text-anchor="middle" fill="#000" font-style="italic">Avp::GCaMP</text>
<text x="275.5" y="91" font-size="20" text-anchor="middle" fill="#000">+</text>
<text x="275.5" y="114" font-size="20" text-anchor="middle" fill="#000">MnPO</text>
<text x="277" y="137.6" font-size="20" text-anchor="middle" fill="#000" font-style="italic">Camk2a::hM4D(G<tspan font-size="11.5" dy="5">i</tspan><tspan dy="-5">)</tspan></text>
<text x="275.6" y="464.4" font-size="20" text-anchor="middle" fill="#000">SFO</text>
<text x="275.5" y="488.8" font-size="20" text-anchor="middle" fill="#000" font-style="italic">Nos1::GCaMP</text>
<text x="275.5" y="515.5" font-size="20" text-anchor="middle" fill="#000">+</text>
<text x="275.5" y="538.3" font-size="20" text-anchor="middle" fill="#000">MnPO</text>
<text x="277.5" y="562.3" font-size="20" text-anchor="middle" fill="#000" font-style="italic">Nos1::hM4D(G<tspan font-size="11.5" dy="5">i</tspan><tspan dy="-5">)</tspan></text>
</svg></body></html>
